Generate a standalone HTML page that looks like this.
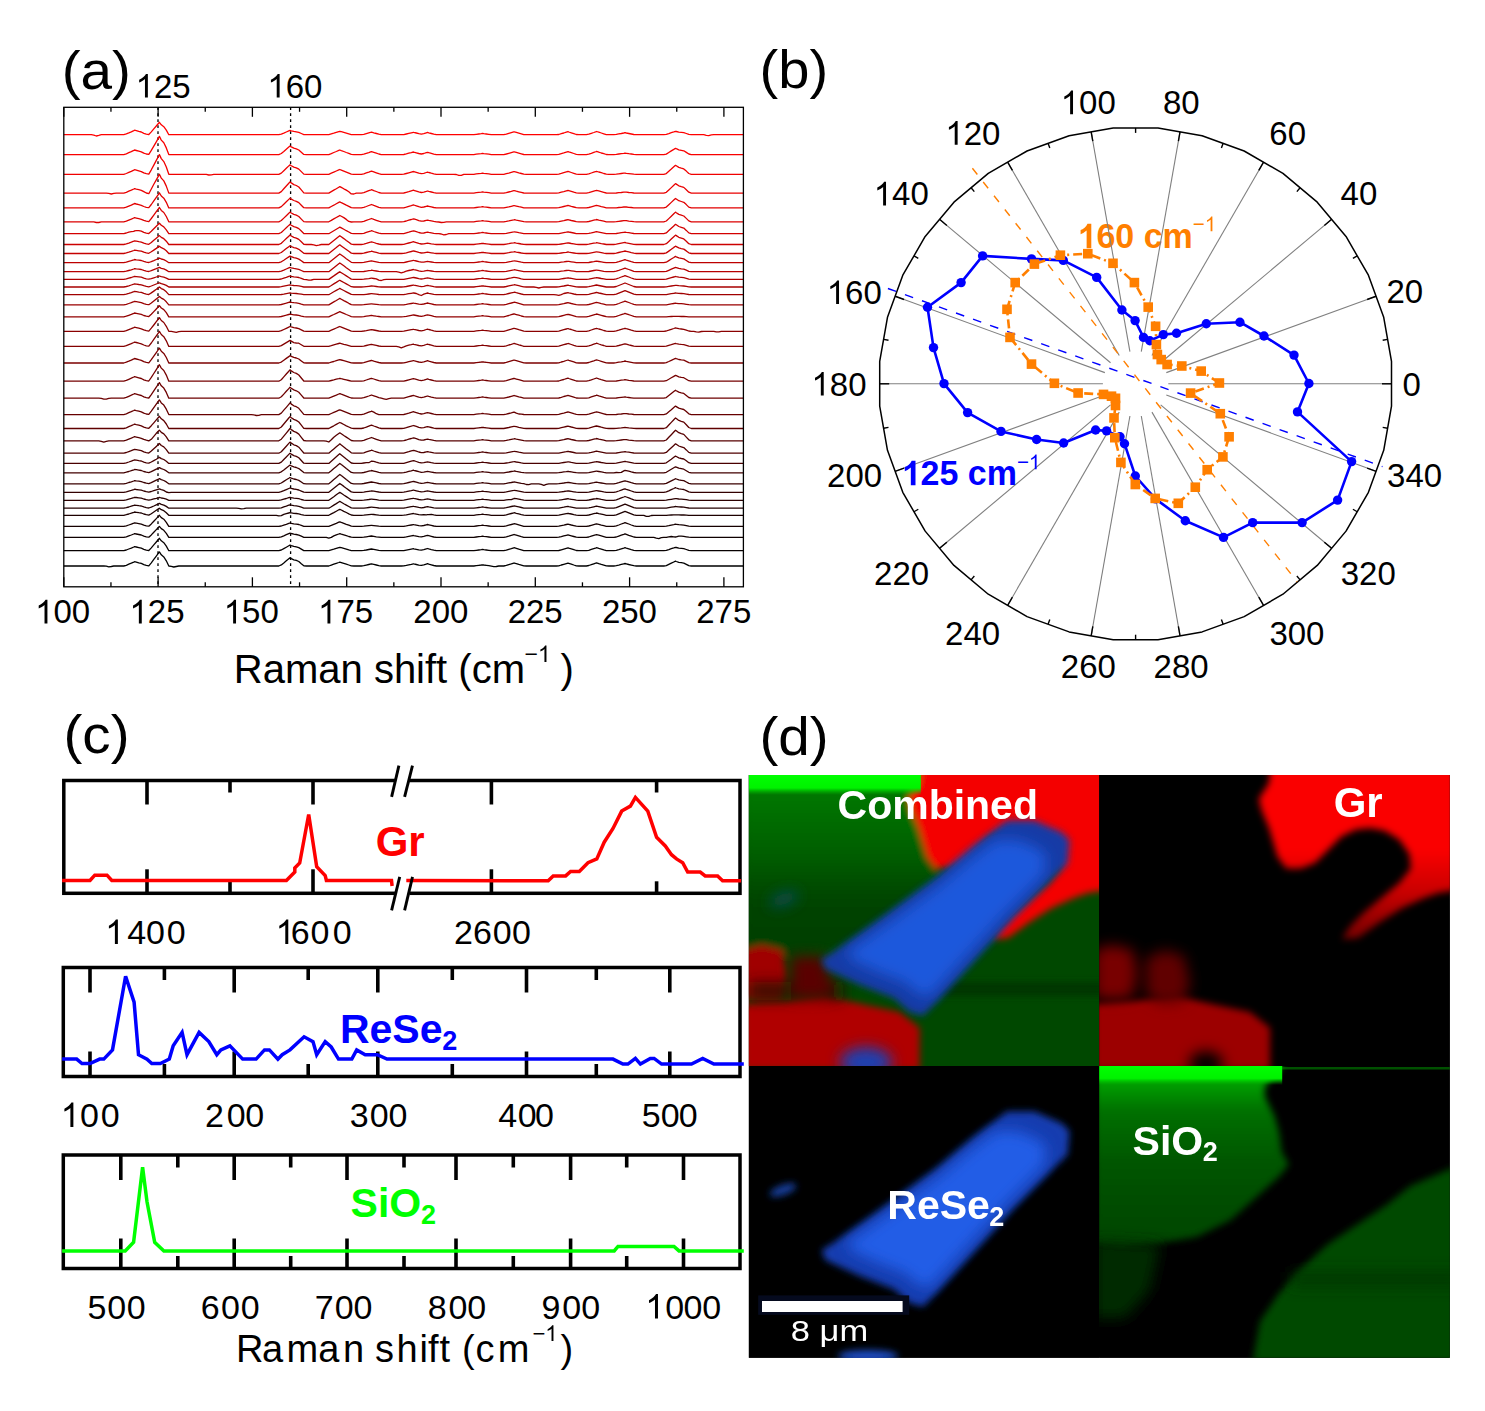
<!DOCTYPE html><html><head><meta charset="utf-8"><style>html,body{margin:0;padding:0;background:#fff;overflow:hidden}svg{display:block}text{font-kerning:none}</style></head><body><svg width="1485" height="1411" viewBox="0 0 1485 1411" font-family="'Liberation Sans', sans-serif">
<rect width="1485" height="1411" fill="#fff"/>
<line x1="158.00" y1="107.3" x2="158.00" y2="586.8" stroke="#000" stroke-width="1.3" stroke-dasharray="2.6 3.4"/>
<line x1="290.60" y1="107.3" x2="290.60" y2="586.8" stroke="#000" stroke-width="1.3" stroke-dasharray="2.6 3.4"/>
<polyline fill="none" stroke="rgb(255,0,0)" stroke-width="1.3" stroke-linejoin="round" points="63.8,134.7 66.3,134.7 68.8,134.7 71.3,134.7 73.8,134.7 76.3,134.7 78.8,134.7 81.3,134.7 83.8,134.7 86.3,134.7 88.8,134.7 91.3,134.7 93.8,135.1 96.3,136.0 98.8,135.4 101.3,134.7 103.8,134.7 106.3,134.7 108.8,134.7 111.3,134.7 113.8,134.7 116.3,134.7 118.8,134.7 121.3,134.7 123.8,134.7 126.3,133.9 128.8,132.9 131.3,131.8 133.8,130.6 134.5,130.2 136.3,130.7 138.8,131.4 141.3,132.0 143.8,133.3 146.3,134.1 148.8,134.5 151.3,131.9 153.8,128.9 156.3,126.0 158.8,123.0 159.4,122.3 161.3,124.8 163.8,126.7 166.3,130.1 168.8,134.7 171.3,134.7 173.8,134.7 176.3,134.7 178.8,134.7 181.3,134.7 183.8,134.7 186.3,134.7 188.8,134.7 191.3,134.7 193.8,134.7 196.3,134.7 198.8,134.7 201.3,134.7 203.8,134.7 206.3,134.7 208.8,134.7 211.3,134.7 213.8,134.7 216.3,134.7 218.8,134.7 221.3,134.7 223.8,134.7 226.3,134.7 228.8,134.7 231.3,134.7 233.8,134.7 236.3,134.7 238.8,134.7 241.3,134.7 243.8,134.7 246.3,134.7 248.8,134.7 251.3,134.7 253.8,134.7 256.3,134.7 258.8,134.7 261.3,134.7 263.8,134.7 266.3,134.7 268.8,134.7 271.3,134.7 273.8,134.7 276.3,134.7 278.8,134.7 281.3,134.1 283.8,133.1 286.3,132.0 288.8,130.9 290.0,130.4 291.3,130.8 293.8,131.4 296.3,131.8 298.8,132.4 301.3,133.5 303.8,134.6 306.3,134.7 308.8,134.7 311.3,134.7 313.8,134.7 316.3,134.7 318.8,134.7 321.3,134.7 323.8,134.7 326.3,134.7 328.8,134.7 331.3,133.9 333.8,133.2 336.3,132.4 338.8,131.6 339.8,131.3 341.3,131.7 343.8,132.4 346.3,133.1 348.8,133.8 351.3,134.6 353.8,134.7 356.3,134.7 358.8,134.7 361.3,134.7 363.8,134.3 366.3,133.6 368.8,132.9 371.3,132.2 371.5,132.1 373.8,132.8 376.3,133.5 378.8,134.2 381.3,134.7 383.8,134.7 386.3,134.7 388.8,134.7 391.3,134.7 393.8,134.7 396.3,134.7 398.8,134.7 401.3,134.7 403.8,134.6 406.3,134.0 408.8,133.4 411.3,132.8 413.5,132.3 413.8,132.4 416.3,133.0 418.8,133.7 421.3,134.1 423.8,133.6 426.3,132.8 427.5,132.4 428.8,132.8 431.3,133.5 433.8,134.2 436.3,134.7 438.8,134.7 441.3,134.7 443.8,134.7 446.3,134.7 448.8,134.7 451.3,134.7 453.8,134.7 456.3,134.7 458.8,134.7 461.3,134.7 463.8,134.7 466.3,134.7 468.8,134.7 471.3,134.7 473.8,134.7 476.3,134.3 478.8,134.0 481.3,133.7 482.5,133.5 483.8,133.7 486.3,134.0 488.8,134.3 491.3,134.7 493.8,134.7 496.3,134.7 498.8,134.7 501.3,134.7 503.8,134.7 506.3,134.1 508.8,133.3 511.3,132.6 513.8,131.9 514.2,131.8 516.3,132.4 518.8,133.1 521.3,133.8 523.8,134.6 526.3,134.7 528.8,134.7 531.3,134.7 533.8,134.7 536.3,134.7 538.8,134.7 541.3,134.7 543.8,134.7 546.3,134.7 548.8,134.7 551.3,134.7 553.8,134.7 556.3,134.7 558.8,134.5 561.3,133.7 563.8,133.0 566.3,132.2 568.0,131.7 568.8,132.0 571.3,132.8 573.8,133.6 576.3,134.5 578.8,134.7 581.3,134.7 583.8,134.7 586.3,134.7 588.8,134.2 591.3,133.3 593.8,132.5 596.3,131.6 596.5,131.5 598.8,132.2 601.3,133.0 603.8,133.8 606.3,134.6 608.8,134.7 611.3,134.7 613.8,134.7 616.3,134.4 618.8,133.9 621.3,133.5 623.8,133.0 625.0,132.7 626.3,133.0 628.8,133.5 631.3,134.0 633.8,134.5 636.3,134.7 638.8,134.7 641.3,134.7 643.8,134.7 646.3,134.7 648.8,134.7 651.3,134.7 653.8,134.7 656.3,134.7 658.8,134.7 661.3,134.7 663.8,134.7 666.3,134.4 668.8,133.6 671.3,132.7 673.8,131.9 675.5,131.3 676.3,131.5 678.8,132.1 681.3,132.4 683.8,132.7 686.3,133.5 688.8,134.4 691.3,134.7 693.8,134.7 696.3,134.7 698.8,134.7 701.3,134.7 703.8,134.7 706.3,135.4 708.8,135.6 711.3,134.9 713.8,134.7 716.3,134.7 718.8,134.7 721.3,134.7 723.8,134.7 726.3,134.7 728.8,134.7 731.3,134.7 733.8,134.7 736.3,134.7 738.8,134.7 741.3,134.7 743.4,134.7"/>
<polyline fill="none" stroke="rgb(248,0,0)" stroke-width="1.3" stroke-linejoin="round" points="63.8,154.6 66.3,154.6 68.8,154.6 71.3,154.6 73.8,154.6 76.3,154.6 78.8,154.6 81.3,154.6 83.8,154.6 86.3,154.6 88.8,154.6 91.3,154.6 93.8,154.6 96.3,154.6 98.8,154.6 101.3,154.6 103.8,154.6 106.3,154.6 108.8,154.6 111.3,154.6 113.8,154.6 116.3,154.6 118.8,154.6 121.3,154.6 123.8,154.6 126.3,153.8 128.8,152.7 131.3,151.6 133.8,150.4 134.5,150.0 136.3,150.5 138.8,151.2 141.3,151.9 143.8,153.2 146.3,154.0 148.8,154.4 151.3,150.4 153.8,146.1 156.3,141.8 158.8,137.4 159.4,136.4 161.3,140.1 163.8,142.8 166.3,147.9 168.8,154.6 171.3,154.6 173.8,154.6 176.3,154.6 178.8,154.6 181.3,154.6 183.8,154.6 186.3,154.6 188.8,154.6 191.3,154.6 193.8,154.6 196.3,154.6 198.8,154.6 201.3,154.6 203.8,154.6 206.3,154.6 208.8,154.6 211.3,154.6 213.8,154.6 216.3,154.6 218.8,154.6 221.3,154.6 223.8,154.6 226.3,154.6 228.8,154.6 231.3,154.6 233.8,154.6 236.3,154.6 238.8,154.6 241.3,154.6 243.8,154.6 246.3,154.6 248.8,154.6 251.3,154.6 253.8,154.6 256.3,154.6 258.8,154.6 261.3,154.6 263.8,154.6 266.3,154.6 268.8,154.6 271.3,154.6 273.8,154.6 276.3,154.6 278.8,154.6 281.3,153.5 283.8,151.4 286.3,149.2 288.8,147.1 290.0,146.1 291.3,146.9 293.8,148.1 296.3,148.8 298.8,150.0 301.3,152.2 303.8,154.4 306.3,154.6 308.8,154.6 311.3,154.6 313.8,154.6 316.3,154.6 318.8,154.6 321.3,154.6 323.8,154.6 326.3,154.6 328.8,154.6 331.3,153.6 333.8,152.5 336.3,151.5 338.8,150.4 339.8,150.0 341.3,150.6 343.8,151.5 346.3,152.5 348.8,153.4 351.3,154.4 353.8,154.6 356.3,154.6 358.8,154.6 361.3,154.6 363.8,154.2 366.3,153.4 368.8,152.6 371.3,151.7 371.5,151.7 373.8,152.4 376.3,153.2 378.8,154.0 381.3,154.6 383.8,154.6 386.3,154.6 388.8,154.6 391.3,154.6 393.8,154.6 396.3,154.6 398.8,154.6 401.3,154.6 403.8,154.5 406.3,153.9 408.8,153.2 411.3,152.6 413.5,152.0 413.8,152.1 416.3,152.8 418.8,153.5 421.3,154.0 423.8,153.5 426.3,152.7 427.5,152.3 428.8,152.7 431.3,153.4 433.8,154.1 436.3,154.6 438.8,154.6 441.3,154.6 443.8,154.6 446.3,154.6 448.8,154.6 451.3,154.6 453.8,154.6 456.3,154.6 458.8,154.6 461.3,154.6 463.8,154.6 466.3,154.6 468.8,154.6 471.3,154.6 473.8,154.6 476.3,154.2 478.8,153.9 481.3,153.6 482.5,153.4 483.8,153.6 486.3,153.9 488.8,154.2 491.3,154.6 493.8,154.6 496.3,154.6 498.8,154.6 501.3,154.6 503.8,154.6 506.3,154.0 508.8,153.3 511.3,152.6 513.8,151.9 514.2,151.8 516.3,152.4 518.8,153.1 521.3,153.8 523.8,154.5 526.3,154.6 528.8,154.6 531.3,154.6 533.8,154.6 536.3,154.6 538.8,154.6 541.3,154.6 543.8,154.6 546.3,154.6 548.8,154.6 551.3,154.6 553.8,154.6 556.3,154.6 558.8,154.4 561.3,153.6 563.8,152.9 566.3,152.1 568.0,151.6 568.8,151.9 571.3,152.7 573.8,153.5 576.3,154.4 578.8,154.6 581.3,154.6 583.8,154.6 586.3,154.6 588.8,154.1 591.3,153.3 593.8,152.4 596.3,151.5 596.5,151.4 598.8,152.2 601.3,153.0 603.8,153.7 606.3,154.5 608.8,154.6 611.3,154.6 613.8,154.6 616.3,154.4 618.8,154.0 621.3,153.6 623.8,153.3 625.0,153.1 626.3,153.3 628.8,153.7 631.3,154.0 633.8,154.4 636.3,154.6 638.8,154.6 641.3,154.6 643.8,154.6 646.3,154.6 648.8,154.6 651.3,154.6 653.8,154.6 656.3,154.6 658.8,154.6 661.3,154.6 663.8,154.6 666.3,154.1 668.8,152.5 671.3,150.9 673.8,149.4 675.5,148.3 676.3,148.7 678.8,149.8 681.3,150.3 683.8,150.8 686.3,152.4 688.8,154.0 691.3,154.6 693.8,154.6 696.3,154.6 698.8,154.6 701.3,154.6 703.8,154.6 706.3,154.6 708.8,154.6 711.3,154.6 713.8,154.6 716.3,154.6 718.8,154.6 721.3,154.6 723.8,154.6 726.3,154.6 728.8,154.6 731.3,154.6 733.8,154.6 736.3,154.6 738.8,154.6 741.3,154.6 743.4,154.6"/>
<polyline fill="none" stroke="rgb(240,0,0)" stroke-width="1.3" stroke-linejoin="round" points="63.8,174.3 66.3,174.3 68.8,174.3 71.3,174.3 73.8,174.3 76.3,174.3 78.8,174.3 81.3,174.3 83.8,174.3 86.3,174.3 88.8,174.3 91.3,174.3 93.8,174.3 96.3,174.3 98.8,174.3 101.3,174.3 103.8,174.3 106.3,174.3 108.8,174.3 111.3,174.3 113.8,174.3 116.3,174.3 118.8,174.3 121.3,174.3 123.8,174.3 126.3,173.5 128.8,172.4 131.3,171.3 133.8,170.1 134.5,169.7 136.3,170.2 138.8,170.9 141.3,171.6 143.8,172.9 146.3,173.7 148.8,174.1 151.3,169.8 153.8,165.1 156.3,160.4 158.8,155.7 159.4,154.6 161.3,158.6 163.8,161.6 166.3,167.0 168.8,174.3 171.3,174.3 173.8,174.3 176.3,174.3 178.8,174.3 181.3,174.3 183.8,174.3 186.3,174.3 188.8,174.3 191.3,174.3 193.8,174.3 196.3,174.3 198.8,174.3 201.3,174.3 203.8,174.3 206.3,174.4 208.8,175.0 211.3,174.8 213.8,174.3 216.3,174.3 218.8,174.3 221.3,174.3 223.8,174.3 226.3,174.3 228.8,174.3 231.3,174.3 233.8,174.3 236.3,174.3 238.8,174.3 241.3,174.3 243.8,174.3 246.3,174.3 248.8,174.3 251.3,174.3 253.8,174.3 256.3,174.3 258.8,174.3 261.3,174.3 263.8,174.3 266.3,174.3 268.8,174.3 271.3,174.3 273.8,174.3 276.3,174.3 278.8,174.3 281.3,173.1 283.8,170.7 286.3,168.3 288.8,165.9 290.0,164.8 291.3,165.7 293.8,167.1 296.3,167.8 298.8,169.1 301.3,171.6 303.8,174.1 306.3,174.3 308.8,174.3 311.3,174.3 313.8,174.3 316.3,174.3 318.8,174.3 321.3,174.3 323.8,174.3 326.3,174.3 328.8,174.3 331.3,173.2 333.8,172.1 336.3,171.0 338.8,169.9 339.8,169.5 341.3,170.1 343.8,171.1 346.3,172.1 348.8,173.1 351.3,174.1 353.8,174.3 356.3,174.3 358.8,174.3 361.3,174.3 363.8,173.8 366.3,172.9 368.8,172.1 371.3,171.2 371.5,171.1 373.8,171.9 376.3,172.8 378.8,173.7 381.3,174.3 383.8,174.3 386.3,174.3 388.8,174.3 391.3,174.3 393.8,174.3 396.3,174.3 398.8,174.3 401.3,174.3 403.8,174.2 406.3,173.5 408.8,172.8 411.3,172.1 413.5,171.5 413.8,171.6 416.3,172.4 418.8,173.2 421.3,173.7 423.8,173.3 426.3,172.5 427.5,172.1 428.8,172.5 431.3,173.2 433.8,173.8 436.3,174.3 438.8,174.3 441.3,174.3 443.8,174.3 446.3,174.3 448.8,174.3 451.3,174.3 453.8,174.3 456.3,174.5 458.8,175.4 461.3,175.3 463.8,174.3 466.3,174.3 468.8,174.3 471.3,174.3 473.8,174.3 476.3,173.9 478.8,173.6 481.3,173.3 482.5,173.1 483.8,173.3 486.3,173.6 488.8,173.9 491.3,174.3 493.8,174.3 496.3,174.3 498.8,174.3 501.3,174.3 503.8,174.3 506.3,173.7 508.8,173.1 511.3,172.4 513.8,171.7 514.2,171.6 516.3,172.2 518.8,172.9 521.3,173.5 523.8,174.2 526.3,174.3 528.8,174.3 531.3,174.3 533.8,174.3 536.3,174.3 538.8,174.3 541.3,174.3 543.8,174.3 546.3,174.3 548.8,174.3 551.3,174.3 553.8,174.3 556.3,174.3 558.8,174.1 561.3,173.4 563.8,172.6 566.3,171.9 568.0,171.5 568.8,171.7 571.3,172.5 573.8,173.3 576.3,174.1 578.8,174.3 581.3,174.3 583.8,174.3 586.3,174.3 588.8,173.9 591.3,173.0 593.8,172.2 596.3,171.4 596.5,171.3 598.8,172.0 601.3,172.7 603.8,173.5 606.3,174.2 608.8,174.3 611.3,174.3 613.8,174.3 616.3,174.1 618.8,173.8 621.3,173.5 623.8,173.2 625.0,173.1 626.3,173.3 628.8,173.6 631.3,173.9 633.8,174.2 636.3,174.3 638.8,174.3 641.3,174.3 643.8,174.3 646.3,174.3 648.8,174.3 651.3,174.3 653.8,174.3 656.3,174.3 658.8,174.3 661.3,174.3 663.8,174.3 666.3,173.6 668.8,171.3 671.3,169.1 673.8,166.8 675.5,165.3 676.3,165.8 678.8,167.4 681.3,168.2 683.8,168.9 686.3,171.1 688.8,173.5 691.3,174.3 693.8,174.3 696.3,174.3 698.8,174.3 701.3,174.3 703.8,174.3 706.3,174.3 708.8,174.3 711.3,174.3 713.8,174.3 716.3,174.3 718.8,174.3 721.3,174.3 723.8,174.3 726.3,174.3 728.8,174.3 731.3,174.3 733.8,174.3 736.3,174.3 738.8,174.3 741.3,174.3 743.4,174.3"/>
<polyline fill="none" stroke="rgb(233,0,0)" stroke-width="1.3" stroke-linejoin="round" points="63.8,193.1 66.3,193.1 68.8,193.1 71.3,193.1 73.8,193.1 76.3,193.1 78.8,193.1 81.3,193.1 83.8,193.1 86.3,193.1 88.8,193.1 91.3,193.1 93.8,193.1 96.3,193.1 98.8,193.1 101.3,193.1 103.8,193.1 106.3,193.1 108.8,193.4 111.3,194.0 113.8,193.4 116.3,193.1 118.8,193.1 121.3,193.1 123.8,193.1 126.3,192.3 128.8,191.2 131.3,190.2 133.8,189.0 134.5,188.6 136.3,189.1 138.8,189.7 141.3,190.4 143.8,191.7 146.3,193.0 148.8,193.7 151.3,189.0 153.8,184.3 156.3,179.9 158.8,175.4 159.4,174.3 161.3,178.1 163.8,180.9 166.3,186.1 168.8,193.1 171.3,193.1 173.8,193.1 176.3,193.1 178.8,193.1 181.3,193.1 183.8,193.1 186.3,193.1 188.8,193.1 191.3,193.1 193.8,193.1 196.3,193.1 198.8,193.1 201.3,193.1 203.8,193.1 206.3,193.1 208.8,193.1 211.3,193.1 213.8,193.1 216.3,193.1 218.8,193.1 221.3,193.1 223.8,193.1 226.3,193.1 228.8,193.1 231.3,193.1 233.8,193.1 236.3,193.1 238.8,193.1 241.3,193.1 243.8,193.1 246.3,193.1 248.8,193.1 251.3,193.1 253.8,193.1 256.3,193.1 258.8,193.1 261.3,193.1 263.8,193.1 266.3,193.1 268.8,193.1 271.3,193.1 273.8,193.1 276.3,193.1 278.8,193.1 281.3,191.6 283.8,188.8 286.3,186.0 288.8,183.2 290.0,181.9 291.3,182.9 293.8,184.6 296.3,185.5 298.8,187.0 301.3,189.9 303.8,192.9 306.3,193.1 308.8,193.1 311.3,193.1 313.8,193.1 316.3,193.1 318.8,193.1 321.3,193.1 323.8,193.1 326.3,193.1 328.8,193.1 331.3,191.6 333.8,190.1 336.3,188.7 338.8,187.2 339.8,186.6 341.3,187.4 343.8,188.8 346.3,190.1 348.8,191.7 351.3,193.9 353.8,194.0 356.3,193.1 358.8,193.1 361.3,193.1 363.8,192.6 366.3,191.7 368.8,190.7 371.3,189.8 371.5,189.7 373.8,190.6 376.3,191.5 378.8,192.5 381.3,193.1 383.8,193.1 386.3,193.1 388.8,193.1 391.3,193.1 393.8,193.1 396.3,193.1 398.8,193.1 401.3,193.1 403.8,193.0 406.3,192.3 408.8,191.6 411.3,190.8 413.5,190.2 413.8,190.3 416.3,191.1 418.8,191.9 421.3,192.5 423.8,192.1 426.3,191.4 427.5,191.0 428.8,191.4 431.3,192.0 433.8,192.7 436.3,193.1 438.8,193.1 441.3,193.1 443.8,193.1 446.3,193.1 448.8,193.1 451.3,193.1 453.8,193.1 456.3,193.1 458.8,193.1 461.3,193.1 463.8,193.1 466.3,193.1 468.8,193.1 471.3,193.1 473.8,193.1 476.3,192.7 478.8,192.4 481.3,192.1 482.5,191.9 483.8,192.1 486.3,192.4 488.8,192.7 491.3,193.1 493.8,193.1 496.3,193.1 498.8,193.1 501.3,193.1 503.8,193.1 506.3,192.6 508.8,192.0 511.3,191.4 513.8,190.7 514.2,190.6 516.3,191.2 518.8,191.8 521.3,192.4 523.8,193.0 526.3,193.1 528.8,193.1 531.3,193.1 533.8,193.1 536.3,193.1 538.8,193.1 541.3,193.1 543.8,193.1 546.3,193.1 548.8,193.1 551.3,193.1 553.8,193.1 556.3,193.1 558.8,192.9 561.3,192.2 563.8,191.6 566.3,190.9 568.0,190.5 568.8,190.7 571.3,191.4 573.8,192.2 576.3,192.9 578.8,193.1 581.3,193.1 583.8,193.1 586.3,193.1 588.8,192.7 591.3,191.9 593.8,191.1 596.3,190.4 596.5,190.3 598.8,190.9 601.3,191.6 603.8,192.3 606.3,193.0 608.8,193.1 611.3,193.1 613.8,193.1 616.3,193.0 618.8,192.7 621.3,192.5 623.8,192.2 625.0,192.1 626.3,192.2 628.8,192.5 631.3,192.7 633.8,193.0 636.3,193.1 638.8,193.1 641.3,193.1 643.8,193.1 646.3,193.1 648.8,193.1 651.3,193.1 653.8,193.1 656.3,193.1 658.8,193.1 661.3,193.1 663.8,193.1 666.3,192.3 668.8,190.0 671.3,187.6 673.8,185.2 675.5,183.6 676.3,184.1 678.8,185.8 681.3,186.7 683.8,187.4 686.3,189.8 688.8,192.2 691.3,193.1 693.8,193.1 696.3,193.1 698.8,193.1 701.3,193.1 703.8,193.1 706.3,193.1 708.8,193.1 711.3,193.1 713.8,193.1 716.3,193.1 718.8,193.1 721.3,193.1 723.8,193.1 726.3,193.1 728.8,193.1 731.3,193.1 733.8,193.1 736.3,193.1 738.8,193.1 741.3,193.1 743.4,193.1"/>
<polyline fill="none" stroke="rgb(226,0,0)" stroke-width="1.3" stroke-linejoin="round" points="63.8,207.9 66.3,207.9 68.8,207.9 71.3,207.9 73.8,207.9 76.3,207.9 78.8,207.9 81.3,207.9 83.8,207.9 86.3,207.9 88.8,207.9 91.3,207.9 93.8,207.9 96.3,207.9 98.8,207.9 101.3,207.9 103.8,207.9 106.3,207.9 108.8,207.9 111.3,207.9 113.8,207.9 116.3,207.9 118.8,207.9 121.3,207.9 123.8,207.9 126.3,207.2 128.8,206.1 131.3,205.1 133.8,203.9 134.5,203.5 136.3,204.0 138.8,204.6 141.3,205.3 143.8,206.5 146.3,207.3 148.8,207.7 151.3,204.5 153.8,200.9 156.3,197.3 158.8,193.8 159.4,192.9 161.3,196.0 163.8,198.2 166.3,202.3 168.8,207.9 171.3,207.9 173.8,207.9 176.3,207.9 178.8,207.9 181.3,207.9 183.8,207.9 186.3,207.9 188.8,207.9 191.3,207.9 193.8,207.9 196.3,207.9 198.8,207.9 201.3,207.9 203.8,207.9 206.3,207.9 208.8,207.9 211.3,207.9 213.8,207.9 216.3,207.9 218.8,207.9 221.3,207.9 223.8,207.9 226.3,207.9 228.8,207.9 231.3,207.9 233.8,207.9 236.3,207.9 238.8,207.9 241.3,207.9 243.8,207.9 246.3,207.9 248.8,207.9 251.3,207.9 253.8,207.9 256.3,207.9 258.8,207.9 261.3,207.9 263.8,207.9 266.3,207.9 268.8,207.9 271.3,207.9 273.8,207.9 276.3,207.9 278.8,207.9 281.3,206.6 283.8,204.2 286.3,201.8 288.8,199.4 290.0,198.2 291.3,199.1 293.8,200.5 296.3,201.3 298.8,202.6 301.3,205.2 303.8,207.7 306.3,207.9 308.8,207.9 311.3,207.9 313.8,207.9 316.3,207.9 318.8,207.9 321.3,207.9 323.8,207.9 326.3,207.9 328.8,207.9 331.3,206.5 333.8,205.2 336.3,203.8 338.8,202.4 339.8,201.9 341.3,202.7 343.8,203.9 346.3,205.2 348.8,206.4 351.3,207.7 353.8,207.9 356.3,207.9 358.8,207.9 361.3,207.9 363.8,207.4 366.3,206.5 368.8,205.5 371.3,204.6 371.5,204.5 373.8,205.4 376.3,206.3 378.8,207.3 381.3,207.9 383.8,207.9 386.3,207.9 388.8,207.9 391.3,207.9 393.8,207.9 396.3,207.9 398.8,207.9 401.3,207.9 403.8,207.8 406.3,207.1 408.8,206.3 411.3,205.6 413.5,204.9 413.8,205.0 416.3,205.8 418.8,206.7 421.3,207.3 423.8,207.0 426.3,206.3 427.5,206.0 428.8,206.3 431.3,206.9 433.8,207.5 436.3,207.9 438.8,207.9 441.3,207.9 443.8,207.9 446.3,207.9 448.8,207.9 451.3,207.9 453.8,207.9 456.3,207.9 458.8,207.9 461.3,207.9 463.8,207.9 466.3,207.9 468.8,207.9 471.3,207.9 473.8,207.9 476.3,207.5 478.8,207.2 481.3,206.9 482.5,206.7 483.8,206.9 486.3,207.2 488.8,207.5 491.3,207.9 493.8,207.9 496.3,207.9 498.8,207.9 501.3,207.9 503.8,207.9 506.3,207.4 508.8,206.9 511.3,206.3 513.8,205.7 514.2,205.7 516.3,206.1 518.8,206.7 521.3,207.2 523.8,207.8 526.3,207.9 528.8,207.9 531.3,207.9 533.8,207.9 536.3,207.9 538.8,207.9 541.3,207.9 543.8,207.9 546.3,207.9 548.8,207.9 551.3,207.9 553.8,207.9 556.3,207.9 558.8,207.7 561.3,207.1 563.8,206.5 566.3,205.9 568.0,205.5 568.8,205.7 571.3,206.4 573.8,207.0 576.3,207.7 578.8,207.9 581.3,207.9 583.8,207.9 586.3,207.9 588.8,207.5 591.3,206.8 593.8,206.1 596.3,205.4 596.5,205.4 598.8,205.9 601.3,206.6 603.8,207.2 606.3,207.8 608.8,207.9 611.3,207.9 613.8,207.9 616.3,207.8 618.8,207.5 621.3,207.3 623.8,207.0 625.0,206.9 626.3,207.0 628.8,207.3 631.3,207.5 633.8,207.8 636.3,207.9 638.8,207.9 641.3,207.9 643.8,207.9 646.3,207.9 648.8,207.9 651.3,207.9 653.8,207.9 656.3,207.9 658.8,207.9 661.3,207.9 663.8,207.9 666.3,207.1 668.8,204.8 671.3,202.4 673.8,200.1 675.5,198.5 676.3,199.0 678.8,200.7 681.3,201.5 683.8,202.3 686.3,204.6 688.8,207.1 691.3,207.9 693.8,207.9 696.3,207.9 698.8,207.9 701.3,207.9 703.8,207.9 706.3,207.9 708.8,207.9 711.3,207.9 713.8,207.9 716.3,207.9 718.8,207.9 721.3,207.9 723.8,207.9 726.3,207.9 728.8,207.9 731.3,207.9 733.8,207.9 736.3,207.9 738.8,207.9 741.3,207.9 743.4,207.9"/>
<polyline fill="none" stroke="rgb(219,0,0)" stroke-width="1.3" stroke-linejoin="round" points="63.8,221.8 66.3,221.8 68.8,221.8 71.3,221.8 73.8,221.8 76.3,221.8 78.8,221.8 81.3,221.8 83.8,221.8 86.3,221.8 88.8,221.8 91.3,221.8 93.8,221.9 96.3,222.5 98.8,222.5 101.3,221.8 103.8,221.8 106.3,221.8 108.8,221.8 111.3,221.8 113.8,221.8 116.3,221.8 118.8,221.8 121.3,221.8 123.8,221.8 126.3,221.1 128.8,220.1 131.3,219.1 133.8,218.0 134.5,217.7 136.3,218.1 138.8,218.7 141.3,219.3 143.8,220.4 146.3,221.2 148.8,221.6 151.3,218.5 153.8,215.1 156.3,211.7 158.8,208.3 159.4,207.5 161.3,210.4 163.8,212.5 166.3,216.5 168.8,221.8 171.3,221.8 173.8,221.8 176.3,221.8 178.8,221.8 181.3,221.8 183.8,221.8 186.3,221.8 188.8,221.8 191.3,221.8 193.8,221.8 196.3,221.8 198.8,221.8 201.3,221.8 203.8,221.8 206.3,221.8 208.8,221.8 211.3,221.8 213.8,221.8 216.3,221.8 218.8,221.8 221.3,221.8 223.8,221.8 226.3,221.8 228.8,221.8 231.3,221.8 233.8,221.8 236.3,221.8 238.8,221.8 241.3,221.8 243.8,221.8 246.3,221.8 248.8,221.8 251.3,221.8 253.8,221.8 256.3,221.8 258.8,221.8 261.3,221.8 263.8,221.8 266.3,221.8 268.8,221.8 271.3,221.8 273.8,221.8 276.3,221.8 278.8,221.8 281.3,220.5 283.8,218.1 286.3,215.7 288.8,213.3 290.0,212.1 291.3,213.0 293.8,214.4 296.3,215.2 298.8,216.5 301.3,219.1 303.8,221.6 306.3,221.8 308.8,221.8 311.3,221.8 313.8,221.8 316.3,221.8 318.8,221.8 321.3,221.8 323.8,221.8 326.3,221.8 328.8,221.8 331.3,220.4 333.8,218.9 336.3,217.5 338.8,216.1 339.8,215.5 341.3,216.3 343.8,217.6 346.3,219.4 348.8,221.4 351.3,222.0 353.8,221.8 356.3,221.8 358.8,221.8 361.3,221.8 363.8,221.3 366.3,220.4 368.8,219.5 371.3,218.6 371.5,218.5 373.8,219.4 376.3,220.3 378.8,221.2 381.3,221.8 383.8,221.8 386.3,221.8 388.8,221.8 391.3,221.8 393.8,221.8 396.3,221.8 398.8,221.8 401.3,221.8 403.8,221.7 406.3,221.0 408.8,220.2 411.3,219.5 413.5,218.8 413.8,218.9 416.3,219.7 418.8,220.6 421.3,221.2 423.8,221.0 426.3,220.4 427.5,220.1 428.8,220.4 431.3,220.9 433.8,221.4 436.3,221.8 438.8,222.0 441.3,222.5 443.8,222.3 446.3,221.8 448.8,221.8 451.3,221.8 453.8,221.8 456.3,221.8 458.8,221.8 461.3,221.8 463.8,221.8 466.3,221.8 468.8,221.8 471.3,221.8 473.8,221.8 476.3,221.4 478.8,221.1 481.3,220.8 482.5,220.6 483.8,220.8 486.3,221.1 488.8,221.4 491.3,221.8 493.8,221.8 496.3,221.8 498.8,221.8 501.3,221.8 503.8,221.8 506.3,221.4 508.8,220.9 511.3,220.3 513.8,219.8 514.2,219.7 516.3,220.2 518.8,220.7 521.3,221.2 523.8,221.7 526.3,221.8 528.8,221.8 531.3,221.8 533.8,221.8 536.3,221.8 538.8,221.8 541.3,221.8 543.8,221.8 546.3,221.8 548.8,221.8 551.3,221.8 553.8,221.8 556.3,221.8 558.8,221.6 561.3,221.1 563.8,220.6 566.3,220.0 568.0,219.7 568.8,219.9 571.3,220.5 573.8,221.0 576.3,221.6 578.8,221.8 581.3,221.8 583.8,221.8 586.3,221.8 588.8,221.5 591.3,220.8 593.8,220.2 596.3,219.6 596.5,219.5 598.8,220.1 601.3,220.6 603.8,221.2 606.3,221.8 608.8,221.8 611.3,221.8 613.8,221.8 616.3,221.6 618.8,221.3 621.3,221.0 623.8,220.7 625.0,220.6 626.3,220.7 628.8,221.1 631.3,221.4 633.8,221.7 636.3,221.8 638.8,221.8 641.3,221.8 643.8,221.8 646.3,221.8 648.8,221.8 651.3,221.8 653.8,221.8 656.3,221.8 658.8,221.8 661.3,221.8 663.8,221.8 666.3,221.0 668.8,218.6 671.3,216.2 673.8,213.7 675.5,212.1 676.3,212.7 678.8,214.4 681.3,215.2 683.8,216.0 686.3,218.4 688.8,220.9 691.3,221.8 693.8,221.8 696.3,221.8 698.8,221.8 701.3,221.8 703.8,221.8 706.3,221.8 708.8,221.8 711.3,221.8 713.8,221.8 716.3,221.8 718.8,221.8 721.3,221.8 723.8,221.8 726.3,221.8 728.8,221.8 731.3,221.8 733.8,221.8 736.3,221.8 738.8,221.8 741.3,221.8 743.4,221.8"/>
<polyline fill="none" stroke="rgb(211,0,0)" stroke-width="1.3" stroke-linejoin="round" points="63.8,233.7 66.3,233.7 68.8,233.7 71.3,233.7 73.8,233.7 76.3,233.7 78.8,233.7 81.3,233.7 83.8,233.7 86.3,233.7 88.8,233.7 91.3,233.7 93.8,233.7 96.3,233.7 98.8,233.7 101.3,233.7 103.8,233.7 106.3,233.7 108.8,233.7 111.3,233.7 113.8,233.7 116.3,233.7 118.8,233.7 121.3,233.7 123.8,233.7 126.3,233.0 128.8,232.1 131.3,231.7 133.8,231.4 134.5,230.9 136.3,230.7 138.8,230.7 141.3,231.2 143.8,232.4 146.3,233.1 148.8,233.5 151.3,231.3 153.8,228.8 156.3,226.3 158.8,223.8 159.4,223.2 161.3,225.3 163.8,226.9 166.3,229.8 168.8,233.7 171.3,233.7 173.8,233.7 176.3,233.7 178.8,233.7 181.3,233.7 183.8,233.7 186.3,233.7 188.8,233.7 191.3,233.7 193.8,233.7 196.3,233.7 198.8,233.7 201.3,233.7 203.8,233.7 206.3,233.7 208.8,233.7 211.3,233.7 213.8,233.7 216.3,233.7 218.8,233.7 221.3,233.7 223.8,233.7 226.3,233.7 228.8,233.7 231.3,233.7 233.8,233.7 236.3,233.7 238.8,233.7 241.3,233.7 243.8,233.7 246.3,233.7 248.8,233.7 251.3,233.7 253.8,233.7 256.3,233.7 258.8,233.7 261.3,233.7 263.8,233.7 266.3,233.7 268.8,233.7 271.3,233.7 273.8,233.7 276.3,233.7 278.8,233.7 281.3,232.5 283.8,230.1 286.3,227.8 288.8,225.4 290.0,224.3 291.3,225.2 293.8,226.6 296.3,227.3 298.8,228.6 301.3,231.0 303.8,233.5 306.3,233.7 308.8,233.7 311.3,233.7 313.8,233.7 316.3,233.7 318.8,233.7 321.3,233.7 323.8,233.7 326.3,233.7 328.8,233.7 331.3,232.2 333.8,230.7 336.3,229.2 338.8,227.7 339.8,227.1 341.3,227.9 343.8,229.3 346.3,230.7 348.8,232.0 351.3,233.4 353.8,233.7 356.3,233.7 358.8,233.7 361.3,233.7 363.8,233.3 366.3,232.4 368.8,231.6 371.3,230.8 371.5,230.7 373.8,231.5 376.3,232.3 378.8,233.1 381.3,233.7 383.8,233.7 386.3,233.7 388.8,233.7 391.3,233.7 393.8,233.7 396.3,233.7 398.8,233.7 401.3,233.7 403.8,233.6 406.3,232.9 408.8,232.2 411.3,231.4 413.5,230.8 413.8,230.9 416.3,231.7 418.8,232.5 421.3,233.1 423.8,233.0 426.3,232.4 427.5,232.1 428.8,232.4 431.3,232.9 433.8,233.4 436.3,233.7 438.8,233.7 441.3,234.0 443.8,234.8 446.3,234.5 448.8,233.7 451.3,233.7 453.8,233.7 456.3,233.7 458.8,233.7 461.3,233.7 463.8,233.7 466.3,233.7 468.8,233.7 471.3,233.7 473.8,233.7 476.3,233.3 478.8,233.0 481.3,232.7 482.5,232.5 483.8,232.7 486.3,233.0 488.8,233.3 491.3,233.7 493.8,233.7 496.3,233.7 498.8,233.7 501.3,233.7 503.8,233.7 506.3,233.3 508.8,232.8 511.3,232.3 513.8,231.9 514.2,231.8 516.3,232.2 518.8,232.7 521.3,233.1 523.8,233.6 526.3,233.7 528.8,233.7 531.3,233.7 533.8,233.7 536.3,233.7 538.8,233.7 541.3,233.7 543.8,233.7 546.3,233.7 548.8,233.7 551.3,233.7 553.8,233.7 556.3,233.7 558.8,233.6 561.3,233.1 563.8,232.6 566.3,232.2 568.0,231.8 568.8,232.0 571.3,232.5 573.8,233.0 576.3,233.6 578.8,233.7 581.3,233.7 583.8,233.7 586.3,233.7 588.8,233.4 591.3,232.9 593.8,232.3 596.3,231.7 596.5,231.7 598.8,232.2 601.3,232.7 603.8,233.2 606.3,233.7 608.8,233.7 611.3,233.7 613.8,233.7 616.3,233.5 618.8,233.1 621.3,232.7 623.8,232.3 625.0,232.2 626.3,232.4 628.8,232.7 631.3,233.1 633.8,233.5 636.3,233.7 638.8,233.7 641.3,233.7 643.8,233.7 646.3,233.7 648.8,233.7 651.3,233.7 653.8,233.7 656.3,233.7 658.8,233.7 661.3,233.7 663.8,233.7 666.3,232.9 668.8,230.6 671.3,228.2 673.8,225.9 675.5,224.3 676.3,224.8 678.8,226.5 681.3,227.3 683.8,228.1 686.3,230.4 688.8,232.9 691.3,233.7 693.8,233.7 696.3,233.7 698.8,233.7 701.3,233.7 703.8,233.7 706.3,233.7 708.8,233.7 711.3,233.7 713.8,233.7 716.3,233.7 718.8,233.7 721.3,233.7 723.8,233.7 726.3,233.7 728.8,233.7 731.3,233.7 733.8,233.7 736.3,233.7 738.8,233.7 741.3,233.7 743.4,233.7"/>
<polyline fill="none" stroke="rgb(204,0,0)" stroke-width="1.3" stroke-linejoin="round" points="63.8,244.5 66.3,244.5 68.8,244.5 71.3,244.5 73.8,244.5 76.3,244.5 78.8,244.5 81.3,244.5 83.8,244.5 86.3,244.5 88.8,244.5 91.3,244.5 93.8,244.5 96.3,244.5 98.8,244.5 101.3,244.5 103.8,244.5 106.3,244.5 108.8,244.5 111.3,244.5 113.8,244.5 116.3,244.5 118.8,244.5 121.3,244.5 123.8,244.5 126.3,243.9 128.8,243.1 131.3,242.2 133.8,241.2 134.5,240.9 136.3,241.2 138.8,241.7 141.3,242.1 143.8,243.2 146.3,243.9 148.8,244.3 151.3,242.5 153.8,240.3 156.3,238.2 158.8,236.1 159.4,235.6 161.3,237.4 163.8,238.7 166.3,241.2 168.8,244.5 171.3,244.5 173.8,244.5 176.3,244.5 178.8,244.5 181.3,244.5 183.8,244.5 186.3,244.5 188.8,244.5 191.3,244.5 193.8,244.5 196.3,244.5 198.8,244.5 201.3,244.5 203.8,244.5 206.3,244.5 208.8,244.5 211.3,244.5 213.8,244.5 216.3,244.5 218.8,244.5 221.3,244.5 223.8,244.5 226.3,244.5 228.8,244.5 231.3,244.5 233.8,244.5 236.3,244.5 238.8,244.5 241.3,244.5 243.8,244.5 246.3,244.5 248.8,244.5 251.3,244.5 253.8,244.5 256.3,244.5 258.8,244.5 261.3,244.5 263.8,244.5 266.3,244.5 268.8,244.5 271.3,244.5 273.8,244.5 276.3,244.5 278.8,244.5 281.3,243.3 283.8,240.9 286.3,238.6 288.8,236.2 290.0,235.1 291.3,236.0 293.8,237.4 296.3,238.1 298.8,239.4 301.3,241.8 303.8,244.3 306.3,244.5 308.8,244.5 311.3,244.5 313.8,244.8 316.3,245.6 318.8,245.1 321.3,244.5 323.8,244.5 326.3,244.5 328.8,244.5 331.3,242.5 333.8,240.5 336.3,238.5 338.8,236.5 339.8,235.7 341.3,236.8 343.8,238.6 346.3,240.5 348.8,242.3 351.3,244.1 353.8,244.5 356.3,244.5 358.8,244.5 361.3,244.5 363.8,244.1 366.3,243.4 368.8,242.6 371.3,241.9 371.5,241.8 373.8,242.5 376.3,243.3 378.8,244.0 381.3,244.5 383.8,244.5 386.3,244.5 388.8,244.5 391.3,244.5 393.8,244.5 396.3,244.5 398.8,244.5 401.3,244.5 403.8,244.4 406.3,243.7 408.8,243.0 411.3,242.3 413.5,241.7 413.8,241.8 416.3,242.6 418.8,243.4 421.3,244.0 423.8,243.8 426.3,243.3 427.5,243.1 428.8,243.3 431.3,243.8 433.8,244.2 436.3,244.5 438.8,244.5 441.3,244.5 443.8,244.5 446.3,244.5 448.8,244.5 451.3,244.5 453.8,244.5 456.3,244.5 458.8,244.5 461.3,244.5 463.8,244.5 466.3,244.5 468.8,244.5 471.3,244.5 473.8,244.5 476.3,244.1 478.8,243.8 481.3,243.5 482.5,243.3 483.8,243.5 486.3,243.8 488.8,244.1 491.3,244.5 493.8,244.5 496.3,244.5 498.8,244.5 501.3,244.5 503.8,244.5 506.3,244.1 508.8,243.7 511.3,243.2 513.8,242.8 514.2,242.7 516.3,243.1 518.8,243.5 521.3,244.0 523.8,244.4 526.3,244.5 528.8,244.5 531.3,244.5 533.8,244.5 536.3,244.5 538.8,244.5 541.3,244.5 543.8,244.5 546.3,244.5 548.8,244.5 551.3,244.5 553.8,244.5 556.3,244.5 558.8,244.4 561.3,244.0 563.8,243.6 566.3,243.2 568.0,242.9 568.8,243.0 571.3,243.5 573.8,243.9 576.3,244.4 578.8,244.5 581.3,244.5 583.8,244.5 586.3,244.5 588.8,244.2 591.3,243.7 593.8,243.2 596.3,242.8 596.5,242.7 598.8,243.1 601.3,243.6 603.8,244.0 606.3,244.5 608.8,244.5 611.3,244.5 613.8,244.5 616.3,244.2 618.8,243.7 621.3,243.2 623.8,242.7 625.0,242.5 626.3,242.8 628.8,243.3 631.3,243.8 633.8,244.3 636.3,244.5 638.8,244.5 641.3,244.5 643.8,244.5 646.3,244.5 648.8,244.5 651.3,244.5 653.8,244.5 656.3,244.5 658.8,244.5 661.3,244.5 663.8,244.5 666.3,243.7 668.8,241.4 671.3,239.0 673.8,236.7 675.5,235.1 676.3,235.6 678.8,237.3 681.3,238.1 683.8,238.9 686.3,241.2 688.8,243.7 691.3,244.5 693.8,244.5 696.3,244.5 698.8,244.5 701.3,244.5 703.8,244.5 706.3,244.5 708.8,244.5 711.3,244.5 713.8,244.5 716.3,244.5 718.8,244.5 721.3,244.5 723.8,244.5 726.3,244.5 728.8,244.5 731.3,244.5 733.8,244.5 736.3,244.5 738.8,244.5 741.3,244.5 743.4,244.5"/>
<polyline fill="none" stroke="rgb(197,0,0)" stroke-width="1.3" stroke-linejoin="round" points="63.8,253.5 66.3,253.5 68.8,253.5 71.3,253.5 73.8,253.5 76.3,253.5 78.8,253.5 81.3,253.5 83.8,253.5 86.3,253.5 88.8,253.5 91.3,253.5 93.8,253.5 96.3,253.5 98.8,253.5 101.3,253.5 103.8,253.5 106.3,253.5 108.8,253.5 111.3,253.5 113.8,253.5 116.3,253.5 118.8,253.5 121.3,253.5 123.8,253.5 126.3,252.9 128.8,252.2 131.3,251.4 133.8,250.5 134.5,250.2 136.3,250.4 138.8,250.8 141.3,251.2 143.8,252.2 146.3,252.9 148.8,253.3 151.3,251.8 153.8,250.1 156.3,248.4 158.8,246.6 159.4,246.2 161.3,247.7 163.8,248.8 166.3,250.8 168.8,253.5 171.3,253.5 173.8,253.5 176.3,253.5 178.8,253.5 181.3,253.5 183.8,253.5 186.3,253.5 188.8,253.5 191.3,253.5 193.8,253.5 196.3,253.5 198.8,253.5 201.3,253.5 203.8,253.5 206.3,253.5 208.8,253.5 211.3,253.5 213.8,253.5 216.3,253.5 218.8,253.5 221.3,253.5 223.8,253.5 226.3,253.5 228.8,253.5 231.3,253.5 233.8,253.5 236.3,253.5 238.8,253.5 241.3,253.5 243.8,253.5 246.3,253.5 248.8,253.5 251.3,253.5 253.8,253.5 256.3,253.5 258.8,253.5 261.3,253.5 263.8,253.5 266.3,253.5 268.8,253.5 271.3,253.5 273.8,253.5 276.3,253.5 278.8,253.5 281.3,252.5 283.8,250.6 286.3,248.6 288.8,246.7 290.0,245.8 291.3,246.5 293.8,247.6 296.3,248.2 298.8,249.3 301.3,251.3 303.8,253.3 306.3,253.5 308.8,253.5 311.3,253.5 313.8,253.5 316.3,253.5 318.8,253.5 321.3,253.5 323.8,253.5 326.3,253.5 328.8,253.5 331.3,251.5 333.8,249.5 336.3,247.6 338.8,245.6 339.8,244.8 341.3,245.9 343.8,247.7 346.3,249.5 348.8,251.3 351.3,253.1 353.8,253.5 356.3,253.5 358.8,253.5 361.3,253.5 363.8,253.2 366.3,252.5 368.8,251.9 371.3,251.3 371.5,251.2 373.8,251.8 376.3,252.4 378.8,253.1 381.3,253.5 383.8,253.5 386.3,253.5 388.8,253.5 391.3,253.5 393.8,253.5 396.3,253.5 398.8,253.5 401.3,253.5 403.8,253.4 406.3,252.8 408.8,252.1 411.3,251.5 413.5,250.9 413.8,251.0 416.3,251.7 418.8,252.4 421.3,253.0 423.8,252.9 426.3,252.4 427.5,252.2 428.8,252.4 431.3,252.8 433.8,253.2 436.3,253.5 438.8,253.5 441.3,253.5 443.8,253.5 446.3,253.5 448.8,253.5 451.3,253.5 453.8,253.5 456.3,253.5 458.8,253.5 461.3,253.5 463.8,253.5 466.3,253.5 468.8,253.5 471.3,253.5 473.8,253.5 476.3,253.1 478.8,252.8 481.3,252.5 482.5,252.3 483.8,252.5 486.3,252.8 488.8,253.1 491.3,253.5 493.8,253.5 496.3,253.5 498.8,253.5 501.3,253.5 503.8,253.5 506.3,253.1 508.8,252.7 511.3,252.2 513.8,251.8 514.2,251.7 516.3,252.1 518.8,252.5 521.3,253.0 523.8,253.4 526.3,253.5 528.8,253.5 531.3,253.5 533.8,253.5 536.3,253.5 538.8,253.5 541.3,253.5 543.8,253.5 546.3,253.5 548.8,253.5 551.3,253.5 553.8,253.5 556.3,253.5 558.8,253.4 561.3,253.0 563.8,252.6 566.3,252.3 568.0,252.0 568.8,252.2 571.3,252.6 573.8,253.0 576.3,253.4 578.8,253.5 581.3,253.5 583.8,253.5 586.3,253.5 588.8,253.3 591.3,252.8 593.8,252.3 596.3,251.9 596.5,251.9 598.8,252.2 601.3,252.6 603.8,253.1 606.3,253.5 608.8,253.5 611.3,253.5 613.8,253.5 616.3,253.2 618.8,252.5 621.3,251.9 623.8,251.3 625.0,251.0 626.3,251.3 628.8,251.9 631.3,252.6 633.8,253.2 636.3,253.5 638.8,253.5 641.3,253.5 643.8,253.5 646.3,253.5 648.8,253.5 651.3,253.5 653.8,253.5 656.3,253.5 658.8,253.5 661.3,253.5 663.8,253.5 666.3,252.9 668.8,251.1 671.3,249.3 673.8,247.4 675.5,246.2 676.3,246.6 678.8,247.9 681.3,248.6 683.8,249.1 686.3,250.9 688.8,252.8 691.3,253.5 693.8,253.5 696.3,253.5 698.8,253.5 701.3,253.5 703.8,253.5 706.3,253.5 708.8,253.5 711.3,253.5 713.8,253.5 716.3,253.5 718.8,253.5 721.3,253.5 723.8,253.5 726.3,253.5 728.8,253.5 731.3,253.5 733.8,253.5 736.3,253.5 738.8,253.5 741.3,253.5 743.4,253.5"/>
<polyline fill="none" stroke="rgb(189,0,0)" stroke-width="1.3" stroke-linejoin="round" points="63.8,262.7 66.3,262.7 68.8,262.7 71.3,262.7 73.8,262.7 76.3,262.7 78.8,262.7 81.3,262.7 83.8,262.7 86.3,262.7 88.8,262.7 91.3,262.7 93.8,262.7 96.3,262.7 98.8,262.7 101.3,262.7 103.8,262.7 106.3,262.7 108.8,262.7 111.3,262.7 113.8,262.7 116.3,262.7 118.8,262.7 121.3,262.7 123.8,262.7 126.3,262.2 128.8,261.4 131.3,260.7 133.8,259.9 134.5,259.5 136.3,259.8 138.8,260.1 141.3,260.5 143.8,261.4 146.3,262.1 148.8,262.5 151.3,261.6 153.8,260.6 156.3,259.5 158.8,258.4 159.4,258.1 161.3,259.0 163.8,259.7 166.3,261.0 168.8,262.7 171.3,262.7 173.8,262.7 176.3,262.7 178.8,262.7 181.3,262.7 183.8,262.7 186.3,262.7 188.8,262.7 191.3,262.7 193.8,262.7 196.3,262.7 198.8,262.7 201.3,262.7 203.8,262.7 206.3,262.7 208.8,262.7 211.3,262.7 213.8,262.7 216.3,262.7 218.8,262.7 221.3,262.7 223.8,262.7 226.3,262.7 228.8,262.7 231.3,262.7 233.8,262.7 236.3,262.7 238.8,262.7 241.3,262.7 243.8,262.7 246.3,262.7 248.8,262.7 251.3,262.7 253.8,262.7 256.3,262.7 258.8,262.7 261.3,262.7 263.8,262.7 266.3,262.7 268.8,262.7 271.3,262.7 273.8,262.7 276.3,262.7 278.8,262.7 281.3,261.8 283.8,260.2 286.3,258.5 288.8,256.9 290.0,256.1 291.3,256.7 293.8,257.7 296.3,258.2 298.8,259.1 301.3,260.8 303.8,262.6 306.3,262.7 308.8,262.7 311.3,262.7 313.8,262.7 316.3,262.7 318.8,262.7 321.3,262.7 323.8,262.7 326.3,262.7 328.8,262.7 331.3,260.7 333.8,258.7 336.3,256.7 338.8,254.7 339.8,253.9 341.3,255.0 343.8,256.8 346.3,258.7 348.8,260.5 351.3,262.3 353.8,262.7 356.3,262.7 358.8,262.7 361.3,262.7 363.8,262.4 366.3,261.9 368.8,261.4 371.3,260.9 371.5,260.9 373.8,261.3 376.3,261.8 378.8,262.4 381.3,262.7 383.8,262.7 386.3,262.7 388.8,262.7 391.3,262.7 393.8,262.7 396.3,262.7 398.8,262.7 401.3,262.7 403.8,262.6 406.3,262.0 408.8,261.4 411.3,260.8 413.5,260.3 413.8,260.4 416.3,261.0 418.8,261.7 421.3,262.2 423.8,262.1 426.3,261.6 427.5,261.4 428.8,261.6 431.3,262.0 433.8,262.4 436.3,262.7 438.8,262.7 441.3,262.7 443.8,262.7 446.3,262.7 448.8,262.7 451.3,262.7 453.8,262.7 456.3,262.7 458.8,262.7 461.3,262.7 463.8,262.7 466.3,262.7 468.8,262.7 471.3,262.7 473.8,262.7 476.3,262.3 478.8,262.0 481.3,261.7 482.5,261.5 483.8,261.7 486.3,262.0 488.8,262.3 491.3,262.7 493.8,262.7 496.3,262.7 498.8,262.7 501.3,262.7 503.8,262.7 506.3,262.3 508.8,261.8 511.3,261.4 513.8,260.9 514.2,260.8 516.3,261.2 518.8,261.7 521.3,262.2 523.8,262.6 526.3,262.7 528.8,262.7 531.3,262.7 533.8,262.7 536.3,262.7 538.8,262.7 541.3,262.7 543.8,262.7 546.3,262.7 548.8,262.7 551.3,262.7 553.8,262.7 556.3,262.7 558.8,262.6 561.3,262.2 563.8,261.9 566.3,261.5 568.0,261.3 568.8,261.4 571.3,261.8 573.8,262.2 576.3,262.6 578.8,262.7 581.3,262.7 583.8,262.7 586.3,262.7 588.8,262.5 591.3,262.0 593.8,261.6 596.3,261.1 596.5,261.1 598.8,261.5 601.3,261.9 603.8,262.3 606.3,262.7 608.8,262.7 611.3,262.7 613.8,262.7 616.3,262.3 618.8,261.6 621.3,260.8 623.8,260.0 625.0,259.7 626.3,260.1 628.8,260.8 631.3,261.6 633.8,262.3 636.3,262.7 638.8,262.7 641.3,262.7 643.8,262.7 646.3,262.7 648.8,262.7 651.3,262.7 653.8,262.7 656.3,262.7 658.8,262.7 661.3,262.7 663.8,262.7 666.3,262.2 668.8,260.6 671.3,259.0 673.8,257.5 675.5,256.4 676.3,256.8 678.8,257.9 681.3,258.4 683.8,258.9 686.3,260.5 688.8,262.1 691.3,262.7 693.8,262.7 696.3,262.7 698.8,262.7 701.3,262.7 703.8,262.7 706.3,262.7 708.8,262.7 711.3,262.7 713.8,262.7 716.3,262.7 718.8,262.7 721.3,262.7 723.8,262.7 726.3,262.7 728.8,262.7 731.3,262.7 733.8,262.7 736.3,262.7 738.8,262.7 741.3,262.7 743.4,262.7"/>
<polyline fill="none" stroke="rgb(182,0,0)" stroke-width="1.3" stroke-linejoin="round" points="63.8,271.7 66.3,271.7 68.8,271.7 71.3,271.7 73.8,271.7 76.3,271.7 78.8,271.7 81.3,271.7 83.8,271.7 86.3,271.7 88.8,271.7 91.3,271.7 93.8,271.7 96.3,271.7 98.8,271.7 101.3,271.7 103.8,271.7 106.3,271.7 108.8,271.7 111.3,271.7 113.8,271.7 116.3,271.7 118.8,271.7 121.3,271.7 123.8,271.7 126.3,271.2 128.8,270.5 131.3,269.8 133.8,269.0 134.5,268.6 136.3,268.9 138.8,269.2 141.3,269.5 143.8,270.4 146.3,271.1 148.8,271.5 151.3,270.7 153.8,269.7 156.3,268.7 158.8,267.6 159.4,267.4 161.3,268.3 163.8,268.9 166.3,270.1 168.8,271.7 171.3,271.7 173.8,271.7 176.3,271.7 178.8,271.7 181.3,271.7 183.8,271.7 186.3,271.7 188.8,271.7 191.3,271.7 193.8,271.7 196.3,271.7 198.8,271.7 201.3,271.7 203.8,271.7 206.3,271.7 208.8,271.7 211.3,271.7 213.8,271.7 216.3,271.7 218.8,271.7 221.3,271.7 223.8,271.7 226.3,271.7 228.8,271.7 231.3,271.7 233.8,271.7 236.3,271.7 238.8,271.7 241.3,271.7 243.8,271.7 246.3,271.7 248.8,271.7 251.3,271.7 253.8,271.7 256.3,271.7 258.8,271.7 261.3,271.7 263.8,271.7 266.3,271.7 268.8,271.7 271.3,271.7 273.8,271.7 276.3,271.7 278.8,271.7 281.3,271.1 283.8,270.1 286.3,269.0 288.8,267.9 290.0,267.4 291.3,267.8 293.8,268.4 296.3,268.8 298.8,269.4 301.3,270.5 303.8,271.6 306.3,271.7 308.8,271.7 311.3,271.7 313.8,271.7 316.3,271.7 318.8,271.7 321.3,271.7 323.8,271.7 326.3,271.7 328.8,271.7 331.3,269.7 333.8,267.7 336.3,265.7 338.8,263.7 339.8,262.9 341.3,264.0 343.8,265.8 346.3,267.7 348.8,269.5 351.3,271.3 353.8,271.7 356.3,271.7 358.8,271.7 361.3,271.7 363.8,271.5 366.3,271.1 368.8,270.7 371.3,270.3 371.5,270.2 373.8,270.6 376.3,271.0 378.8,271.4 381.3,271.7 383.8,271.7 386.3,271.7 388.8,271.7 391.3,271.7 393.8,271.7 396.3,271.7 398.8,272.2 401.3,272.9 403.8,272.1 406.3,271.1 408.8,270.5 411.3,270.0 413.5,269.5 413.8,269.6 416.3,270.2 418.8,270.8 421.3,271.3 423.8,271.1 426.3,270.6 427.5,270.4 428.8,270.6 431.3,271.0 433.8,271.4 436.3,271.7 438.8,271.7 441.3,271.7 443.8,271.7 446.3,271.7 448.8,271.7 451.3,271.7 453.8,271.7 456.3,271.7 458.8,271.7 461.3,271.7 463.8,271.7 466.3,271.7 468.8,271.7 471.3,271.7 473.8,271.7 476.3,271.3 478.8,271.0 481.3,270.7 482.5,270.5 483.8,270.7 486.3,271.0 488.8,271.3 491.3,271.7 493.8,271.7 496.3,271.7 498.8,271.7 501.3,271.7 503.8,271.7 506.3,271.3 508.8,270.8 511.3,270.3 513.8,269.8 514.2,269.7 516.3,270.1 518.8,270.6 521.3,271.1 523.8,271.6 526.3,271.7 528.8,271.7 531.3,271.7 533.8,271.7 536.3,271.7 538.8,271.7 541.3,271.7 543.8,271.7 546.3,271.7 548.8,271.7 551.3,271.7 553.8,271.7 556.3,271.7 558.8,271.6 561.3,271.2 563.8,270.9 566.3,270.5 568.0,270.3 568.8,270.4 571.3,270.8 573.8,271.2 576.3,271.6 578.8,271.7 581.3,271.7 583.8,271.7 586.3,271.7 588.8,271.5 591.3,271.0 593.8,270.5 596.3,270.1 596.5,270.1 598.8,270.4 601.3,270.8 603.8,271.3 606.3,271.7 608.8,271.7 611.3,271.7 613.8,271.7 616.3,271.2 618.8,270.4 621.3,269.5 623.8,268.6 625.0,268.2 626.3,268.7 628.8,269.5 631.3,270.4 633.8,271.3 636.3,271.7 638.8,271.7 641.3,271.7 643.8,271.7 646.3,271.7 648.8,271.7 651.3,271.7 653.8,271.7 656.3,271.7 658.8,271.7 661.3,271.7 663.8,271.7 666.3,271.4 668.8,270.3 671.3,269.2 673.8,268.1 675.5,267.4 676.3,267.6 678.8,268.4 681.3,268.8 683.8,269.1 686.3,270.2 688.8,271.3 691.3,271.7 693.8,271.7 696.3,271.7 698.8,271.7 701.3,271.7 703.8,271.7 706.3,271.7 708.8,271.7 711.3,271.7 713.8,271.7 716.3,271.7 718.8,271.7 721.3,271.7 723.8,271.7 726.3,271.7 728.8,271.7 731.3,271.7 733.8,271.7 736.3,271.7 738.8,271.7 741.3,271.7 743.4,271.7"/>
<polyline fill="none" stroke="rgb(175,0,0)" stroke-width="1.3" stroke-linejoin="round" points="63.8,279.4 66.3,279.4 68.8,279.4 71.3,279.4 73.8,279.4 76.3,279.4 78.8,279.4 81.3,279.4 83.8,279.4 86.3,279.4 88.8,279.4 91.3,279.4 93.8,279.4 96.3,279.4 98.8,279.4 101.3,279.4 103.8,279.4 106.3,279.4 108.8,279.4 111.3,279.4 113.8,279.4 116.3,279.4 118.8,279.4 121.3,279.4 123.8,279.4 126.3,278.9 128.8,278.2 131.3,277.5 133.8,276.7 134.5,276.4 136.3,276.6 138.8,276.9 141.3,277.2 143.8,278.1 146.3,278.8 148.8,279.2 151.3,278.6 153.8,277.8 156.3,277.0 158.8,276.2 159.4,276.0 161.3,276.7 163.8,277.2 166.3,278.1 168.8,279.4 171.3,279.4 173.8,279.4 176.3,279.4 178.8,279.4 181.3,279.4 183.8,279.4 186.3,279.4 188.8,279.4 191.3,279.4 193.8,279.4 196.3,279.4 198.8,279.4 201.3,279.4 203.8,279.4 206.3,279.4 208.8,279.4 211.3,279.4 213.8,279.4 216.3,279.4 218.8,279.4 221.3,279.4 223.8,279.4 226.3,279.4 228.8,279.4 231.3,279.4 233.8,279.4 236.3,279.4 238.8,279.4 241.3,279.4 243.8,279.4 246.3,279.4 248.8,279.4 251.3,279.4 253.8,279.4 256.3,279.4 258.8,279.4 261.3,279.4 263.8,279.4 266.3,279.4 268.8,279.4 271.3,279.4 273.8,279.4 276.3,279.4 278.8,279.4 281.3,279.0 283.8,278.1 286.3,277.3 288.8,276.4 290.0,276.0 291.3,276.3 293.8,276.8 296.3,277.1 298.8,277.5 301.3,278.4 303.8,279.3 306.3,279.6 308.8,280.2 311.3,280.0 313.8,279.4 316.3,279.4 318.8,279.4 321.3,279.4 323.8,279.4 326.3,279.4 328.8,279.4 331.3,277.6 333.8,275.9 336.3,274.1 338.8,272.4 339.8,271.7 341.3,272.7 343.8,274.3 346.3,275.9 348.8,277.5 351.3,279.1 353.8,279.4 356.3,279.4 358.8,279.4 361.3,279.4 363.8,279.2 366.3,278.9 368.8,278.6 371.3,278.2 371.5,278.2 373.8,278.5 376.3,278.9 378.8,280.2 381.3,280.5 383.8,279.6 386.3,279.4 388.8,279.4 391.3,279.4 393.8,279.4 396.3,279.4 398.8,279.4 401.3,279.4 403.8,279.3 406.3,278.8 408.8,278.3 411.3,277.8 413.5,277.4 413.8,277.5 416.3,278.0 418.8,278.6 421.3,279.0 423.8,278.7 426.3,278.2 427.5,278.0 428.8,278.2 431.3,278.7 433.8,279.1 436.3,279.4 438.8,279.4 441.3,279.4 443.8,279.4 446.3,279.4 448.8,279.4 451.3,279.4 453.8,279.4 456.3,279.4 458.8,279.4 461.3,279.4 463.8,279.4 466.3,279.4 468.8,279.4 471.3,279.4 473.8,279.4 476.3,279.0 478.8,278.7 481.3,278.4 482.5,278.2 483.8,278.4 486.3,278.7 488.8,279.0 491.3,279.4 493.8,279.4 496.3,279.4 498.8,279.4 501.3,279.4 503.8,279.4 506.3,279.0 508.8,278.4 511.3,277.9 513.8,277.3 514.2,277.3 516.3,277.7 518.8,278.2 521.3,278.8 523.8,279.3 526.3,279.4 528.8,279.4 531.3,279.4 533.8,279.4 536.3,279.4 538.8,279.4 541.3,279.4 543.8,279.4 546.3,279.4 548.8,279.4 551.3,279.4 553.8,279.4 556.3,279.4 558.8,279.3 561.3,278.9 563.8,278.5 566.3,278.1 568.0,277.8 568.8,278.0 571.3,278.4 573.8,278.8 576.3,279.3 578.8,279.4 581.3,279.4 583.8,279.4 586.3,279.4 588.8,279.1 591.3,278.6 593.8,278.1 596.3,277.7 596.5,277.6 598.8,278.0 601.3,278.5 603.8,278.9 606.3,279.4 608.8,279.4 611.3,279.4 613.8,279.4 616.3,278.9 618.8,278.0 621.3,277.0 623.8,276.1 625.0,275.6 626.3,276.1 628.8,277.0 631.3,278.0 633.8,278.9 636.3,279.4 638.8,279.4 641.3,279.4 643.8,279.4 646.3,279.4 648.8,279.4 651.3,279.4 653.8,279.4 656.3,279.4 658.8,279.4 661.3,279.4 663.8,279.4 666.3,279.2 668.8,278.4 671.3,277.7 673.8,277.0 675.5,276.5 676.3,276.7 678.8,277.2 681.3,277.4 683.8,277.7 686.3,278.4 688.8,279.1 691.3,279.4 693.8,279.4 696.3,279.4 698.8,279.4 701.3,279.4 703.8,279.4 706.3,279.4 708.8,279.4 711.3,279.4 713.8,279.4 716.3,279.4 718.8,279.4 721.3,279.4 723.8,279.4 726.3,279.4 728.8,279.4 731.3,279.4 733.8,279.4 736.3,279.4 738.8,279.4 741.3,279.4 743.4,279.4"/>
<polyline fill="none" stroke="rgb(168,0,0)" stroke-width="1.3" stroke-linejoin="round" points="63.8,287.0 66.3,287.0 68.8,287.0 71.3,287.0 73.8,287.0 76.3,287.0 78.8,287.0 81.3,287.0 83.8,287.0 86.3,287.0 88.8,287.0 91.3,287.0 93.8,287.0 96.3,287.0 98.8,287.0 101.3,287.0 103.8,287.0 106.3,287.0 108.8,287.0 111.3,287.0 113.8,287.0 116.3,287.0 118.8,287.0 121.3,287.0 123.8,287.0 126.3,286.5 128.8,285.8 131.3,285.0 133.8,284.2 134.5,283.9 136.3,284.1 138.8,284.5 141.3,284.8 143.8,285.7 146.3,286.4 148.8,286.8 151.3,286.0 153.8,285.0 156.3,284.0 158.8,283.0 159.4,282.8 161.3,283.7 163.8,284.3 166.3,285.4 168.8,287.0 171.3,287.0 173.8,287.0 176.3,287.0 178.8,287.0 181.3,287.0 183.8,287.0 186.3,287.0 188.8,287.0 191.3,287.0 193.8,287.0 196.3,287.0 198.8,287.0 201.3,287.0 203.8,287.0 206.3,287.0 208.8,287.0 211.3,287.0 213.8,287.0 216.3,287.0 218.8,287.0 221.3,287.0 223.8,287.0 226.3,287.0 228.8,287.0 231.3,287.0 233.8,287.0 236.3,287.0 238.8,287.0 241.3,287.0 243.8,287.0 246.3,287.0 248.8,287.0 251.3,287.0 253.8,287.0 256.3,287.0 258.8,287.0 261.3,287.0 263.8,287.0 266.3,287.0 268.8,287.0 271.3,287.0 273.8,287.0 276.3,287.0 278.8,287.0 281.3,286.7 283.8,286.2 286.3,285.7 288.8,285.2 290.0,285.0 291.3,285.2 293.8,285.5 296.3,285.6 298.8,285.9 301.3,286.4 303.8,287.0 306.3,287.0 308.8,287.0 311.3,287.0 313.8,287.0 316.3,287.0 318.8,287.0 321.3,287.0 323.8,287.0 326.3,287.0 328.8,287.0 331.3,285.5 333.8,283.9 336.3,282.4 338.8,280.8 339.8,280.2 341.3,281.1 343.8,282.5 346.3,283.9 348.8,285.3 351.3,286.7 353.8,287.0 356.3,287.0 358.8,287.0 361.3,287.0 363.8,286.9 366.3,286.6 368.8,286.3 371.3,286.0 371.5,286.0 373.8,286.2 376.3,286.5 378.8,286.8 381.3,287.0 383.8,287.0 386.3,287.0 388.8,287.0 391.3,287.0 393.8,287.0 396.3,287.0 398.8,287.0 401.3,287.0 403.8,286.9 406.3,286.5 408.8,286.0 411.3,285.5 413.5,285.1 413.8,285.2 416.3,285.7 418.8,286.2 421.3,286.6 423.8,286.3 426.3,285.7 427.5,285.4 428.8,285.7 431.3,286.2 433.8,286.7 436.3,287.0 438.8,287.0 441.3,287.0 443.8,287.0 446.3,287.0 448.8,287.0 451.3,287.0 453.8,287.0 456.3,287.0 458.8,287.0 461.3,287.0 463.8,287.0 466.3,287.0 468.8,287.0 471.3,287.0 473.8,287.0 476.3,286.6 478.8,286.3 481.3,286.0 482.5,285.8 483.8,286.0 486.3,286.3 488.8,286.6 491.3,287.0 493.8,287.0 496.3,287.0 498.8,287.0 501.3,287.0 503.8,287.0 506.3,286.5 508.8,285.9 511.3,285.3 513.8,284.8 514.2,284.7 516.3,285.1 518.8,285.7 521.3,286.3 523.8,286.9 526.3,287.0 528.8,287.0 531.3,287.0 533.8,287.0 536.3,287.4 538.8,288.0 541.3,287.4 543.8,287.0 546.3,287.0 548.8,287.0 551.3,287.0 553.8,287.0 556.3,287.0 558.8,286.9 561.3,286.4 563.8,286.0 566.3,285.5 568.0,285.2 568.8,285.4 571.3,285.9 573.8,286.4 576.3,286.9 578.8,287.0 581.3,287.0 583.8,287.0 586.3,287.0 588.8,286.7 591.3,286.2 593.8,285.6 596.3,285.0 596.5,285.0 598.8,285.5 601.3,286.0 603.8,286.5 606.3,287.0 608.8,287.0 611.3,287.0 613.8,287.0 616.3,286.5 618.8,285.5 621.3,284.5 623.8,283.5 625.0,283.0 626.3,283.5 628.8,284.5 631.3,285.5 633.8,286.5 636.3,287.0 638.8,287.0 641.3,287.0 643.8,287.0 646.3,287.0 648.8,287.0 651.3,287.0 653.8,287.0 656.3,287.0 658.8,287.0 661.3,287.0 663.8,287.0 666.3,286.9 668.8,286.4 671.3,286.0 673.8,285.6 675.5,285.3 676.3,285.4 678.8,285.7 681.3,285.8 683.8,286.0 686.3,286.4 688.8,286.8 691.3,287.0 693.8,287.0 696.3,287.0 698.8,287.0 701.3,287.0 703.8,287.0 706.3,287.0 708.8,287.0 711.3,287.0 713.8,287.0 716.3,287.0 718.8,287.0 721.3,287.0 723.8,287.0 726.3,287.0 728.8,287.0 731.3,287.0 733.8,287.0 736.3,287.0 738.8,287.0 741.3,287.0 743.4,287.0"/>
<polyline fill="none" stroke="rgb(160,0,0)" stroke-width="1.3" stroke-linejoin="round" points="63.8,294.7 66.3,294.7 68.8,294.7 71.3,294.7 73.8,294.7 76.3,294.7 78.8,294.7 81.3,294.7 83.8,294.7 86.3,294.7 88.8,294.7 91.3,294.7 93.8,294.7 96.3,294.7 98.8,294.7 101.3,294.7 103.8,294.7 106.3,294.7 108.8,294.7 111.3,294.7 113.8,294.7 116.3,294.7 118.8,294.7 121.3,294.7 123.8,294.7 126.3,294.1 128.8,293.4 131.3,292.6 133.8,291.7 134.5,291.4 136.3,291.7 138.8,292.1 141.3,292.4 143.8,293.4 146.3,294.1 148.8,294.5 151.3,292.9 153.8,291.1 156.3,289.3 158.8,287.4 159.4,287.0 161.3,288.6 163.8,289.7 166.3,291.8 168.8,294.7 171.3,294.7 173.8,294.7 176.3,294.7 178.8,294.7 181.3,294.7 183.8,294.7 186.3,294.7 188.8,294.7 191.3,294.7 193.8,294.7 196.3,294.7 198.8,294.7 201.3,294.7 203.8,294.7 206.3,294.7 208.8,294.7 211.3,294.7 213.8,294.7 216.3,294.7 218.8,294.7 221.3,294.7 223.8,294.7 226.3,294.7 228.8,294.7 231.3,294.7 233.8,294.7 236.3,294.7 238.8,294.7 241.3,294.7 243.8,294.7 246.3,294.7 248.8,294.7 251.3,294.7 253.8,294.7 256.3,294.7 258.8,294.7 261.3,294.7 263.8,294.7 266.3,294.7 268.8,294.7 271.3,294.7 273.8,294.7 276.3,294.7 278.8,294.7 281.3,294.5 283.8,294.1 286.3,293.6 288.8,293.2 290.0,293.0 291.3,293.2 293.8,293.4 296.3,293.5 298.8,293.8 301.3,294.2 303.8,294.7 306.3,294.7 308.8,294.7 311.3,294.7 313.8,294.7 316.3,294.7 318.8,294.7 321.3,294.7 323.8,294.7 326.3,294.7 328.8,294.7 331.3,293.3 333.8,291.8 336.3,290.4 338.8,289.0 339.8,288.4 341.3,289.2 343.8,290.5 346.3,291.8 348.8,293.1 351.3,294.4 353.8,294.7 356.3,294.7 358.8,294.7 361.3,294.7 363.8,294.6 366.3,294.3 368.8,294.0 371.3,293.7 371.5,293.7 373.8,293.9 376.3,294.2 378.8,294.5 381.3,294.7 383.8,294.7 386.3,294.7 388.8,294.7 391.3,294.7 393.8,294.7 396.3,294.7 398.8,294.7 401.3,294.7 403.8,294.6 406.3,294.2 408.8,293.7 411.3,293.3 413.5,292.9 413.8,293.0 416.3,293.5 418.8,294.7 421.3,295.5 423.8,294.2 426.3,293.3 427.5,293.0 428.8,293.3 431.3,293.8 433.8,294.3 436.3,294.7 438.8,294.7 441.3,294.7 443.8,294.7 446.3,294.7 448.8,294.7 451.3,294.7 453.8,294.7 456.3,294.7 458.8,294.7 461.3,294.7 463.8,294.7 466.3,294.7 468.8,294.7 471.3,294.7 473.8,294.7 476.3,294.3 478.8,294.0 481.3,293.7 482.5,293.5 483.8,293.7 486.3,294.0 488.8,294.3 491.3,294.7 493.8,294.7 496.3,294.7 498.8,294.7 501.3,294.7 503.8,294.7 506.3,294.2 508.8,293.5 511.3,292.9 513.8,292.3 514.2,292.1 516.3,292.7 518.8,293.3 521.3,294.0 523.8,294.6 526.3,294.7 528.8,294.7 531.3,294.7 533.8,294.7 536.3,294.7 538.8,294.7 541.3,294.7 543.8,294.7 546.3,294.7 548.8,294.7 551.3,294.7 553.8,294.7 556.3,294.9 558.8,295.4 561.3,294.6 563.8,293.5 566.3,293.0 568.0,292.7 568.8,292.9 571.3,293.4 573.8,294.0 576.3,294.5 578.8,294.7 581.3,294.7 583.8,294.7 586.3,294.7 588.8,294.4 591.3,293.7 593.8,293.1 596.3,292.5 596.5,292.4 598.8,293.0 601.3,293.5 603.8,294.1 606.3,294.7 608.8,294.7 611.3,294.7 613.8,294.7 616.3,294.2 618.8,293.2 621.3,292.2 623.8,291.2 625.0,290.7 626.3,291.2 628.8,292.2 631.3,293.2 633.8,294.2 636.3,294.7 638.8,294.7 641.3,294.7 643.8,294.7 646.3,294.7 648.8,294.7 651.3,294.7 653.8,294.7 656.3,294.7 658.8,294.7 661.3,294.7 663.8,294.7 666.3,294.6 668.8,294.1 671.3,293.7 673.8,293.3 675.5,293.0 676.3,293.1 678.8,293.4 681.3,293.5 683.8,293.7 686.3,294.1 688.8,294.5 691.3,294.7 693.8,294.7 696.3,294.7 698.8,294.7 701.3,294.7 703.8,294.7 706.3,294.7 708.8,294.7 711.3,294.7 713.8,294.7 716.3,294.7 718.8,294.7 721.3,294.7 723.8,294.7 726.3,294.7 728.8,294.7 731.3,294.7 733.8,294.7 736.3,294.7 738.8,294.7 741.3,294.7 743.4,294.7"/>
<polyline fill="none" stroke="rgb(153,0,0)" stroke-width="1.3" stroke-linejoin="round" points="63.8,304.9 66.3,304.9 68.8,304.9 71.3,304.9 73.8,304.9 76.3,304.9 78.8,304.9 81.3,304.9 83.8,304.9 86.3,304.9 88.8,304.9 91.3,304.9 93.8,304.9 96.3,304.9 98.8,304.9 101.3,304.9 103.8,304.9 106.3,304.9 108.8,304.9 111.3,304.9 113.8,304.9 116.3,304.9 118.8,304.9 121.3,304.9 123.8,304.9 126.3,304.3 128.8,303.5 131.3,302.7 133.8,301.7 134.5,301.4 136.3,301.7 138.8,302.1 141.3,302.6 143.8,303.6 146.3,304.3 148.8,304.7 151.3,303.0 153.8,300.9 156.3,298.9 158.8,296.9 159.4,296.4 161.3,298.1 163.8,299.4 166.3,301.8 168.8,304.9 171.3,304.9 173.8,304.9 176.3,304.9 178.8,304.9 181.3,304.9 183.8,304.9 186.3,304.9 188.8,304.9 191.3,304.9 193.8,304.9 196.3,304.9 198.8,304.9 201.3,304.9 203.8,304.9 206.3,304.9 208.8,304.9 211.3,304.9 213.8,304.9 216.3,304.9 218.8,304.9 221.3,304.9 223.8,304.9 226.3,304.9 228.8,304.9 231.3,304.9 233.8,304.9 236.3,304.9 238.8,304.9 241.3,304.9 243.8,304.9 246.3,304.9 248.8,304.9 251.3,304.9 253.8,304.9 256.3,304.9 258.8,304.9 261.3,304.9 263.8,304.9 266.3,304.9 268.8,304.9 271.3,304.9 273.8,304.9 276.3,304.9 278.8,304.9 281.3,304.5 283.8,303.8 286.3,303.1 288.8,302.3 290.0,302.0 291.3,302.3 293.8,302.7 296.3,302.9 298.8,303.3 301.3,304.1 303.8,304.8 306.3,304.9 308.8,304.9 311.3,304.9 313.8,304.9 316.3,304.9 318.8,304.9 321.3,304.9 323.8,304.9 326.3,304.9 328.8,304.9 331.3,303.4 333.8,301.9 336.3,300.5 338.8,299.0 339.8,298.4 341.3,299.2 343.8,300.6 346.3,301.9 348.8,303.3 351.3,304.6 353.8,304.9 356.3,304.9 358.8,304.9 361.3,304.9 363.8,304.7 366.3,304.4 368.8,304.1 371.3,303.8 371.5,303.8 373.8,304.1 376.3,304.4 378.8,304.7 381.3,304.9 383.8,304.9 386.3,304.9 388.8,304.9 391.3,304.9 393.8,304.9 396.3,304.9 398.8,304.9 401.3,304.9 403.8,304.8 406.3,304.4 408.8,303.9 411.3,303.5 413.5,303.1 413.8,303.2 416.3,303.7 418.8,304.2 421.3,304.4 423.8,304.0 426.3,303.3 427.5,303.0 428.8,303.3 431.3,303.9 433.8,304.5 436.3,304.9 438.8,304.9 441.3,304.9 443.8,304.9 446.3,304.9 448.8,304.9 451.3,304.9 453.8,304.9 456.3,304.9 458.8,304.9 461.3,304.9 463.8,304.9 466.3,304.9 468.8,304.9 471.3,304.9 473.8,304.9 476.3,304.5 478.8,304.2 481.3,303.9 482.5,303.7 483.8,303.9 486.3,304.2 488.8,304.5 491.3,304.9 493.8,304.9 496.3,304.9 498.8,304.9 501.3,304.9 503.8,304.9 506.3,304.3 508.8,303.6 511.3,303.0 513.8,302.3 514.2,302.2 516.3,302.7 518.8,303.4 521.3,304.1 523.8,304.8 526.3,304.9 528.8,304.9 531.3,304.9 533.8,304.9 536.3,304.9 538.8,304.9 541.3,304.9 543.8,304.9 546.3,304.9 548.8,304.9 551.3,304.9 553.8,304.9 556.3,304.9 558.8,304.7 561.3,304.1 563.8,303.6 566.3,303.0 568.0,302.6 568.8,302.8 571.3,303.5 573.8,304.1 576.3,304.7 578.8,304.9 581.3,304.9 583.8,304.9 586.3,304.9 588.8,304.5 591.3,303.8 593.8,303.1 596.3,302.4 596.5,302.4 598.8,302.9 601.3,303.6 603.8,304.2 606.3,304.8 608.8,304.9 611.3,304.9 613.8,304.9 616.3,304.4 618.8,303.5 621.3,302.5 623.8,301.6 625.0,301.1 626.3,301.6 628.8,302.5 631.3,303.5 633.8,304.4 636.3,304.9 638.8,304.9 641.3,304.9 643.8,304.9 646.3,304.9 648.8,304.9 651.3,304.9 653.8,304.9 656.3,304.9 658.8,304.9 661.3,304.9 663.8,304.9 666.3,304.8 668.8,304.3 671.3,303.9 673.8,303.5 675.5,303.2 676.3,303.3 678.8,303.6 681.3,303.7 683.8,303.9 686.3,304.3 688.8,304.7 691.3,304.9 693.8,304.9 696.3,304.9 698.8,304.9 701.3,304.9 703.8,304.9 706.3,304.9 708.8,304.9 711.3,304.9 713.8,304.9 716.3,304.9 718.8,304.9 721.3,304.9 723.8,304.9 726.3,304.9 728.8,304.9 731.3,304.9 733.8,304.9 736.3,304.9 738.8,304.9 741.3,304.9 743.4,304.9"/>
<polyline fill="none" stroke="rgb(146,0,0)" stroke-width="1.3" stroke-linejoin="round" points="63.8,316.8 66.3,316.8 68.8,316.8 71.3,316.8 73.8,316.8 76.3,316.8 78.8,316.8 81.3,316.8 83.8,316.8 86.3,316.8 88.8,316.8 91.3,316.8 93.8,316.8 96.3,316.8 98.8,316.8 101.3,316.8 103.8,316.8 106.3,316.8 108.8,316.8 111.3,316.8 113.8,316.8 116.3,316.8 118.8,316.8 121.3,316.8 123.8,316.8 126.3,316.2 128.8,315.3 131.3,314.4 133.8,313.4 134.5,313.0 136.3,313.4 138.8,313.9 141.3,314.4 143.8,315.5 146.3,316.2 148.8,316.6 151.3,314.3 153.8,311.6 156.3,309.0 158.8,306.3 159.4,305.7 161.3,308.0 163.8,309.6 166.3,312.7 168.8,316.8 171.3,316.8 173.8,316.8 176.3,316.8 178.8,316.8 181.3,316.8 183.8,316.8 186.3,316.8 188.8,316.8 191.3,316.8 193.8,316.8 196.3,316.8 198.8,316.8 201.3,316.8 203.8,316.8 206.3,316.8 208.8,316.8 211.3,316.8 213.8,316.8 216.3,316.8 218.8,316.8 221.3,316.8 223.8,316.8 226.3,316.8 228.8,316.8 231.3,316.8 233.8,316.8 236.3,316.8 238.8,316.8 241.3,316.8 243.8,316.8 246.3,316.8 248.8,316.8 251.3,316.8 253.8,316.8 256.3,316.8 258.8,316.8 261.3,316.8 263.8,316.8 266.3,316.8 268.8,316.8 271.3,316.8 273.8,316.8 276.3,316.8 278.8,316.8 281.3,316.5 283.8,315.8 286.3,315.2 288.8,314.5 290.0,314.2 291.3,314.4 293.8,314.8 296.3,315.0 298.8,315.4 301.3,316.1 303.8,316.7 306.3,316.8 308.8,316.8 311.3,316.8 313.8,316.8 316.3,316.8 318.8,316.8 321.3,316.8 323.8,316.8 326.3,316.8 328.8,316.8 331.3,315.6 333.8,314.5 336.3,313.3 338.8,312.2 339.8,311.7 341.3,312.3 343.8,313.4 346.3,314.5 348.8,315.5 351.3,316.6 353.8,316.8 356.3,316.8 358.8,316.8 361.3,316.8 363.8,316.6 366.3,316.2 368.8,315.8 371.3,315.4 371.5,315.4 373.8,315.8 376.3,316.2 378.8,316.5 381.3,316.8 383.8,316.8 386.3,316.8 388.8,316.8 391.3,316.8 393.8,316.8 396.3,316.8 398.8,316.8 401.3,316.8 403.8,316.7 406.3,316.3 408.8,315.8 411.3,315.3 413.5,314.9 413.8,315.0 416.3,315.5 418.8,316.0 421.3,316.3 423.8,315.8 426.3,315.1 427.5,314.8 428.8,315.1 431.3,315.7 433.8,316.4 436.3,316.8 438.8,316.8 441.3,316.8 443.8,316.8 446.3,316.8 448.8,316.8 451.3,316.8 453.8,316.8 456.3,316.8 458.8,316.8 461.3,316.8 463.8,316.8 466.3,316.8 468.8,316.8 471.3,316.8 473.8,316.8 476.3,316.4 478.8,316.1 481.3,315.8 482.5,315.6 483.8,315.8 486.3,316.1 488.8,316.4 491.3,316.8 493.8,316.8 496.3,316.8 498.8,316.8 501.3,316.8 503.8,316.8 506.3,316.2 508.8,315.5 511.3,314.7 513.8,314.0 514.2,313.9 516.3,314.5 518.8,315.2 521.3,316.0 523.8,316.7 526.3,316.8 528.8,316.8 531.3,316.8 533.8,316.8 536.3,316.8 538.8,316.8 541.3,316.8 543.8,316.8 546.3,316.8 548.8,316.8 551.3,316.8 553.8,316.8 556.3,316.8 558.8,316.6 561.3,316.0 563.8,315.3 566.3,314.7 568.0,314.3 568.8,314.5 571.3,315.2 573.8,315.9 576.3,316.6 578.8,316.8 581.3,316.8 583.8,316.8 586.3,316.8 588.8,316.4 591.3,315.6 593.8,314.8 596.3,314.1 596.5,314.0 598.8,314.6 601.3,315.3 603.8,316.0 606.3,316.7 608.8,316.8 611.3,316.8 613.8,316.8 616.3,316.4 618.8,315.5 621.3,314.6 623.8,313.8 625.0,313.3 626.3,313.8 628.8,314.7 631.3,315.5 633.8,316.4 636.3,316.8 638.8,316.8 641.3,316.8 643.8,316.8 646.3,316.8 648.8,316.8 651.3,316.8 653.8,316.8 656.3,316.8 658.8,316.8 661.3,316.8 663.8,316.8 666.3,316.8 668.8,316.6 671.3,316.5 673.8,316.4 675.5,316.3 676.3,316.3 678.8,316.4 681.3,316.5 683.8,316.5 686.3,316.6 688.8,316.8 691.3,316.8 693.8,316.8 696.3,316.8 698.8,316.8 701.3,316.8 703.8,316.8 706.3,316.8 708.8,316.8 711.3,316.8 713.8,316.8 716.3,316.8 718.8,316.8 721.3,316.8 723.8,316.8 726.3,316.8 728.8,316.8 731.3,316.8 733.8,316.8 736.3,316.8 738.8,316.8 741.3,316.8 743.4,316.8"/>
<polyline fill="none" stroke="rgb(138,0,0)" stroke-width="1.3" stroke-linejoin="round" points="63.8,331.3 66.3,331.3 68.8,331.3 71.3,331.3 73.8,331.3 76.3,331.3 78.8,331.3 81.3,331.3 83.8,331.3 86.3,331.3 88.8,331.3 91.3,331.3 93.8,331.3 96.3,331.3 98.8,331.3 101.3,331.3 103.8,331.3 106.3,331.3 108.8,331.3 111.3,331.3 113.8,331.3 116.3,331.3 118.8,331.3 121.3,331.3 123.8,331.3 126.3,330.6 128.8,329.6 131.3,328.7 133.8,327.6 134.5,327.2 136.3,327.6 138.8,328.2 141.3,328.8 143.8,329.9 146.3,330.7 148.8,331.1 151.3,328.2 153.8,325.0 156.3,321.7 158.8,318.5 159.4,317.7 161.3,320.5 163.8,322.5 166.3,326.3 168.8,331.3 171.3,331.3 173.8,331.8 176.3,332.3 178.8,331.6 181.3,331.3 183.8,331.3 186.3,331.3 188.8,331.3 191.3,331.3 193.8,331.3 196.3,331.3 198.8,331.3 201.3,331.3 203.8,331.3 206.3,331.3 208.8,331.3 211.3,331.3 213.8,331.3 216.3,331.3 218.8,331.3 221.3,331.3 223.8,331.3 226.3,331.3 228.8,331.3 231.3,331.3 233.8,331.3 236.3,331.3 238.8,331.3 241.3,331.3 243.8,331.3 246.3,331.3 248.8,331.3 251.3,331.3 253.8,331.3 256.3,331.3 258.8,331.3 261.3,331.3 263.8,331.3 266.3,331.3 268.8,331.3 271.3,331.3 273.8,331.3 276.3,331.3 278.8,331.3 281.3,330.7 283.8,329.5 286.3,328.3 288.8,327.1 290.0,326.5 291.3,326.9 293.8,327.6 296.3,328.0 298.8,328.7 301.3,329.9 303.8,331.2 306.3,331.3 308.8,331.3 311.3,331.3 313.8,331.3 316.3,331.3 318.8,331.3 321.3,331.3 323.8,331.3 326.3,331.3 328.8,331.3 331.3,330.2 333.8,329.1 336.3,328.0 338.8,326.9 339.8,326.5 341.3,327.1 343.8,328.1 346.3,329.1 348.8,330.1 351.3,331.1 353.8,331.3 356.3,331.3 358.8,331.3 361.3,331.3 363.8,331.0 366.3,330.6 368.8,330.1 371.3,329.6 371.5,329.6 373.8,330.0 376.3,330.5 378.8,331.0 381.3,331.3 383.8,331.3 386.3,331.3 388.8,331.3 391.3,331.3 393.8,331.3 396.3,331.3 398.8,331.3 401.3,331.3 403.8,331.2 406.3,330.7 408.8,330.2 411.3,329.7 413.5,329.3 413.8,329.4 416.3,329.9 418.8,330.5 421.3,330.8 423.8,330.3 426.3,329.5 427.5,329.1 428.8,329.5 431.3,330.2 433.8,330.8 436.3,331.3 438.8,331.3 441.3,331.3 443.8,331.3 446.3,331.3 448.8,331.3 451.3,331.3 453.8,331.3 456.3,331.3 458.8,331.3 461.3,331.3 463.8,331.3 466.3,331.3 468.8,331.3 471.3,331.3 473.8,331.3 476.3,330.9 478.8,330.6 481.3,330.3 482.5,330.1 483.8,330.3 486.3,330.6 488.8,330.9 491.3,331.3 493.8,331.3 496.3,331.3 498.8,331.3 501.3,331.3 503.8,331.3 506.3,330.7 508.8,329.9 511.3,329.2 513.8,328.4 514.2,328.3 516.3,328.9 518.8,329.7 521.3,330.4 523.8,331.2 526.3,331.3 528.8,331.3 531.3,331.3 533.8,331.3 536.3,331.3 538.8,331.3 541.3,331.3 543.8,331.3 546.3,331.3 548.8,331.3 551.3,331.3 553.8,331.3 556.3,331.3 558.8,331.1 561.3,330.4 563.8,329.7 566.3,329.0 568.0,328.5 568.8,328.8 571.3,329.5 573.8,330.3 576.3,331.1 578.8,331.3 581.3,331.3 583.8,331.3 586.3,331.3 588.8,330.9 591.3,330.0 593.8,329.2 596.3,328.4 596.5,328.3 598.8,329.0 601.3,329.7 603.8,330.5 606.3,331.2 608.8,331.3 611.3,331.3 613.8,331.3 616.3,330.9 618.8,330.2 621.3,329.4 623.8,328.7 625.0,328.3 626.3,328.7 628.8,329.4 631.3,330.2 633.8,330.9 636.3,331.3 638.8,331.3 641.3,331.3 643.8,331.3 646.3,331.3 648.8,331.3 651.3,331.3 653.8,331.3 656.3,331.3 658.8,331.3 661.3,331.3 663.8,331.3 666.3,331.0 668.8,330.2 671.3,329.3 673.8,328.5 675.5,327.9 676.3,328.1 678.8,328.7 681.3,329.0 683.8,329.3 686.3,330.1 688.8,331.0 691.3,331.3 693.8,331.3 696.3,331.9 698.8,332.2 701.3,331.5 703.8,331.3 706.3,331.3 708.8,331.3 711.3,331.3 713.8,331.3 716.3,331.9 718.8,331.9 721.3,331.4 723.8,331.3 726.3,331.3 728.8,331.3 731.3,331.3 733.8,331.3 736.3,331.3 738.8,331.3 741.3,331.3 743.4,331.3"/>
<polyline fill="none" stroke="rgb(131,0,0)" stroke-width="1.3" stroke-linejoin="round" points="63.8,346.4 66.3,346.4 68.8,346.4 71.3,346.4 73.8,346.4 76.3,346.4 78.8,346.4 81.3,346.4 83.8,346.4 86.3,346.4 88.8,346.4 91.3,346.4 93.8,346.4 96.3,346.4 98.8,346.4 101.3,346.4 103.8,346.4 106.3,346.4 108.8,346.4 111.3,346.4 113.8,346.4 116.3,346.4 118.8,346.4 121.3,346.4 123.8,346.4 126.3,345.7 128.8,344.6 131.3,343.6 133.8,342.5 134.5,342.1 136.3,342.5 138.8,343.2 141.3,343.8 143.8,345.0 146.3,345.8 148.8,346.2 151.3,343.0 153.8,339.4 156.3,335.8 158.8,332.3 159.4,331.4 161.3,334.5 163.8,336.7 166.3,340.8 168.8,346.4 171.3,346.4 173.8,346.4 176.3,346.4 178.8,346.4 181.3,346.4 183.8,346.4 186.3,346.4 188.8,346.4 191.3,346.4 193.8,346.4 196.3,346.4 198.8,346.4 201.3,346.4 203.8,346.4 206.3,346.4 208.8,346.4 211.3,346.4 213.8,346.4 216.3,346.4 218.8,346.4 221.3,346.4 223.8,346.4 226.3,346.4 228.8,346.4 231.3,346.4 233.8,346.4 236.3,346.4 238.8,346.4 241.3,346.4 243.8,346.4 246.3,346.4 248.8,346.4 251.3,346.4 253.8,346.4 256.3,346.4 258.8,346.4 261.3,346.4 263.8,346.4 266.3,346.4 268.8,346.4 271.3,346.4 273.8,346.4 276.3,346.4 278.8,346.4 281.3,345.6 283.8,344.1 286.3,342.6 288.8,341.1 290.0,340.4 291.3,341.1 293.8,342.6 296.3,343.0 298.8,343.2 301.3,344.7 303.8,346.3 306.3,346.4 308.8,346.4 311.3,346.4 313.8,346.4 316.3,346.4 318.8,346.4 321.3,346.4 323.8,346.4 326.3,346.4 328.8,346.4 331.3,345.7 333.8,344.9 336.3,344.2 338.8,343.5 339.8,343.2 341.3,343.6 343.8,344.3 346.3,344.9 348.8,345.6 351.3,346.3 353.8,346.4 356.3,346.4 358.8,346.4 361.3,346.4 363.8,346.1 366.3,345.5 368.8,344.9 371.3,344.3 371.5,344.3 373.8,344.8 376.3,345.4 378.8,346.0 381.3,346.4 383.8,346.4 386.3,346.4 388.8,346.4 391.3,346.4 393.8,346.4 396.3,346.4 398.8,346.9 401.3,347.8 403.8,346.9 406.3,345.8 408.8,345.2 411.3,344.7 413.5,344.2 413.8,344.3 416.3,344.9 418.8,345.5 421.3,345.8 423.8,345.3 426.3,344.5 427.5,344.1 428.8,344.5 431.3,345.2 433.8,345.9 436.3,346.4 438.8,346.4 441.3,346.4 443.8,346.4 446.3,346.4 448.8,346.4 451.3,346.4 453.8,346.4 456.3,346.4 458.8,346.4 461.3,346.4 463.8,346.4 466.3,346.4 468.8,346.4 471.3,346.4 473.8,346.4 476.3,346.0 478.8,345.7 481.3,345.4 482.5,345.2 483.8,345.4 486.3,345.7 488.8,346.0 491.3,346.4 493.8,346.4 496.3,346.4 498.8,346.4 501.3,346.4 503.8,346.4 506.3,345.8 508.8,345.0 511.3,344.3 513.8,343.5 514.2,343.4 516.3,344.0 518.8,344.8 521.3,345.5 523.8,346.3 526.3,346.4 528.8,346.4 531.3,346.4 533.8,346.4 536.3,346.4 538.8,346.4 541.3,346.4 543.8,346.4 546.3,346.4 548.8,346.4 551.3,346.4 553.8,346.4 556.3,346.4 558.8,346.2 561.3,345.4 563.8,344.7 566.3,344.0 568.0,343.5 568.8,343.7 571.3,344.5 573.8,345.4 576.3,346.2 578.8,346.4 581.3,346.4 583.8,346.4 586.3,346.4 588.8,345.9 591.3,345.1 593.8,344.2 596.3,343.3 596.5,343.2 598.8,344.0 601.3,344.8 603.8,345.5 606.3,346.3 608.8,346.4 611.3,346.4 613.8,346.4 616.3,346.1 618.8,345.5 621.3,344.8 623.8,344.2 625.0,343.9 626.3,344.2 628.8,344.9 631.3,345.5 633.8,346.1 636.3,346.4 638.8,346.4 641.3,346.4 643.8,346.4 646.3,346.4 648.8,346.4 651.3,346.4 653.8,346.4 656.3,346.4 658.8,346.4 661.3,346.4 663.8,346.4 666.3,346.2 668.8,345.4 671.3,344.7 673.8,343.9 675.5,343.4 676.3,343.6 678.8,344.1 681.3,344.4 683.8,344.6 686.3,345.3 688.8,346.1 691.3,346.4 693.8,346.4 696.3,346.4 698.8,346.4 701.3,346.4 703.8,346.4 706.3,346.4 708.8,346.4 711.3,346.4 713.8,346.4 716.3,346.4 718.8,346.4 721.3,346.4 723.8,346.4 726.3,346.4 728.8,346.4 731.3,346.4 733.8,346.4 736.3,346.4 738.8,346.4 741.3,346.4 743.4,346.4"/>
<polyline fill="none" stroke="rgb(124,0,0)" stroke-width="1.3" stroke-linejoin="round" points="63.8,363.0 66.3,363.0 68.8,363.0 71.3,363.0 73.8,363.0 76.3,363.0 78.8,363.0 81.3,363.0 83.8,363.0 86.3,363.0 88.8,363.0 91.3,363.0 93.8,363.0 96.3,363.0 98.8,363.0 101.3,363.0 103.8,363.0 106.3,363.0 108.8,363.0 111.3,363.0 113.8,363.0 116.3,363.0 118.8,363.0 121.3,363.0 123.8,363.0 126.3,362.2 128.8,361.2 131.3,360.1 133.8,358.9 134.5,358.5 136.3,359.0 138.8,359.7 141.3,360.3 143.8,361.6 146.3,362.4 148.8,362.8 151.3,359.6 153.8,356.1 156.3,352.6 158.8,349.0 159.4,348.2 161.3,351.2 163.8,353.4 166.3,357.5 168.8,363.0 171.3,363.0 173.8,363.0 176.3,363.0 178.8,363.0 181.3,363.0 183.8,363.0 186.3,363.0 188.8,363.0 191.3,363.0 193.8,363.0 196.3,363.0 198.8,363.0 201.3,363.0 203.8,363.0 206.3,363.0 208.8,363.0 211.3,363.0 213.8,363.0 216.3,363.0 218.8,363.0 221.3,363.0 223.8,363.0 226.3,363.0 228.8,363.0 231.3,363.0 233.8,363.0 236.3,363.0 238.8,363.0 241.3,363.0 243.8,363.0 246.3,363.0 248.8,363.0 251.3,363.0 253.8,363.0 256.3,363.0 258.8,363.0 261.3,363.0 263.8,363.0 266.3,363.0 268.8,363.0 271.3,363.0 273.8,363.0 276.3,363.0 278.8,363.0 281.3,362.1 283.8,360.2 286.3,358.4 288.8,356.6 290.0,355.7 291.3,356.4 293.8,357.4 296.3,358.0 298.8,359.0 301.3,360.9 303.8,362.8 306.3,363.0 308.8,363.0 311.3,363.0 313.8,363.0 316.3,363.0 318.8,363.0 321.3,363.0 323.8,363.0 326.3,363.0 328.8,363.0 331.3,362.2 333.8,361.5 336.3,360.7 338.8,359.9 339.8,359.6 341.3,360.0 343.8,360.7 346.3,361.4 348.8,362.1 351.3,362.9 353.8,363.0 356.3,363.0 358.8,363.0 361.3,363.0 363.8,362.6 366.3,361.9 368.8,361.2 371.3,360.5 371.5,360.4 373.8,361.1 376.3,361.8 378.8,362.5 381.3,363.0 383.8,363.0 386.3,363.0 388.8,363.0 391.3,363.0 393.8,363.0 396.3,363.0 398.8,363.0 401.3,363.0 403.8,362.9 406.3,362.3 408.8,361.7 411.3,361.1 413.5,360.6 413.8,360.7 416.3,361.3 418.8,362.0 421.3,362.4 423.8,361.9 426.3,361.1 427.5,360.7 428.8,361.1 431.3,361.8 433.8,362.5 436.3,363.0 438.8,363.0 441.3,363.0 443.8,363.0 446.3,363.0 448.8,363.0 451.3,363.0 453.8,363.0 456.3,363.0 458.8,363.0 461.3,363.0 463.8,363.0 466.3,363.0 468.8,363.0 471.3,363.0 473.8,363.0 476.3,362.6 478.8,362.3 481.3,362.0 482.5,361.8 483.8,362.0 486.3,362.3 488.8,362.6 491.3,363.0 493.8,363.0 496.3,363.0 498.8,363.0 501.3,363.0 503.8,363.0 506.3,362.4 508.8,361.6 511.3,360.9 513.8,360.2 514.2,360.1 516.3,360.7 518.8,361.4 521.3,362.1 523.8,362.9 526.3,363.0 528.8,363.0 531.3,363.0 533.8,363.0 536.3,363.0 538.8,363.0 541.3,363.0 543.8,363.0 546.3,363.0 548.8,363.0 551.3,363.0 553.8,363.0 556.3,363.0 558.8,362.8 561.3,362.0 563.8,361.3 566.3,360.5 568.0,360.0 568.8,360.3 571.3,361.1 573.8,361.9 576.3,362.8 578.8,363.0 581.3,363.0 583.8,363.0 586.3,363.0 588.8,362.5 591.3,361.6 593.8,360.8 596.3,359.9 596.5,359.8 598.8,360.5 601.3,361.3 603.8,362.1 606.3,362.9 608.8,363.0 611.3,363.0 613.8,363.0 616.3,362.7 618.8,362.2 621.3,361.8 623.8,361.3 625.0,361.0 626.3,361.3 628.8,361.8 631.3,362.3 633.8,362.8 636.3,363.0 638.8,363.0 641.3,363.0 643.8,363.0 646.3,363.0 648.8,363.0 651.3,363.0 653.8,363.0 656.3,363.0 658.8,363.0 661.3,363.0 663.8,363.0 666.3,362.6 668.8,361.5 671.3,360.3 673.8,359.2 675.5,358.4 676.3,358.7 678.8,359.5 681.3,359.9 683.8,360.2 686.3,361.4 688.8,362.6 691.3,363.0 693.8,363.0 696.3,363.0 698.8,363.0 701.3,363.0 703.8,363.0 706.3,363.0 708.8,363.0 711.3,363.0 713.8,363.0 716.3,363.0 718.8,363.0 721.3,363.0 723.8,363.0 726.3,363.0 728.8,363.0 731.3,363.0 733.8,363.0 736.3,363.0 738.8,363.0 741.3,363.0 743.4,363.0"/>
<polyline fill="none" stroke="rgb(117,0,0)" stroke-width="1.3" stroke-linejoin="round" points="63.8,381.2 66.3,381.2 68.8,381.2 71.3,381.2 73.8,381.2 76.3,381.2 78.8,381.2 81.3,381.2 83.8,381.2 86.3,381.2 88.8,381.2 91.3,381.2 93.8,381.2 96.3,381.2 98.8,381.2 101.3,381.2 103.8,381.2 106.3,381.2 108.8,381.2 111.3,381.2 113.8,381.2 116.3,381.2 118.8,381.2 121.3,381.2 123.8,381.2 126.3,380.4 128.8,379.3 131.3,378.2 133.8,377.0 134.5,376.6 136.3,377.1 138.8,377.8 141.3,378.5 143.8,379.8 146.3,380.6 148.8,381.0 151.3,377.4 153.8,373.5 156.3,369.6 158.8,365.6 159.4,364.7 161.3,368.1 163.8,370.5 166.3,375.1 168.8,381.2 171.3,381.2 173.8,381.2 176.3,381.2 178.8,381.2 181.3,381.2 183.8,381.2 186.3,381.2 188.8,381.2 191.3,381.2 193.8,381.2 196.3,381.2 198.8,381.2 201.3,381.2 203.8,381.2 206.3,381.2 208.8,381.2 211.3,381.2 213.8,381.2 216.3,381.2 218.8,381.2 221.3,381.2 223.8,381.2 226.3,381.2 228.8,381.2 231.3,381.2 233.8,381.2 236.3,381.2 238.8,381.2 241.3,381.2 243.8,381.2 246.3,381.2 248.8,381.2 251.3,381.2 253.8,381.2 256.3,381.2 258.8,381.2 261.3,381.2 263.8,381.2 266.3,381.2 268.8,381.2 271.3,381.2 273.8,381.2 276.3,381.2 278.8,381.2 281.3,379.7 283.8,376.9 286.3,374.0 288.8,371.2 290.0,369.8 291.3,370.9 293.8,372.5 296.3,373.4 298.8,375.0 301.3,378.0 303.8,381.0 306.3,381.2 308.8,381.2 311.3,381.2 313.8,381.2 316.3,381.2 318.8,381.2 321.3,381.2 323.8,381.2 326.3,381.2 328.8,381.2 331.3,380.5 333.8,379.9 336.3,379.2 338.8,378.6 339.8,378.3 341.3,378.7 343.8,379.3 346.3,379.9 348.8,380.5 351.3,381.1 353.8,381.2 356.3,381.2 358.8,381.2 361.3,381.2 363.8,380.8 366.3,380.0 368.8,379.2 371.3,378.3 371.5,378.3 373.8,379.0 376.3,379.8 378.8,380.6 381.3,381.2 383.8,381.2 386.3,381.2 388.8,381.2 391.3,381.2 393.8,381.2 396.3,381.2 398.8,381.2 401.3,381.2 403.8,381.1 406.3,380.5 408.8,379.8 411.3,379.2 413.5,378.6 413.8,378.7 416.3,379.4 418.8,380.1 421.3,380.6 423.8,380.1 426.3,379.3 427.5,378.9 428.8,379.3 431.3,380.0 433.8,380.7 436.3,381.2 438.8,381.2 441.3,381.2 443.8,381.2 446.3,381.2 448.8,381.2 451.3,381.2 453.8,381.2 456.3,381.2 458.8,381.2 461.3,381.2 463.8,381.2 466.3,381.2 468.8,381.2 471.3,381.2 473.8,381.2 476.3,380.8 478.8,380.5 481.3,380.2 482.5,380.0 483.8,380.2 486.3,380.5 488.8,380.8 491.3,381.2 493.8,381.2 496.3,381.2 498.8,381.2 501.3,381.2 503.8,381.2 506.3,380.6 508.8,379.9 511.3,379.2 513.8,378.5 514.2,378.4 516.3,379.0 518.8,379.7 521.3,380.4 523.8,381.1 526.3,381.2 528.8,381.2 531.3,381.2 533.8,381.2 536.3,381.2 538.8,381.2 541.3,381.2 543.8,381.2 546.3,381.2 548.8,381.2 551.3,381.2 553.8,381.2 556.3,381.2 558.8,381.0 561.3,380.2 563.8,379.5 566.3,378.7 568.0,378.2 568.8,378.5 571.3,379.3 573.8,380.1 576.3,381.0 578.8,381.2 581.3,381.2 583.8,381.2 586.3,381.2 588.8,380.7 591.3,379.9 593.8,379.0 596.3,378.1 596.5,378.0 598.8,378.8 601.3,379.6 603.8,380.3 606.3,381.1 608.8,381.2 611.3,381.2 613.8,381.2 616.3,381.0 618.8,380.6 621.3,380.2 623.8,379.9 625.0,379.7 626.3,379.9 628.8,380.3 631.3,380.6 633.8,381.0 636.3,381.2 638.8,381.2 641.3,381.2 643.8,381.2 646.3,381.2 648.8,381.2 651.3,381.2 653.8,381.2 656.3,381.2 658.8,381.2 661.3,381.2 663.8,381.2 666.3,380.7 668.8,379.3 671.3,377.8 673.8,376.4 675.5,375.4 676.3,375.7 678.8,376.8 681.3,377.3 683.8,377.7 686.3,379.2 688.8,380.7 691.3,381.2 693.8,381.2 696.3,381.2 698.8,381.2 701.3,381.2 703.8,381.2 706.3,381.2 708.8,381.2 711.3,381.2 713.8,381.2 716.3,381.2 718.8,381.2 721.3,381.2 723.8,381.2 726.3,381.2 728.8,381.2 731.3,381.2 733.8,381.2 736.3,381.2 738.8,381.2 741.3,381.2 743.4,381.2"/>
<polyline fill="none" stroke="rgb(109,0,0)" stroke-width="1.3" stroke-linejoin="round" points="63.8,398.2 66.3,398.2 68.8,398.2 71.3,398.2 73.8,398.2 76.3,398.2 78.8,398.2 81.3,398.2 83.8,398.2 86.3,398.2 88.8,398.2 91.3,398.2 93.8,398.2 96.3,398.2 98.8,398.2 101.3,398.3 103.8,399.1 106.3,399.1 108.8,398.3 111.3,398.2 113.8,398.2 116.3,398.2 118.8,398.2 121.3,398.2 123.8,398.2 126.3,397.4 128.8,396.3 131.3,395.2 133.8,394.0 134.5,393.6 136.3,394.1 138.8,394.8 141.3,395.5 143.8,396.8 146.3,397.6 148.8,398.0 151.3,394.6 153.8,390.9 156.3,387.2 158.8,383.5 159.4,382.6 161.3,385.8 163.8,388.1 166.3,392.4 168.8,398.2 171.3,398.2 173.8,398.2 176.3,398.2 178.8,398.2 181.3,398.2 183.8,398.2 186.3,398.2 188.8,398.2 191.3,398.2 193.8,398.2 196.3,398.2 198.8,398.2 201.3,398.2 203.8,398.2 206.3,398.2 208.8,398.2 211.3,398.2 213.8,398.2 216.3,398.2 218.8,398.2 221.3,398.2 223.8,398.2 226.3,398.2 228.8,398.2 231.3,398.2 233.8,398.2 236.3,398.2 238.8,398.2 241.3,398.2 243.8,398.2 246.3,398.2 248.8,398.2 251.3,398.2 253.8,398.2 256.3,398.2 258.8,398.2 261.3,398.2 263.8,398.2 266.3,398.2 268.8,398.2 271.3,398.2 273.8,398.2 276.3,398.2 278.8,398.2 281.3,396.8 283.8,394.1 286.3,391.3 288.8,388.6 290.0,387.3 291.3,388.3 293.8,389.9 296.3,390.8 298.8,392.3 301.3,395.1 303.8,398.0 306.3,398.2 308.8,398.2 311.3,398.2 313.8,398.2 316.3,398.2 318.8,398.2 321.3,398.2 323.8,398.2 326.3,398.2 328.8,398.2 331.3,397.2 333.8,396.1 336.3,395.1 338.8,394.0 339.8,393.6 341.3,394.2 343.8,395.1 346.3,396.1 348.8,397.1 351.3,398.0 353.8,398.2 356.3,398.2 358.8,398.2 361.3,398.2 363.8,397.7 366.3,396.8 368.8,396.0 371.3,395.1 371.5,395.0 373.8,395.8 376.3,396.7 378.8,397.6 381.3,398.2 383.8,398.8 386.3,399.4 388.8,398.6 391.3,398.2 393.8,398.2 396.3,398.2 398.8,398.2 401.3,398.2 403.8,398.1 406.3,397.4 408.8,396.7 411.3,396.0 413.5,395.4 413.8,395.5 416.3,396.3 418.8,397.1 421.3,397.6 423.8,397.2 426.3,396.4 427.5,396.0 428.8,396.4 431.3,397.1 433.8,397.7 436.3,398.2 438.8,398.2 441.3,398.2 443.8,398.2 446.3,398.2 448.8,398.2 451.3,398.2 453.8,398.2 456.3,398.2 458.8,398.2 461.3,398.2 463.8,398.2 466.3,398.2 468.8,398.2 471.3,398.2 473.8,398.2 476.3,397.8 478.8,397.5 481.3,397.2 482.5,397.0 483.8,397.2 486.3,397.5 488.8,397.8 491.3,398.2 493.8,398.2 496.3,398.2 498.8,398.2 501.3,398.2 503.8,398.2 506.3,397.6 508.8,397.0 511.3,396.3 513.8,395.6 514.2,395.5 516.3,396.1 518.8,396.8 521.3,397.4 523.8,398.1 526.3,398.2 528.8,398.2 531.3,398.2 533.8,398.2 536.3,398.2 538.8,398.2 541.3,398.2 543.8,398.2 546.3,398.2 548.8,398.2 551.3,398.2 553.8,398.2 556.3,398.2 558.8,398.0 561.3,397.3 563.8,396.5 566.3,395.8 568.0,395.4 568.8,395.6 571.3,396.4 573.8,397.2 576.3,398.0 578.8,398.2 581.3,398.2 583.8,398.2 586.3,398.2 588.8,397.8 591.3,396.9 593.8,396.1 596.3,395.3 596.5,395.2 598.8,395.9 601.3,396.6 603.8,397.4 606.3,398.1 608.8,398.2 611.3,398.2 613.8,398.2 616.3,398.0 618.8,397.7 621.3,397.4 623.8,397.1 625.0,397.0 626.3,397.2 628.8,397.5 631.3,397.8 633.8,398.1 636.3,398.2 638.8,398.2 641.3,398.2 643.8,398.2 646.3,398.2 648.8,398.2 651.3,398.2 653.8,398.2 656.3,398.2 658.8,398.2 661.3,398.2 663.8,398.2 666.3,397.6 668.8,395.6 671.3,393.6 673.8,391.6 675.5,390.2 676.3,390.7 678.8,392.1 681.3,392.8 683.8,393.4 686.3,395.4 688.8,397.5 691.3,398.2 693.8,398.2 696.3,398.2 698.8,398.2 701.3,398.2 703.8,398.2 706.3,398.2 708.8,398.2 711.3,398.2 713.8,398.2 716.3,398.2 718.8,398.2 721.3,398.2 723.8,398.2 726.3,398.2 728.8,398.2 731.3,398.2 733.8,398.2 736.3,398.2 738.8,398.2 741.3,398.2 743.4,398.2"/>
<polyline fill="none" stroke="rgb(102,0,0)" stroke-width="1.3" stroke-linejoin="round" points="63.8,414.6 66.3,414.6 68.8,414.6 71.3,414.6 73.8,414.6 76.3,414.6 78.8,414.6 81.3,414.6 83.8,414.6 86.3,414.6 88.8,414.6 91.3,414.6 93.8,414.6 96.3,414.6 98.8,414.6 101.3,414.6 103.8,414.6 106.3,414.6 108.8,414.6 111.3,414.6 113.8,414.6 116.3,414.6 118.8,414.6 121.3,414.6 123.8,414.6 126.3,413.8 128.8,412.7 131.3,411.7 133.8,410.5 134.5,410.1 136.3,410.6 138.8,411.2 141.3,411.9 143.8,413.2 146.3,414.0 148.8,414.4 151.3,411.2 153.8,407.7 156.3,404.2 158.8,400.7 159.4,399.9 161.3,402.9 163.8,405.1 166.3,409.2 168.8,414.6 171.3,414.6 173.8,414.6 176.3,414.6 178.8,414.6 181.3,414.6 183.8,414.6 186.3,414.6 188.8,414.6 191.3,414.6 193.8,414.6 196.3,414.6 198.8,414.6 201.3,414.6 203.8,414.6 206.3,414.6 208.8,414.6 211.3,414.6 213.8,414.6 216.3,414.6 218.8,414.6 221.3,414.6 223.8,414.6 226.3,414.6 228.8,414.6 231.3,414.6 233.8,414.6 236.3,414.6 238.8,414.6 241.3,414.6 243.8,414.6 246.3,414.6 248.8,414.6 251.3,414.6 253.8,414.8 256.3,415.5 258.8,415.3 261.3,414.6 263.8,414.6 266.3,414.6 268.8,414.6 271.3,414.6 273.8,414.6 276.3,414.6 278.8,414.6 281.3,413.1 283.8,410.2 286.3,407.3 288.8,404.4 290.0,403.0 291.3,404.1 293.8,405.8 296.3,406.7 298.8,408.3 301.3,411.3 303.8,414.4 306.3,414.6 308.8,414.6 311.3,414.6 313.8,414.6 316.3,414.6 318.8,414.6 321.3,414.6 323.8,414.6 326.3,414.6 328.8,414.6 331.3,413.5 333.8,412.4 336.3,411.3 338.8,410.2 339.8,409.8 341.3,410.4 343.8,411.4 346.3,412.4 348.8,413.4 351.3,414.4 353.8,414.6 356.3,414.6 358.8,414.6 361.3,414.6 363.8,414.1 366.3,413.2 368.8,412.2 371.3,411.3 371.5,411.2 373.8,412.1 376.3,413.7 378.8,414.6 381.3,414.7 383.8,414.6 386.3,414.6 388.8,414.6 391.3,414.6 393.8,414.6 396.3,414.6 398.8,414.6 401.3,414.6 403.8,414.5 406.3,413.8 408.8,413.1 411.3,412.3 413.5,411.7 413.8,411.8 416.3,412.6 418.8,413.4 421.3,414.0 423.8,413.6 426.3,412.9 427.5,412.6 428.8,412.9 431.3,413.5 433.8,414.2 436.3,414.6 438.8,414.6 441.3,414.6 443.8,414.6 446.3,414.6 448.8,414.6 451.3,414.6 453.8,414.6 456.3,414.6 458.8,414.6 461.3,414.6 463.8,414.6 466.3,414.6 468.8,414.6 471.3,414.6 473.8,414.6 476.3,414.2 478.8,413.9 481.3,413.6 482.5,413.4 483.8,413.6 486.3,413.9 488.8,414.2 491.3,414.6 493.8,414.6 496.3,414.6 498.8,414.6 501.3,414.6 503.8,414.6 506.3,414.1 508.8,413.5 511.3,412.9 513.8,412.2 514.2,412.1 516.3,413.1 518.8,414.0 521.3,414.1 523.8,414.5 526.3,414.6 528.8,414.6 531.3,414.6 533.8,414.6 536.3,414.6 538.8,414.6 541.3,414.6 543.8,414.6 546.3,414.6 548.8,414.6 551.3,414.6 553.8,414.6 556.3,414.6 558.8,414.4 561.3,413.7 563.8,413.1 566.3,412.4 568.0,412.0 568.8,412.2 571.3,412.9 573.8,413.7 576.3,414.4 578.8,414.6 581.3,414.6 583.8,414.6 586.3,414.6 588.8,414.2 591.3,413.4 593.8,412.6 596.3,411.9 596.5,411.8 598.8,412.4 601.3,413.1 603.8,413.8 606.3,414.5 608.8,414.6 611.3,414.6 613.8,414.6 616.3,414.5 618.8,414.2 621.3,414.0 623.8,413.7 625.0,413.6 626.3,413.7 628.8,414.0 631.3,414.2 633.8,414.5 636.3,414.6 638.8,414.6 641.3,414.6 643.8,414.6 646.3,414.6 648.8,414.6 651.3,414.6 653.8,414.6 656.3,414.6 658.8,414.6 661.3,414.6 663.8,414.6 666.3,413.9 668.8,411.8 671.3,409.7 673.8,407.5 675.5,406.1 676.3,406.6 678.8,408.1 681.3,408.8 683.8,409.5 686.3,411.6 688.8,413.8 691.3,414.6 693.8,414.6 696.3,414.6 698.8,414.6 701.3,414.6 703.8,414.6 706.3,414.6 708.8,414.6 711.3,414.6 713.8,414.6 716.3,414.6 718.8,414.6 721.3,414.6 723.8,414.6 726.3,414.6 728.8,414.6 731.3,414.6 733.8,414.6 736.3,414.6 738.8,414.6 741.3,414.6 743.4,414.6"/>
<polyline fill="none" stroke="rgb(95,0,0)" stroke-width="1.3" stroke-linejoin="round" points="63.8,428.5 66.3,428.5 68.8,428.5 71.3,428.5 73.8,428.5 76.3,428.5 78.8,428.5 81.3,428.5 83.8,428.5 86.3,428.5 88.8,428.5 91.3,428.5 93.8,428.5 96.3,428.5 98.8,428.5 101.3,428.5 103.8,428.5 106.3,428.5 108.8,428.5 111.3,428.5 113.8,428.5 116.3,428.5 118.8,428.5 121.3,428.5 123.8,428.5 126.3,427.8 128.8,426.7 131.3,425.7 133.8,424.5 134.5,424.1 136.3,424.6 138.8,425.2 141.3,425.9 143.8,427.1 146.3,427.9 148.8,428.3 151.3,425.7 153.8,422.8 156.3,419.9 158.8,417.0 159.4,416.3 161.3,418.8 163.8,420.6 166.3,424.0 168.8,428.5 171.3,428.5 173.8,428.5 176.3,428.5 178.8,428.5 181.3,428.5 183.8,428.5 186.3,428.5 188.8,428.5 191.3,428.5 193.8,428.5 196.3,428.5 198.8,428.5 201.3,428.5 203.8,428.5 206.3,428.5 208.8,428.5 211.3,428.5 213.8,428.5 216.3,428.5 218.8,428.5 221.3,428.5 223.8,428.5 226.3,428.5 228.8,428.5 231.3,428.5 233.8,428.5 236.3,428.5 238.8,428.5 241.3,428.5 243.8,428.5 246.3,428.5 248.8,428.5 251.3,428.5 253.8,428.5 256.3,428.5 258.8,428.5 261.3,428.5 263.8,428.5 266.3,428.5 268.8,428.5 271.3,428.5 273.8,428.5 276.3,428.5 278.8,428.5 281.3,427.0 283.8,424.0 286.3,421.0 288.8,418.0 290.0,416.6 291.3,417.7 293.8,419.4 296.3,420.4 298.8,422.0 301.3,425.1 303.8,428.3 306.3,428.5 308.8,428.5 311.3,428.5 313.8,428.5 316.3,428.5 318.8,428.5 321.3,428.5 323.8,428.5 326.3,428.5 328.8,428.5 331.3,427.1 333.8,425.8 336.3,424.4 338.8,423.0 339.8,422.5 341.3,423.2 343.8,424.5 346.3,425.8 348.8,427.0 351.3,428.2 353.8,428.5 356.3,428.5 358.8,428.5 361.3,428.5 363.8,428.0 366.3,427.1 368.8,426.1 371.3,425.2 371.5,425.1 373.8,426.0 376.3,426.9 378.8,427.9 381.3,428.5 383.8,428.5 386.3,428.5 388.8,428.5 391.3,428.5 393.8,428.5 396.3,428.5 398.8,428.5 401.3,428.5 403.8,428.4 406.3,427.7 408.8,426.9 411.3,426.2 413.5,425.5 413.8,425.6 416.3,426.4 418.8,427.3 421.3,427.9 423.8,427.6 426.3,426.9 427.5,426.6 428.8,426.9 431.3,427.5 433.8,428.1 436.3,428.5 438.8,428.5 441.3,428.5 443.8,428.5 446.3,428.5 448.8,428.5 451.3,428.5 453.8,428.5 456.3,428.5 458.8,428.5 461.3,428.5 463.8,428.5 466.3,428.5 468.8,428.5 471.3,428.5 473.8,428.5 476.3,428.1 478.8,427.8 481.3,427.5 482.5,427.3 483.8,427.5 486.3,427.8 488.8,428.1 491.3,428.5 493.8,428.5 496.3,428.5 498.8,428.5 501.3,428.5 503.8,428.5 506.3,428.0 508.8,427.5 511.3,426.9 513.8,426.3 514.2,426.3 516.3,426.7 518.8,427.3 521.3,427.8 523.8,428.4 526.3,428.5 528.8,428.5 531.3,428.5 533.8,428.5 536.3,428.5 538.8,428.5 541.3,428.5 543.8,428.5 546.3,428.5 548.8,428.5 551.3,428.5 553.8,428.5 556.3,428.5 558.8,428.3 561.3,427.7 563.8,427.1 566.3,426.5 568.0,426.1 568.8,426.3 571.3,427.0 573.8,427.6 576.3,428.3 578.8,428.5 581.3,428.5 583.8,428.5 586.3,428.5 588.8,428.1 591.3,427.4 593.8,426.7 596.3,426.0 596.5,426.0 598.8,426.5 601.3,427.2 603.8,427.8 606.3,428.4 608.8,428.5 611.3,428.5 613.8,428.5 616.3,428.4 618.8,428.1 621.3,427.9 623.8,427.6 625.0,427.5 626.3,427.6 628.8,427.9 631.3,428.1 633.8,428.4 636.3,428.5 638.8,428.5 641.3,428.5 643.8,428.5 646.3,428.5 648.8,428.5 651.3,428.5 653.8,428.5 656.3,428.5 658.8,428.5 661.3,428.5 663.8,428.5 666.3,427.7 668.8,425.0 671.3,422.4 673.8,419.7 675.5,417.9 676.3,418.5 678.8,420.4 681.3,421.3 683.8,422.1 686.3,424.8 688.8,427.5 691.3,428.5 693.8,428.5 696.3,428.5 698.8,428.5 701.3,428.5 703.8,428.5 706.3,428.5 708.8,428.5 711.3,428.5 713.8,428.5 716.3,428.5 718.8,428.5 721.3,428.5 723.8,428.5 726.3,428.5 728.8,428.5 731.3,428.5 733.8,428.5 736.3,428.5 738.8,428.5 741.3,428.5 743.4,428.5"/>
<polyline fill="none" stroke="rgb(87,0,0)" stroke-width="1.3" stroke-linejoin="round" points="63.8,440.8 66.3,440.8 68.8,440.8 71.3,440.8 73.8,440.8 76.3,440.8 78.8,440.8 81.3,440.8 83.8,440.8 86.3,440.8 88.8,440.8 91.3,440.8 93.8,440.8 96.3,440.8 98.8,440.8 101.3,441.3 103.8,442.2 106.3,441.4 108.8,440.8 111.3,440.8 113.8,440.8 116.3,440.8 118.8,440.8 121.3,440.8 123.8,440.8 126.3,440.1 128.8,439.1 131.3,438.1 133.8,437.0 134.5,436.7 136.3,437.1 138.8,437.7 141.3,438.3 143.8,439.4 146.3,440.2 148.8,440.9 151.3,439.3 153.8,436.3 156.3,433.3 158.8,430.8 159.4,430.2 161.3,432.4 163.8,433.9 166.3,436.9 168.8,440.8 171.3,440.8 173.8,440.8 176.3,440.8 178.8,440.8 181.3,440.8 183.8,440.8 186.3,440.8 188.8,440.8 191.3,440.8 193.8,440.8 196.3,440.8 198.8,440.8 201.3,440.8 203.8,440.8 206.3,440.8 208.8,440.8 211.3,440.8 213.8,440.8 216.3,440.8 218.8,440.8 221.3,440.8 223.8,440.8 226.3,440.8 228.8,440.8 231.3,440.8 233.8,440.8 236.3,440.8 238.8,440.8 241.3,440.8 243.8,440.8 246.3,440.8 248.8,440.8 251.3,440.8 253.8,440.8 256.3,440.8 258.8,440.8 261.3,440.8 263.8,440.8 266.3,440.8 268.8,440.8 271.3,440.8 273.8,440.8 276.3,440.8 278.8,440.8 281.3,439.2 283.8,436.1 286.3,433.1 288.8,430.0 290.0,428.5 291.3,429.6 293.8,431.4 296.3,432.4 298.8,434.1 301.3,437.3 303.8,440.5 306.3,440.8 308.8,440.8 311.3,440.8 313.8,440.8 316.3,440.8 318.8,440.8 321.3,440.8 323.8,440.8 326.3,441.1 328.8,442.0 331.3,439.8 333.8,437.2 336.3,435.3 338.8,433.5 339.8,432.8 341.3,433.8 343.8,435.5 346.3,437.1 348.8,438.8 351.3,440.5 353.8,440.8 356.3,440.8 358.8,440.8 361.3,440.8 363.8,440.3 366.3,439.4 368.8,438.5 371.3,437.6 371.5,437.5 373.8,438.4 376.3,439.3 378.8,440.2 381.3,440.8 383.8,440.8 386.3,440.8 388.8,440.8 391.3,440.8 393.8,440.8 396.3,440.8 398.8,440.8 401.3,440.8 403.8,440.7 406.3,440.0 408.8,439.2 411.3,438.5 413.5,437.8 413.8,437.9 416.3,438.7 418.8,439.6 421.3,440.2 423.8,440.0 426.3,439.4 427.5,439.1 428.8,439.4 431.3,439.9 433.8,440.4 436.3,440.8 438.8,440.8 441.3,440.8 443.8,440.8 446.3,440.8 448.8,440.8 451.3,440.8 453.8,440.8 456.3,440.8 458.8,440.8 461.3,440.8 463.8,440.8 466.3,440.8 468.8,440.8 471.3,440.8 473.8,440.8 476.3,440.4 478.8,440.1 481.3,439.8 482.5,439.6 483.8,439.8 486.3,440.1 488.8,440.4 491.3,440.8 493.8,440.8 496.3,440.8 498.8,440.8 501.3,440.8 503.8,440.8 506.3,440.4 508.8,439.9 511.3,439.3 513.8,438.8 514.2,438.7 516.3,439.2 518.8,439.7 521.3,440.2 523.8,440.7 526.3,440.8 528.8,440.8 531.3,440.8 533.8,440.8 536.3,440.8 538.8,440.8 541.3,440.8 543.8,440.8 546.3,440.8 548.8,440.8 551.3,440.8 553.8,440.8 556.3,440.8 558.8,440.6 561.3,440.1 563.8,439.6 566.3,439.0 568.0,438.7 568.8,438.9 571.3,439.5 573.8,440.0 576.3,440.6 578.8,440.8 581.3,440.8 583.8,440.8 586.3,440.8 588.8,440.5 591.3,439.8 593.8,439.2 596.3,438.6 596.5,438.5 598.8,439.1 601.3,439.6 603.8,440.2 606.3,440.8 608.8,440.8 611.3,440.8 613.8,440.8 616.3,440.6 618.8,440.3 621.3,440.0 623.8,439.7 625.0,439.6 626.3,439.7 628.8,440.1 631.3,440.4 633.8,440.7 636.3,440.8 638.8,440.8 641.3,440.8 643.8,440.8 646.3,440.8 648.8,440.8 651.3,440.8 653.8,440.8 656.3,440.8 658.8,440.8 661.3,440.8 663.8,440.8 666.3,440.0 668.8,437.3 671.3,434.7 673.8,432.0 675.5,430.2 676.3,430.8 678.8,432.7 681.3,433.6 683.8,434.4 686.3,437.1 688.8,439.8 691.3,440.8 693.8,440.8 696.3,440.8 698.8,440.8 701.3,440.8 703.8,440.8 706.3,440.8 708.8,440.8 711.3,440.8 713.8,440.8 716.3,440.8 718.8,440.8 721.3,440.8 723.8,440.8 726.3,440.8 728.8,440.8 731.3,440.8 733.8,440.8 736.3,440.8 738.8,440.8 741.3,440.8 743.4,440.8"/>
<polyline fill="none" stroke="rgb(80,0,0)" stroke-width="1.3" stroke-linejoin="round" points="63.8,453.2 66.3,453.2 68.8,453.2 71.3,453.2 73.8,453.2 76.3,453.2 78.8,453.2 81.3,453.2 83.8,453.2 86.3,453.2 88.8,453.2 91.3,453.2 93.8,453.2 96.3,453.2 98.8,453.2 101.3,453.2 103.8,453.2 106.3,453.2 108.8,453.2 111.3,453.2 113.8,453.2 116.3,453.2 118.8,453.2 121.3,453.2 123.8,453.2 126.3,452.5 128.8,451.6 131.3,450.7 133.8,449.7 134.5,449.3 136.3,449.7 138.8,450.2 141.3,450.7 143.8,451.9 146.3,452.6 148.8,453.0 151.3,451.0 153.8,448.7 156.3,446.4 158.8,444.1 159.4,443.5 161.3,445.5 163.8,446.9 166.3,449.6 168.8,453.2 171.3,453.2 173.8,453.2 176.3,453.2 178.8,453.2 181.3,453.2 183.8,453.2 186.3,453.2 188.8,453.2 191.3,453.2 193.8,453.2 196.3,453.2 198.8,453.2 201.3,453.2 203.8,453.2 206.3,453.2 208.8,453.2 211.3,453.2 213.8,453.2 216.3,453.2 218.8,453.2 221.3,453.2 223.8,453.2 226.3,453.2 228.8,453.2 231.3,453.2 233.8,453.2 236.3,453.2 238.8,453.2 241.3,453.2 243.8,453.2 246.3,453.2 248.8,453.2 251.3,453.2 253.8,453.2 256.3,453.2 258.8,453.2 261.3,453.2 263.8,453.2 266.3,453.2 268.8,453.2 271.3,453.2 273.8,453.2 276.3,453.2 278.8,453.2 281.3,451.8 283.8,449.0 286.3,446.2 288.8,443.4 290.0,442.1 291.3,443.1 293.8,444.8 296.3,445.6 298.8,447.2 301.3,450.1 303.8,453.0 306.3,453.2 308.8,453.2 311.3,453.2 313.8,453.2 316.3,453.2 318.8,453.2 321.3,453.2 323.8,453.2 326.3,453.2 328.8,453.2 331.3,451.1 333.8,448.9 336.3,446.8 338.8,444.7 339.8,443.8 341.3,445.0 343.8,446.9 346.3,448.9 348.8,450.8 351.3,452.8 353.8,453.2 356.3,453.2 358.8,453.2 361.3,453.2 363.8,452.8 366.3,451.9 368.8,451.1 371.3,450.3 371.5,450.2 373.8,451.0 376.3,451.8 378.8,452.6 381.3,453.2 383.8,453.2 386.3,453.2 388.8,453.2 391.3,453.2 393.8,453.2 396.3,453.2 398.8,453.2 401.3,453.2 403.8,453.1 406.3,452.4 408.8,451.7 411.3,450.9 413.5,450.3 413.8,450.4 416.3,451.2 418.8,452.0 421.3,452.6 423.8,452.5 426.3,451.9 427.5,451.6 428.8,451.9 431.3,452.4 433.8,452.9 436.3,453.2 438.8,453.2 441.3,453.2 443.8,453.2 446.3,453.2 448.8,453.2 451.3,453.2 453.8,453.2 456.3,453.2 458.8,453.2 461.3,453.2 463.8,453.2 466.3,453.2 468.8,453.2 471.3,453.2 473.8,453.2 476.3,452.8 478.8,452.5 481.3,452.2 482.5,452.0 483.8,452.2 486.3,452.5 488.8,452.8 491.3,453.2 493.8,453.2 496.3,453.2 498.8,453.2 501.3,453.2 503.8,453.2 506.3,452.8 508.8,452.3 511.3,451.8 513.8,451.4 514.2,451.3 516.3,451.7 518.8,452.2 521.3,452.6 523.8,453.1 526.3,453.2 528.8,453.2 531.3,453.2 533.8,453.2 536.3,453.2 538.8,453.2 541.3,453.2 543.8,453.2 546.3,453.2 548.8,453.2 551.3,453.2 553.8,453.2 556.3,453.2 558.8,453.1 561.3,452.6 563.8,452.1 566.3,451.7 568.0,451.3 568.8,451.5 571.3,452.0 573.8,452.5 576.3,453.1 578.8,453.2 581.3,453.2 583.8,453.2 586.3,453.2 588.8,452.9 591.3,452.4 593.8,451.8 596.3,451.2 596.5,451.2 598.8,451.7 601.3,452.2 603.8,452.7 606.3,453.2 608.8,453.2 611.3,453.2 613.8,453.2 616.3,453.0 618.8,452.6 621.3,452.2 623.8,451.8 625.0,451.7 626.3,451.9 628.8,452.2 631.3,452.6 633.8,453.0 636.3,453.2 638.8,453.2 641.3,453.2 643.8,453.2 646.3,453.2 648.8,453.2 651.3,453.2 653.8,453.2 656.3,453.2 658.8,453.2 661.3,453.2 663.8,453.2 666.3,452.4 668.8,450.1 671.3,447.7 673.8,445.4 675.5,443.8 676.3,444.3 678.8,446.0 681.3,446.8 683.8,447.6 686.3,449.9 688.8,452.4 691.3,453.2 693.8,453.2 696.3,453.2 698.8,453.2 701.3,453.2 703.8,453.2 706.3,453.2 708.8,453.2 711.3,453.2 713.8,453.2 716.3,453.2 718.8,453.2 721.3,453.2 723.8,453.2 726.3,453.2 728.8,453.2 731.3,453.2 733.8,453.2 736.3,453.2 738.8,453.2 741.3,453.2 743.4,453.2"/>
<polyline fill="none" stroke="rgb(73,0,0)" stroke-width="1.3" stroke-linejoin="round" points="63.8,463.4 66.3,463.4 68.8,463.4 71.3,463.4 73.8,463.4 76.3,463.4 78.8,463.4 81.3,463.4 83.8,463.4 86.3,463.4 88.8,463.4 91.3,463.4 93.8,463.4 96.3,463.4 98.8,463.4 101.3,463.4 103.8,463.4 106.3,463.4 108.8,463.4 111.3,463.4 113.8,463.4 116.3,463.4 118.8,463.4 121.3,463.4 123.8,463.4 126.3,462.8 128.8,462.0 131.3,461.1 133.8,460.1 134.5,459.8 136.3,460.1 138.8,460.6 141.3,461.0 143.8,462.1 146.3,462.8 148.8,463.2 151.3,462.0 153.8,460.6 156.3,459.2 158.8,457.7 159.4,457.4 161.3,458.6 163.8,459.5 166.3,461.2 168.8,463.4 171.3,463.4 173.8,463.4 176.3,463.4 178.8,463.4 181.3,463.4 183.8,463.4 186.3,463.4 188.8,463.4 191.3,463.4 193.8,463.4 196.3,463.4 198.8,463.4 201.3,463.4 203.8,463.4 206.3,463.4 208.8,463.4 211.3,463.4 213.8,463.4 216.3,463.4 218.8,463.4 221.3,463.4 223.8,463.4 226.3,463.4 228.8,463.4 231.3,463.4 233.8,463.4 236.3,463.4 238.8,463.4 241.3,463.4 243.8,463.4 246.3,463.4 248.8,463.4 251.3,463.4 253.8,463.4 256.3,463.4 258.8,463.4 261.3,463.4 263.8,463.4 266.3,463.4 268.8,463.4 271.3,463.4 273.8,463.4 276.3,463.4 278.8,463.4 281.3,462.1 283.8,459.5 286.3,457.0 288.8,454.4 290.0,453.2 291.3,454.1 293.8,455.6 296.3,456.4 298.8,457.8 301.3,460.5 303.8,463.2 306.3,463.4 308.8,463.4 311.3,463.4 313.8,463.4 316.3,463.4 318.8,463.4 321.3,463.4 323.8,463.4 326.3,463.4 328.8,463.4 331.3,461.2 333.8,459.0 336.3,456.8 338.8,454.6 339.8,453.7 341.3,454.9 343.8,456.9 346.3,459.0 348.8,461.0 351.3,463.0 353.8,463.4 356.3,463.4 358.8,463.4 361.3,463.4 363.8,463.0 366.3,462.7 368.8,462.7 371.3,461.3 371.5,461.2 373.8,461.4 376.3,462.2 378.8,462.9 381.3,463.4 383.8,463.4 386.3,463.4 388.8,463.4 391.3,463.4 393.8,463.4 396.3,463.4 398.8,463.4 401.3,463.4 403.8,463.3 406.3,462.6 408.8,461.9 411.3,461.2 413.5,460.6 413.8,460.7 416.3,461.5 418.8,462.3 421.3,462.9 423.8,462.7 426.3,462.2 427.5,462.0 428.8,462.2 431.3,462.7 433.8,463.1 436.3,463.4 438.8,463.4 441.3,463.4 443.8,463.4 446.3,463.4 448.8,463.4 451.3,463.4 453.8,463.4 456.3,463.4 458.8,463.4 461.3,463.4 463.8,463.4 466.3,463.4 468.8,463.4 471.3,463.4 473.8,463.4 476.3,463.0 478.8,462.7 481.3,462.4 482.5,462.2 483.8,462.4 486.3,462.7 488.8,463.0 491.3,463.4 493.8,463.4 496.3,463.4 498.8,463.4 501.3,463.4 503.8,463.4 506.3,463.0 508.8,462.6 511.3,462.1 513.8,461.7 514.2,461.6 516.3,462.0 518.8,462.4 521.3,462.9 523.8,463.3 526.3,463.4 528.8,463.4 531.3,463.4 533.8,463.4 536.3,463.4 538.8,463.4 541.3,463.4 543.8,463.4 546.3,463.4 548.8,463.4 551.3,463.4 553.8,463.4 556.3,463.4 558.8,463.3 561.3,462.9 563.8,462.5 566.3,462.1 568.0,461.8 568.8,461.9 571.3,462.4 573.8,462.8 576.3,463.3 578.8,463.4 581.3,463.4 583.8,463.4 586.3,463.4 588.8,463.1 591.3,462.6 593.8,462.1 596.3,461.7 596.5,461.6 598.8,462.0 601.3,462.5 603.8,462.9 606.3,463.4 608.8,463.4 611.3,463.4 613.8,463.4 616.3,463.1 618.8,462.6 621.3,462.1 623.8,461.6 625.0,461.4 626.3,461.7 628.8,462.2 631.3,462.7 633.8,463.2 636.3,463.4 638.8,463.4 641.3,463.4 643.8,463.4 646.3,463.4 648.8,463.4 651.3,463.4 653.8,463.4 656.3,463.4 658.8,463.4 661.3,463.4 663.8,463.4 666.3,462.8 668.8,461.0 671.3,459.2 673.8,457.3 675.5,456.1 676.3,456.5 678.8,457.8 681.3,458.5 683.8,459.0 686.3,460.8 688.8,462.7 691.3,463.4 693.8,463.4 696.3,463.4 698.8,463.4 701.3,463.4 703.8,463.4 706.3,463.4 708.8,463.4 711.3,463.4 713.8,463.4 716.3,463.4 718.8,463.4 721.3,463.4 723.8,463.4 726.3,463.4 728.8,463.4 731.3,463.4 733.8,463.4 736.3,463.4 738.8,463.4 741.3,463.4 743.4,463.4"/>
<polyline fill="none" stroke="rgb(66,0,0)" stroke-width="1.3" stroke-linejoin="round" points="63.8,472.8 66.3,472.8 68.8,472.8 71.3,472.8 73.8,472.8 76.3,472.8 78.8,472.8 81.3,472.8 83.8,472.8 86.3,472.8 88.8,472.8 91.3,472.8 93.8,472.8 96.3,472.8 98.8,472.8 101.3,472.8 103.8,472.8 106.3,472.8 108.8,472.8 111.3,472.8 113.8,472.8 116.3,472.8 118.8,472.8 121.3,472.8 123.8,472.8 126.3,472.2 128.8,471.5 131.3,470.7 133.8,469.8 134.5,469.5 136.3,469.7 138.8,470.1 141.3,470.5 143.8,471.5 146.3,472.2 148.8,472.6 151.3,471.6 153.8,470.4 156.3,469.2 158.8,468.0 159.4,467.7 161.3,468.7 163.8,469.5 166.3,470.9 168.8,472.8 171.3,472.8 173.8,472.8 176.3,472.8 178.8,472.8 181.3,472.8 183.8,472.8 186.3,472.8 188.8,472.8 191.3,472.8 193.8,472.8 196.3,472.8 198.8,472.8 201.3,472.8 203.8,472.8 206.3,472.8 208.8,472.8 211.3,472.8 213.8,472.8 216.3,472.8 218.8,472.8 221.3,472.8 223.8,472.8 226.3,472.8 228.8,472.8 231.3,472.8 233.8,472.8 236.3,472.8 238.8,472.8 241.3,472.8 243.8,472.8 246.3,472.8 248.8,472.8 251.3,472.8 253.8,472.8 256.3,472.8 258.8,472.8 261.3,472.8 263.8,472.8 266.3,472.8 268.8,472.8 271.3,472.8 273.8,472.8 276.3,472.8 278.8,472.8 281.3,471.8 283.8,469.9 286.3,467.9 288.8,466.0 290.0,465.1 291.3,465.8 293.8,466.9 296.3,467.5 298.8,468.6 301.3,470.6 303.8,472.6 306.3,472.8 308.8,472.8 311.3,472.8 313.8,472.8 316.3,472.8 318.8,472.8 321.3,472.8 323.8,472.8 326.3,472.8 328.8,472.8 331.3,470.7 333.8,468.5 336.3,466.4 338.8,464.3 339.8,463.4 341.3,464.6 343.8,466.5 346.3,468.5 348.8,470.4 351.3,472.4 353.8,472.8 356.3,472.8 358.8,472.8 361.3,472.8 363.8,472.5 366.3,471.8 368.8,471.2 371.3,470.6 371.5,470.5 373.8,471.1 376.3,471.7 378.8,472.4 381.3,472.8 383.8,472.8 386.3,472.8 388.8,472.8 391.3,472.8 393.8,472.8 396.3,472.8 398.8,472.8 401.3,472.8 403.8,472.7 406.3,472.1 408.8,471.4 411.3,470.8 413.5,470.2 413.8,470.3 416.3,471.0 418.8,471.7 421.3,472.3 423.8,472.2 426.3,471.7 427.5,471.5 428.8,471.7 431.3,472.1 433.8,472.5 436.3,472.8 438.8,472.8 441.3,472.8 443.8,472.8 446.3,472.8 448.8,472.8 451.3,472.8 453.8,472.8 456.3,472.8 458.8,472.8 461.3,472.8 463.8,472.8 466.3,472.8 468.8,472.8 471.3,472.8 473.8,472.8 476.3,472.4 478.8,472.1 481.3,471.8 482.5,471.6 483.8,471.8 486.3,472.1 488.8,472.4 491.3,472.8 493.8,472.8 496.3,472.8 498.8,472.8 501.3,472.8 503.8,472.8 506.3,472.4 508.8,472.0 511.3,471.5 513.8,471.1 514.2,471.0 516.3,471.4 518.8,471.8 521.3,472.3 523.8,472.7 526.3,472.8 528.8,472.8 531.3,472.8 533.8,472.8 536.3,472.8 538.8,472.8 541.3,472.8 543.8,472.8 546.3,472.8 548.8,472.8 551.3,472.8 553.8,472.8 556.3,472.8 558.8,472.7 561.3,472.3 563.8,471.9 566.3,471.6 568.0,471.3 568.8,471.5 571.3,471.9 573.8,472.3 576.3,472.7 578.8,472.8 581.3,472.8 583.8,472.8 586.3,472.8 588.8,472.6 591.3,472.1 593.8,471.6 596.3,471.2 596.5,471.2 598.8,471.5 601.3,471.9 603.8,472.4 606.3,472.8 608.8,472.8 611.3,472.8 613.8,472.8 616.3,472.5 618.8,472.7 621.3,472.4 623.8,470.9 625.0,470.3 626.3,470.6 628.8,471.2 631.3,471.9 633.8,472.5 636.3,472.8 638.8,472.8 641.3,472.8 643.8,472.8 646.3,472.8 648.8,472.8 651.3,472.8 653.8,472.8 656.3,472.8 658.8,472.8 661.3,472.8 663.8,472.8 666.3,472.3 668.8,470.8 671.3,469.3 673.8,467.8 675.5,466.8 676.3,467.1 678.8,468.2 681.3,468.7 683.8,469.2 686.3,470.7 688.8,472.3 691.3,472.8 693.8,472.8 696.3,472.8 698.8,472.8 701.3,472.8 703.8,472.8 706.3,472.8 708.8,472.8 711.3,472.8 713.8,472.8 716.3,472.8 718.8,472.8 721.3,472.8 723.8,472.8 726.3,472.8 728.8,472.8 731.3,472.8 733.8,472.8 736.3,472.8 738.8,472.8 741.3,472.8 743.4,472.8"/>
<polyline fill="none" stroke="rgb(58,0,0)" stroke-width="1.3" stroke-linejoin="round" points="63.8,483.8 66.3,483.8 68.8,483.8 71.3,483.8 73.8,483.8 76.3,483.8 78.8,483.8 81.3,483.8 83.8,483.8 86.3,483.8 88.8,483.8 91.3,483.8 93.8,483.8 96.3,483.8 98.8,483.8 101.3,483.8 103.8,483.8 106.3,483.8 108.8,483.8 111.3,483.8 113.8,483.8 116.3,483.8 118.8,483.8 121.3,483.8 123.8,483.8 126.3,483.3 128.8,482.5 131.3,481.8 133.8,481.0 134.5,480.6 136.3,480.9 138.8,481.2 141.3,481.6 143.8,482.5 146.3,483.2 148.8,483.6 151.3,482.6 153.8,481.4 156.3,480.2 158.8,479.0 159.4,478.7 161.3,479.7 163.8,480.5 166.3,481.9 168.8,483.8 171.3,483.8 173.8,483.8 176.3,483.8 178.8,483.8 181.3,483.8 183.8,483.8 186.3,483.8 188.8,483.8 191.3,483.8 193.8,483.8 196.3,483.8 198.8,483.8 201.3,483.8 203.8,483.8 206.3,483.8 208.8,483.8 211.3,483.8 213.8,483.8 216.3,483.8 218.8,483.8 221.3,483.8 223.8,483.8 226.3,483.8 228.8,483.8 231.3,483.8 233.8,483.8 236.3,483.8 238.8,483.8 241.3,483.8 243.8,483.8 246.3,483.8 248.8,483.8 251.3,483.8 253.8,483.8 256.3,483.8 258.8,483.8 261.3,483.8 263.8,483.8 266.3,483.8 268.8,483.8 271.3,483.8 273.8,483.8 276.3,483.8 278.8,483.8 281.3,483.0 283.8,481.4 286.3,479.8 288.8,478.3 290.0,477.5 291.3,478.1 293.8,479.0 296.3,479.5 298.8,480.4 301.3,482.0 303.8,483.7 306.3,483.8 308.8,483.8 311.3,483.8 313.8,483.8 316.3,483.8 318.8,483.8 321.3,483.8 323.8,483.8 326.3,483.8 328.8,483.8 331.3,481.7 333.8,479.5 336.3,477.4 338.8,475.3 339.8,474.4 341.3,475.6 343.8,477.5 346.3,479.5 348.8,481.4 351.3,483.4 353.8,483.8 356.3,483.8 358.8,483.8 361.3,483.8 363.8,483.5 366.3,483.0 368.8,482.5 371.3,482.0 371.5,482.0 373.8,482.4 376.3,482.9 378.8,483.5 381.3,483.8 383.8,483.8 386.3,483.8 388.8,483.8 391.3,483.8 393.8,483.8 396.3,483.8 398.8,483.8 401.3,483.8 403.8,483.7 406.3,483.1 408.8,482.5 411.3,481.9 413.5,481.4 413.8,481.5 416.3,482.1 418.8,482.8 421.3,483.3 423.8,483.2 426.3,482.7 427.5,482.5 428.8,482.7 431.3,483.1 433.8,483.5 436.3,483.8 438.8,483.8 441.3,483.8 443.8,483.8 446.3,483.8 448.8,483.8 451.3,483.8 453.8,483.8 456.3,483.8 458.8,483.8 461.3,483.8 463.8,483.8 466.3,483.8 468.8,483.8 471.3,483.8 473.8,483.8 476.3,483.4 478.8,483.1 481.3,482.8 482.5,482.6 483.8,482.8 486.3,483.1 488.8,483.4 491.3,483.8 493.8,483.8 496.3,483.8 498.8,483.8 501.3,483.8 503.8,483.8 506.3,483.4 508.8,482.9 511.3,482.5 513.8,482.0 514.2,481.9 516.3,482.3 518.8,482.8 521.3,483.3 523.8,483.7 526.3,484.5 528.8,484.6 531.3,483.9 533.8,483.8 536.3,483.8 538.8,483.8 541.3,484.4 543.8,485.4 546.3,484.4 548.8,483.8 551.3,483.8 553.8,483.8 556.3,483.8 558.8,483.7 561.3,483.3 563.8,483.0 566.3,482.6 568.0,482.4 568.8,482.5 571.3,482.9 573.8,483.3 576.3,483.7 578.8,483.8 581.3,483.8 583.8,483.8 586.3,483.8 588.8,483.6 591.3,483.1 593.8,482.7 596.3,482.2 596.5,482.2 598.8,482.6 601.3,483.0 603.8,483.4 606.3,483.8 608.8,483.8 611.3,483.8 613.8,483.8 616.3,483.4 618.8,482.7 621.3,481.9 623.8,481.1 625.0,480.8 626.3,481.2 628.8,481.9 631.3,482.7 633.8,483.4 636.3,483.8 638.8,483.8 641.3,483.8 643.8,483.8 646.3,483.8 648.8,483.8 651.3,483.8 653.8,483.8 656.3,483.8 658.8,483.8 661.3,483.8 663.8,483.8 666.3,483.4 668.8,482.1 671.3,480.8 673.8,479.6 675.5,478.7 676.3,479.0 678.8,479.9 681.3,480.3 683.8,480.7 686.3,482.0 688.8,483.3 691.3,483.8 693.8,483.8 696.3,483.8 698.8,483.8 701.3,483.8 703.8,483.8 706.3,483.8 708.8,483.8 711.3,483.8 713.8,483.8 716.3,483.8 718.8,483.8 721.3,483.8 723.8,483.8 726.3,483.8 728.8,483.8 731.3,483.8 733.8,483.8 736.3,483.8 738.8,483.8 741.3,483.8 743.4,483.8"/>
<polyline fill="none" stroke="rgb(51,0,0)" stroke-width="1.3" stroke-linejoin="round" points="63.8,492.3 66.3,492.3 68.8,492.3 71.3,492.3 73.8,492.3 76.3,492.3 78.8,492.3 81.3,492.3 83.8,492.3 86.3,492.3 88.8,492.3 91.3,492.3 93.8,492.3 96.3,492.3 98.8,492.3 101.3,492.3 103.8,492.3 106.3,492.3 108.8,492.3 111.3,492.3 113.8,492.3 116.3,492.3 118.8,492.3 121.3,492.3 123.8,492.3 126.3,491.8 128.8,491.1 131.3,490.4 133.8,489.6 134.5,489.2 136.3,489.5 138.8,489.8 141.3,490.1 143.8,491.0 146.3,491.7 148.8,492.1 151.3,491.5 153.8,490.7 156.3,489.9 158.8,489.1 159.4,488.9 161.3,489.6 163.8,490.4 166.3,492.0 168.8,492.7 171.3,492.3 173.8,492.3 176.3,492.3 178.8,492.3 181.3,492.3 183.8,492.3 186.3,492.3 188.8,492.3 191.3,492.3 193.8,492.3 196.3,492.3 198.8,492.3 201.3,492.3 203.8,492.3 206.3,492.3 208.8,492.3 211.3,492.3 213.8,492.3 216.3,492.3 218.8,492.3 221.3,492.3 223.8,492.3 226.3,492.3 228.8,492.3 231.3,492.3 233.8,492.3 236.3,492.3 238.8,492.3 241.3,492.3 243.8,492.3 246.3,492.3 248.8,492.3 251.3,492.3 253.8,492.3 256.3,492.3 258.8,492.3 261.3,492.3 263.8,492.3 266.3,492.3 268.8,492.3 271.3,492.3 273.8,492.3 276.3,492.3 278.8,492.3 281.3,491.7 283.8,490.7 286.3,489.6 288.8,488.5 290.0,488.0 291.3,488.4 293.8,489.0 296.3,489.4 298.8,490.0 301.3,491.1 303.8,492.2 306.3,492.3 308.8,492.3 311.3,492.3 313.8,492.3 316.3,492.3 318.8,492.3 321.3,492.3 323.8,492.3 326.3,492.3 328.8,492.3 331.3,490.3 333.8,488.3 336.3,486.3 338.8,484.3 339.8,483.5 341.3,484.6 343.8,486.4 346.3,488.3 348.8,490.1 351.3,491.9 353.8,492.3 356.3,492.3 358.8,492.3 361.3,492.3 363.8,492.1 366.3,491.7 368.8,491.3 371.3,490.9 371.5,490.8 373.8,491.2 376.3,491.6 378.8,492.0 381.3,492.3 383.8,492.3 386.3,492.3 388.8,492.3 391.3,492.3 393.8,492.3 396.3,492.3 398.8,492.3 401.3,492.3 403.8,492.2 406.3,491.7 408.8,491.1 411.3,490.6 413.5,490.1 413.8,490.2 416.3,490.8 418.8,491.4 421.3,491.9 423.8,491.7 426.3,491.2 427.5,491.0 428.8,491.2 431.3,491.6 433.8,492.0 436.3,492.3 438.8,492.3 441.3,492.3 443.8,492.3 446.3,492.3 448.8,492.3 451.3,492.3 453.8,492.3 456.3,492.3 458.8,492.3 461.3,492.3 463.8,492.3 466.3,492.3 468.8,492.3 471.3,492.3 473.8,492.3 476.3,491.9 478.8,491.6 481.3,491.3 482.5,491.1 483.8,491.3 486.3,491.6 488.8,491.9 491.3,492.3 493.8,492.3 496.3,492.3 498.8,492.3 501.3,492.3 503.8,492.3 506.3,491.9 508.8,491.4 511.3,490.9 513.8,490.4 514.2,490.3 516.3,490.7 518.8,491.2 521.3,491.7 523.8,492.2 526.3,492.3 528.8,492.3 531.3,492.3 533.8,492.3 536.3,492.3 538.8,492.3 541.3,492.3 543.8,492.3 546.3,492.3 548.8,492.3 551.3,492.3 553.8,492.3 556.3,492.3 558.8,492.2 561.3,491.8 563.8,491.5 566.3,491.1 568.0,490.9 568.8,491.0 571.3,491.4 573.8,491.8 576.3,492.2 578.8,492.3 581.3,492.3 583.8,492.3 586.3,492.3 588.8,492.1 591.3,491.6 593.8,491.1 596.3,490.7 596.5,490.7 598.8,491.0 601.3,491.4 603.8,491.9 606.3,492.3 608.8,492.3 611.3,492.3 613.8,492.3 616.3,491.8 618.8,491.0 621.3,490.1 623.8,489.2 625.0,488.8 626.3,489.3 628.8,490.1 631.3,491.0 633.8,491.9 636.3,492.3 638.8,492.3 641.3,492.3 643.8,492.3 646.3,492.3 648.8,492.3 651.3,492.3 653.8,492.3 656.3,492.3 658.8,492.3 661.3,492.3 663.8,492.3 666.3,491.9 668.8,490.8 671.3,489.6 673.8,488.5 675.5,487.7 676.3,488.0 678.8,488.8 681.3,489.2 683.8,489.5 686.3,490.7 688.8,491.9 691.3,492.3 693.8,492.3 696.3,492.3 698.8,492.3 701.3,492.3 703.8,492.3 706.3,492.3 708.8,492.3 711.3,492.3 713.8,492.3 716.3,492.3 718.8,492.3 721.3,492.3 723.8,492.3 726.3,492.3 728.8,492.3 731.3,492.3 733.8,492.3 736.3,492.3 738.8,492.3 741.3,492.3 743.4,492.3"/>
<polyline fill="none" stroke="rgb(44,0,0)" stroke-width="1.3" stroke-linejoin="round" points="63.8,500.3 66.3,500.3 68.8,500.3 71.3,500.3 73.8,500.3 76.3,500.3 78.8,500.3 81.3,500.3 83.8,500.3 86.3,500.3 88.8,500.3 91.3,500.3 93.8,500.3 96.3,500.3 98.8,500.3 101.3,500.3 103.8,500.3 106.3,500.3 108.8,500.3 111.3,500.3 113.8,500.3 116.3,500.3 118.8,500.3 121.3,500.3 123.8,500.3 126.3,499.8 128.8,499.1 131.3,498.4 133.8,497.6 134.5,497.3 136.3,497.5 138.8,497.8 141.3,498.1 143.8,499.0 146.3,499.7 148.8,500.1 151.3,499.6 153.8,498.9 156.3,498.3 158.8,497.6 159.4,497.4 161.3,498.0 163.8,498.4 166.3,499.2 168.8,500.3 171.3,500.3 173.8,500.3 176.3,500.3 178.8,500.3 181.3,500.3 183.8,500.3 186.3,500.3 188.8,500.3 191.3,500.3 193.8,500.3 196.3,500.3 198.8,500.3 201.3,500.3 203.8,500.3 206.3,500.3 208.8,500.3 211.3,500.3 213.8,500.3 216.3,500.3 218.8,500.3 221.3,500.3 223.8,500.3 226.3,500.3 228.8,500.3 231.3,500.3 233.8,500.3 236.3,500.3 238.8,500.3 241.3,500.3 243.8,500.3 246.3,500.3 248.8,500.3 251.3,500.3 253.8,500.3 256.3,500.3 258.8,500.3 261.3,500.3 263.8,500.3 266.3,500.3 268.8,500.3 271.3,500.3 273.8,500.3 276.3,500.3 278.8,500.3 281.3,499.9 283.8,499.2 286.3,498.5 288.8,497.7 290.0,497.4 291.3,497.7 293.8,498.1 296.3,498.3 298.8,498.7 301.3,499.5 303.8,500.2 306.3,500.3 308.8,500.3 311.3,500.3 313.8,500.3 316.3,500.3 318.8,500.3 321.3,500.3 323.8,500.3 326.3,500.3 328.8,500.3 331.3,498.5 333.8,496.7 336.3,494.8 338.8,493.0 339.8,492.3 341.3,493.3 343.8,495.0 346.3,496.6 348.8,498.3 351.3,500.0 353.8,500.3 356.3,500.3 358.8,500.3 361.3,500.3 363.8,500.1 366.3,499.8 368.8,499.5 371.3,499.1 371.5,499.1 373.8,499.4 376.3,499.7 378.8,500.1 381.3,500.3 383.8,500.3 386.3,500.3 388.8,500.3 391.3,500.3 393.8,500.3 396.3,500.3 398.8,500.3 401.3,500.3 403.8,500.2 406.3,499.7 408.8,499.2 411.3,498.7 413.5,498.3 413.8,498.4 416.3,498.9 418.8,499.5 421.3,499.9 423.8,499.6 426.3,499.1 427.5,498.9 428.8,499.1 431.3,499.6 433.8,500.0 436.3,500.3 438.8,500.3 441.3,500.3 443.8,500.3 446.3,500.3 448.8,500.3 451.3,500.3 453.8,500.3 456.3,500.3 458.8,500.3 461.3,500.3 463.8,500.3 466.3,500.3 468.8,500.3 471.3,500.3 473.8,500.3 476.3,499.9 478.8,499.6 481.3,499.3 482.5,499.1 483.8,499.3 486.3,499.6 488.8,499.9 491.3,500.3 493.8,500.3 496.3,500.3 498.8,500.3 501.3,500.3 503.8,500.3 506.3,499.9 508.8,499.6 511.3,499.6 513.8,498.6 514.2,498.4 516.3,498.6 518.8,499.1 521.3,499.7 523.8,500.2 526.3,500.3 528.8,500.3 531.3,500.3 533.8,500.3 536.3,500.3 538.8,500.3 541.3,500.3 543.8,500.3 546.3,500.3 548.8,500.3 551.3,500.3 553.8,500.3 556.3,500.3 558.8,500.2 561.3,499.8 563.8,499.4 566.3,499.0 568.0,498.7 568.8,498.9 571.3,499.3 573.8,499.7 576.3,500.2 578.8,500.3 581.3,500.3 583.8,500.3 586.3,500.3 588.8,500.0 591.3,499.5 593.8,499.0 596.3,498.6 596.5,498.5 598.8,498.9 601.3,499.4 603.8,499.8 606.3,500.3 608.8,500.3 611.3,500.3 613.8,500.3 616.3,499.8 618.8,498.9 621.3,497.9 623.8,497.0 625.0,496.5 626.3,497.0 628.8,497.9 631.3,498.9 633.8,499.8 636.3,500.3 638.8,500.3 641.3,500.3 643.8,500.3 646.3,500.3 648.8,500.3 651.3,500.3 653.8,500.3 656.3,500.3 658.8,500.3 661.3,500.3 663.8,500.3 666.3,500.2 668.8,499.7 671.3,499.3 673.8,498.9 675.5,498.6 676.3,498.7 678.8,499.0 681.3,499.1 683.8,499.3 686.3,499.7 688.8,500.1 691.3,500.3 693.8,500.3 696.3,500.3 698.8,500.3 701.3,500.3 703.8,500.3 706.3,500.3 708.8,500.3 711.3,500.3 713.8,500.3 716.3,500.3 718.8,500.3 721.3,500.3 723.8,500.3 726.3,500.3 728.8,500.3 731.3,500.3 733.8,500.3 736.3,500.3 738.8,500.3 741.3,500.3 743.4,500.3"/>
<polyline fill="none" stroke="rgb(36,0,0)" stroke-width="1.3" stroke-linejoin="round" points="63.8,508.2 66.3,508.2 68.8,508.2 71.3,508.2 73.8,508.2 76.3,508.2 78.8,508.2 81.3,508.2 83.8,508.2 86.3,508.2 88.8,508.2 91.3,508.2 93.8,508.2 96.3,508.2 98.8,508.2 101.3,508.2 103.8,508.2 106.3,508.2 108.8,508.2 111.3,508.2 113.8,508.2 116.3,508.2 118.8,508.2 121.3,508.2 123.8,508.2 126.3,507.7 128.8,507.0 131.3,506.2 133.8,505.4 134.5,505.1 136.3,505.3 138.8,505.7 141.3,506.0 143.8,506.9 146.3,507.6 148.8,508.0 151.3,507.1 153.8,506.0 156.3,504.8 158.8,503.7 159.4,503.4 161.3,504.4 163.8,505.1 166.3,506.4 168.8,508.2 171.3,508.2 173.8,508.2 176.3,508.2 178.8,508.2 181.3,508.2 183.8,508.2 186.3,508.2 188.8,508.2 191.3,508.2 193.8,508.2 196.3,508.2 198.8,508.2 201.3,508.2 203.8,508.2 206.3,508.2 208.8,508.2 211.3,508.2 213.8,508.2 216.3,508.2 218.8,508.2 221.3,508.2 223.8,508.2 226.3,508.2 228.8,508.2 231.3,508.2 233.8,508.2 236.3,508.2 238.8,508.3 241.3,508.8 243.8,508.7 246.3,508.2 248.8,508.2 251.3,508.2 253.8,508.2 256.3,508.2 258.8,508.2 261.3,508.2 263.8,508.2 266.3,508.2 268.8,508.2 271.3,508.2 273.8,508.2 276.3,508.2 278.8,508.2 281.3,507.8 283.8,506.9 286.3,506.1 288.8,505.2 290.0,504.8 291.3,505.1 293.8,505.6 296.3,505.9 298.8,506.3 301.3,507.2 303.8,508.1 306.3,508.2 308.8,508.2 311.3,508.2 313.8,508.2 316.3,508.2 318.8,508.2 321.3,508.2 323.8,508.2 326.3,508.2 328.8,508.2 331.3,506.7 333.8,505.1 336.3,503.6 338.8,502.0 339.8,501.4 341.3,502.2 343.8,503.7 346.3,505.1 348.8,506.5 351.3,507.9 353.8,508.2 356.3,508.2 358.8,508.2 361.3,508.2 363.8,508.1 366.3,507.8 368.8,507.5 371.3,507.2 371.5,507.2 373.8,507.4 376.3,507.7 378.8,508.0 381.3,508.2 383.8,508.2 386.3,508.2 388.8,508.2 391.3,508.2 393.8,508.2 396.3,508.2 398.8,508.2 401.3,508.2 403.8,508.1 406.3,507.7 408.8,507.2 411.3,506.7 413.5,506.3 413.8,506.4 416.3,506.9 418.8,507.4 421.3,507.8 423.8,507.5 426.3,506.9 427.5,506.6 428.8,506.9 431.3,507.4 433.8,507.9 436.3,508.2 438.8,508.2 441.3,508.2 443.8,508.2 446.3,508.2 448.8,508.2 451.3,508.2 453.8,508.2 456.3,508.2 458.8,508.2 461.3,508.2 463.8,508.2 466.3,508.2 468.8,508.2 471.3,508.2 473.8,508.2 476.3,507.8 478.8,507.5 481.3,507.2 482.5,507.0 483.8,507.2 486.3,507.5 488.8,507.8 491.3,508.2 493.8,508.2 496.3,508.2 498.8,508.2 501.3,508.2 503.8,508.2 506.3,507.7 508.8,507.1 511.3,506.5 513.8,506.0 514.2,505.9 516.3,506.3 518.8,506.9 521.3,507.5 523.8,508.1 526.3,508.2 528.8,508.2 531.3,508.2 533.8,508.2 536.3,508.2 538.8,508.2 541.3,508.2 543.8,508.2 546.3,508.2 548.8,508.2 551.3,508.2 553.8,508.2 556.3,508.2 558.8,508.1 561.3,507.6 563.8,507.2 566.3,506.7 568.0,506.4 568.8,506.6 571.3,507.1 573.8,507.6 576.3,508.1 578.8,508.2 581.3,508.2 583.8,508.2 586.3,508.2 588.8,507.9 591.3,507.4 593.8,506.8 596.3,506.2 596.5,506.2 598.8,506.7 601.3,507.2 603.8,507.7 606.3,508.2 608.8,508.2 611.3,508.2 613.8,508.2 616.3,507.7 618.8,506.7 621.3,505.7 623.8,504.7 625.0,504.2 626.3,504.7 628.8,505.7 631.3,506.7 633.8,507.7 636.3,508.2 638.8,508.2 641.3,508.2 643.8,508.2 646.3,508.2 648.8,508.2 651.3,508.2 653.8,508.2 656.3,508.2 658.8,508.2 661.3,508.2 663.8,508.2 666.3,508.1 668.8,507.6 671.3,507.2 673.8,506.8 675.5,506.5 676.3,506.6 678.8,506.9 681.3,507.0 683.8,507.2 686.3,507.6 688.8,508.0 691.3,508.2 693.8,508.2 696.3,508.2 698.8,508.2 701.3,508.2 703.8,508.2 706.3,508.2 708.8,508.2 711.3,508.2 713.8,508.2 716.3,508.2 718.8,508.2 721.3,508.2 723.8,508.2 726.3,508.2 728.8,508.2 731.3,508.2 733.8,508.2 736.3,508.2 738.8,508.2 741.3,508.2 743.4,508.2"/>
<polyline fill="none" stroke="rgb(29,0,0)" stroke-width="1.3" stroke-linejoin="round" points="63.8,515.3 66.3,515.3 68.8,515.3 71.3,515.3 73.8,515.3 76.3,515.3 78.8,515.3 81.3,515.3 83.8,515.3 86.3,515.3 88.8,515.3 91.3,515.3 93.8,515.3 96.3,515.3 98.8,515.3 101.3,515.3 103.8,515.3 106.3,515.3 108.8,515.3 111.3,515.3 113.8,515.3 116.3,515.3 118.8,515.3 121.3,515.3 123.8,515.3 126.3,514.7 128.8,514.0 131.3,513.2 133.8,512.3 134.5,512.0 136.3,512.3 138.8,512.7 141.3,513.0 143.8,514.0 146.3,514.7 148.8,515.1 151.3,513.7 153.8,512.0 156.3,510.3 158.8,508.6 159.4,508.2 161.3,509.7 163.8,510.7 166.3,512.7 168.8,515.3 171.3,515.3 173.8,515.3 176.3,515.3 178.8,515.3 181.3,515.3 183.8,515.3 186.3,515.3 188.8,515.3 191.3,515.3 193.8,515.3 196.3,515.3 198.8,515.3 201.3,515.3 203.8,515.3 206.3,515.3 208.8,515.3 211.3,515.3 213.8,515.3 216.3,515.3 218.8,515.3 221.3,515.3 223.8,515.3 226.3,515.3 228.8,515.3 231.3,515.3 233.8,515.3 236.3,515.3 238.8,515.3 241.3,515.3 243.8,515.3 246.3,515.3 248.8,515.3 251.3,515.3 253.8,515.3 256.3,515.3 258.8,515.3 261.3,515.3 263.8,515.3 266.3,515.3 268.8,515.3 271.3,515.3 273.8,515.3 276.3,515.3 278.8,515.9 281.3,515.6 283.8,514.4 286.3,513.7 288.8,513.0 290.0,512.7 291.3,512.9 293.8,513.3 296.3,513.5 298.8,513.9 301.3,514.6 303.8,515.2 306.3,515.3 308.8,515.3 311.3,515.3 313.8,515.3 316.3,515.3 318.8,515.3 321.3,515.3 323.8,515.3 326.3,515.3 328.8,515.3 331.3,513.9 333.8,512.6 336.3,511.2 338.8,509.8 339.8,509.3 341.3,510.0 343.8,511.3 346.3,512.5 348.8,513.8 351.3,515.0 353.8,515.3 356.3,515.3 358.8,515.3 361.3,515.3 363.8,515.2 366.3,514.9 368.8,514.6 371.3,514.3 371.5,514.3 373.8,514.5 376.3,514.8 378.8,515.1 381.3,515.3 383.8,515.3 386.3,515.3 388.8,515.3 391.3,515.3 393.8,515.3 396.3,515.3 398.8,515.3 401.3,515.3 403.8,515.2 406.3,514.8 408.8,514.3 411.3,513.9 413.5,513.5 413.8,513.6 416.3,514.1 418.8,514.6 421.3,514.9 423.8,514.7 426.3,514.9 427.5,514.7 428.8,514.6 431.3,514.4 433.8,514.9 436.3,515.3 438.8,515.3 441.3,515.3 443.8,515.3 446.3,515.3 448.8,515.3 451.3,515.3 453.8,515.3 456.3,515.3 458.8,515.3 461.3,515.3 463.8,515.3 466.3,515.3 468.8,515.3 471.3,515.3 473.8,515.3 476.3,514.9 478.8,514.6 481.3,514.3 482.5,514.1 483.8,514.3 486.3,514.6 488.8,514.9 491.3,515.3 493.8,515.3 496.3,515.3 498.8,515.3 501.3,515.3 503.8,515.3 506.3,514.8 508.8,514.1 511.3,513.5 513.8,512.9 514.2,512.7 516.3,513.3 518.8,513.9 521.3,514.6 523.8,515.2 526.3,515.3 528.8,515.3 531.3,515.3 533.8,515.3 536.3,515.3 538.8,515.3 541.3,515.3 543.8,515.3 546.3,515.3 548.8,515.3 551.3,515.3 553.8,515.3 556.3,515.3 558.8,515.1 561.3,514.6 563.8,514.1 566.3,513.6 568.0,513.3 568.8,513.5 571.3,514.0 573.8,514.6 576.3,515.1 578.8,515.3 581.3,515.3 583.8,515.3 586.3,515.3 588.8,515.0 591.3,514.3 593.8,513.7 596.3,513.1 596.5,513.0 598.8,513.6 601.3,514.1 603.8,514.7 606.3,515.3 608.8,515.3 611.3,515.3 613.8,515.3 616.3,514.8 618.8,513.8 621.3,512.8 623.8,511.8 625.0,511.3 626.3,511.8 628.8,512.8 631.3,513.8 633.8,514.8 636.3,515.3 638.8,515.3 641.3,515.3 643.8,515.3 646.3,516.3 648.8,516.4 651.3,515.5 653.8,515.3 656.3,515.3 658.8,515.3 661.3,515.3 663.8,515.3 666.3,515.3 668.8,515.1 671.3,515.0 673.8,514.9 675.5,514.8 676.3,514.8 678.8,514.9 681.3,515.0 683.8,515.0 686.3,515.1 688.8,515.3 691.3,515.3 693.8,515.3 696.3,515.3 698.8,515.3 701.3,515.3 703.8,515.3 706.3,515.3 708.8,515.3 711.3,515.3 713.8,515.3 716.3,515.3 718.8,515.3 721.3,515.3 723.8,515.3 726.3,515.3 728.8,515.3 731.3,515.3 733.8,515.3 736.3,515.3 738.8,515.3 741.3,515.3 743.4,515.3"/>
<polyline fill="none" stroke="rgb(22,0,0)" stroke-width="1.3" stroke-linejoin="round" points="63.8,526.4 66.3,526.4 68.8,526.4 71.3,526.4 73.8,526.4 76.3,526.4 78.8,526.4 81.3,526.4 83.8,526.4 86.3,526.4 88.8,526.4 91.3,526.4 93.8,526.4 96.3,526.4 98.8,526.4 101.3,526.4 103.8,526.4 106.3,526.4 108.8,526.4 111.3,526.4 113.8,526.4 116.3,526.4 118.8,526.4 121.3,526.4 123.8,526.4 126.3,525.8 128.8,525.0 131.3,524.2 133.8,523.2 134.5,522.9 136.3,523.2 138.8,523.6 141.3,524.1 143.8,525.1 146.3,525.8 148.8,526.2 151.3,523.9 153.8,521.2 156.3,518.6 158.8,515.9 159.4,515.3 161.3,517.6 163.8,519.2 166.3,522.3 168.8,526.4 171.3,526.4 173.8,526.4 176.3,526.4 178.8,526.4 181.3,526.4 183.8,526.4 186.3,526.4 188.8,526.4 191.3,526.4 193.8,526.4 196.3,526.4 198.8,526.4 201.3,526.4 203.8,526.4 206.3,526.4 208.8,526.4 211.3,526.4 213.8,526.4 216.3,526.4 218.8,526.4 221.3,526.4 223.8,526.4 226.3,526.4 228.8,526.4 231.3,526.4 233.8,526.4 236.3,526.4 238.8,526.4 241.3,526.4 243.8,526.4 246.3,526.4 248.8,526.4 251.3,526.4 253.8,526.4 256.3,526.4 258.8,526.4 261.3,526.4 263.8,526.4 266.3,526.4 268.8,526.4 271.3,526.4 273.8,526.4 276.3,526.4 278.8,526.4 281.3,526.0 283.8,525.1 286.3,524.3 288.8,523.4 290.0,523.0 291.3,523.3 293.8,523.8 296.3,524.1 298.8,524.5 301.3,525.4 303.8,526.3 306.3,526.4 308.8,526.4 311.3,526.4 313.8,526.4 316.3,526.4 318.8,526.4 321.3,526.4 323.8,526.4 326.3,526.4 328.8,526.4 331.3,525.4 333.8,524.3 336.3,523.3 338.8,522.2 339.8,521.8 341.3,522.4 343.8,523.3 346.3,524.3 348.8,525.2 351.3,526.2 353.8,526.4 356.3,526.4 358.8,526.4 361.3,526.4 363.8,526.2 366.3,525.9 368.8,525.6 371.3,525.3 371.5,525.3 373.8,525.6 376.3,525.9 378.8,526.2 381.3,526.4 383.8,526.4 386.3,526.4 388.8,526.4 391.3,526.4 393.8,526.4 396.3,526.4 398.8,526.4 401.3,526.4 403.8,526.3 406.3,525.9 408.8,525.4 411.3,525.0 413.5,524.6 413.8,524.7 416.3,525.2 418.8,525.7 421.3,525.9 423.8,525.5 426.3,524.8 427.5,524.5 428.8,524.8 431.3,525.4 433.8,526.0 436.3,526.4 438.8,526.4 441.3,526.4 443.8,526.4 446.3,526.4 448.8,526.4 451.3,526.4 453.8,526.4 456.3,526.4 458.8,526.4 461.3,526.4 463.8,526.4 466.3,526.4 468.8,526.4 471.3,526.4 473.8,526.4 476.3,526.0 478.8,525.7 481.3,525.4 482.5,525.2 483.8,525.4 486.3,525.7 488.8,526.0 491.3,526.4 493.8,526.4 496.3,526.4 498.8,526.4 501.3,526.4 503.8,526.4 506.3,525.8 508.8,525.1 511.3,524.5 513.8,523.8 514.2,523.7 516.3,524.2 518.8,524.9 521.3,525.6 523.8,526.3 526.3,526.4 528.8,526.4 531.3,526.4 533.8,526.4 536.3,526.4 538.8,526.4 541.3,526.4 543.8,526.4 546.3,526.4 548.8,526.4 551.3,526.4 553.8,526.4 556.3,526.4 558.8,526.2 561.3,525.6 563.8,525.1 566.3,524.5 568.0,524.1 568.8,524.3 571.3,525.0 573.8,525.6 576.3,526.2 578.8,526.4 581.3,526.4 583.8,526.4 586.3,526.4 588.8,526.0 591.3,525.3 593.8,524.6 596.3,523.9 596.5,523.9 598.8,524.4 601.3,525.1 603.8,525.7 606.3,526.3 608.8,526.4 611.3,526.4 613.8,526.4 616.3,525.9 618.8,525.0 621.3,524.0 623.8,523.1 625.0,522.6 626.3,523.1 628.8,524.0 631.3,525.0 633.8,525.9 636.3,526.4 638.8,526.4 641.3,526.4 643.8,526.4 646.3,526.4 648.8,526.4 651.3,526.4 653.8,526.4 656.3,526.4 658.8,526.4 661.3,526.4 663.8,526.4 666.3,526.2 668.8,525.7 671.3,525.1 673.8,524.6 675.5,524.2 676.3,524.3 678.8,524.7 681.3,524.9 683.8,525.1 686.3,525.6 688.8,526.2 691.3,526.4 693.8,526.4 696.3,526.4 698.8,526.4 701.3,526.4 703.8,526.4 706.3,526.4 708.8,526.4 711.3,526.4 713.8,526.4 716.3,526.4 718.8,526.4 721.3,526.4 723.8,526.4 726.3,526.4 728.8,526.4 731.3,526.4 733.8,526.4 736.3,526.4 738.8,526.4 741.3,526.4 743.4,526.4"/>
<polyline fill="none" stroke="rgb(15,0,0)" stroke-width="1.3" stroke-linejoin="round" points="63.8,537.4 66.3,537.4 68.8,537.4 71.3,537.4 73.8,537.4 76.3,537.4 78.8,537.4 81.3,537.4 83.8,537.4 86.3,537.4 88.8,537.4 91.3,537.4 93.8,537.4 96.3,537.4 98.8,537.4 101.3,537.4 103.8,537.4 106.3,537.4 108.8,537.4 111.3,537.4 113.8,537.4 116.3,537.4 118.8,537.4 121.3,537.4 123.8,537.4 126.3,536.8 128.8,535.9 131.3,535.0 133.8,534.0 134.5,533.6 136.3,534.0 138.8,534.5 141.3,535.0 143.8,536.1 146.3,536.8 148.8,537.2 151.3,534.9 153.8,532.3 156.3,529.6 158.8,527.0 159.4,526.4 161.3,528.6 163.8,530.3 166.3,533.3 168.8,537.4 171.3,537.4 173.8,537.4 176.3,537.4 178.8,537.4 181.3,537.4 183.8,537.4 186.3,537.4 188.8,537.4 191.3,537.4 193.8,537.4 196.3,537.4 198.8,537.4 201.3,537.4 203.8,537.4 206.3,537.4 208.8,537.4 211.3,537.4 213.8,537.4 216.3,537.4 218.8,537.4 221.3,537.4 223.8,537.4 226.3,537.4 228.8,537.4 231.3,537.4 233.8,537.4 236.3,537.4 238.8,537.4 241.3,537.4 243.8,537.4 246.3,537.4 248.8,537.4 251.3,537.4 253.8,537.4 256.3,537.4 258.8,537.4 261.3,537.4 263.8,537.4 266.3,537.4 268.8,537.4 271.3,537.4 273.8,537.4 276.3,537.4 278.8,537.4 281.3,536.8 283.8,535.8 286.3,534.7 288.8,533.6 290.0,533.1 291.3,533.5 293.8,534.1 296.3,534.5 298.8,535.1 301.3,536.2 303.8,537.3 306.3,537.4 308.8,537.4 311.3,537.4 313.8,537.4 316.3,537.4 318.8,537.4 321.3,537.4 323.8,537.4 326.3,537.4 328.8,538.1 331.3,537.4 333.8,535.9 336.3,534.9 338.8,534.0 339.8,533.7 341.3,534.2 343.8,534.9 346.3,535.7 348.8,536.5 351.3,537.2 353.8,537.4 356.3,537.4 358.8,537.4 361.3,537.4 363.8,537.2 366.3,536.8 368.8,536.4 371.3,536.0 371.5,536.0 373.8,536.4 376.3,536.8 378.8,537.1 381.3,537.4 383.8,537.4 386.3,537.4 388.8,537.4 391.3,537.4 393.8,537.4 396.3,537.4 398.8,537.4 401.3,537.4 403.8,537.3 406.3,536.9 408.8,536.4 411.3,535.9 413.5,535.5 413.8,535.6 416.3,536.1 418.8,536.6 421.3,536.9 423.8,536.4 426.3,535.7 427.5,535.4 428.8,535.7 431.3,536.3 433.8,537.0 436.3,537.4 438.8,537.4 441.3,537.4 443.8,537.4 446.3,537.4 448.8,537.4 451.3,537.4 453.8,537.4 456.3,537.4 458.8,537.4 461.3,537.4 463.8,537.4 466.3,537.4 468.8,537.4 471.3,537.4 473.8,537.4 476.3,537.0 478.8,536.7 481.3,536.4 482.5,536.2 483.8,536.4 486.3,536.7 488.8,537.0 491.3,537.4 493.8,537.4 496.3,537.4 498.8,537.4 501.3,537.4 503.8,537.4 506.3,536.8 508.8,536.1 511.3,535.3 513.8,534.6 514.2,534.5 516.3,535.1 518.8,535.8 521.3,536.6 523.8,537.3 526.3,537.4 528.8,537.4 531.3,537.4 533.8,537.4 536.3,537.4 538.8,537.4 541.3,537.4 543.8,537.4 546.3,537.4 548.8,537.4 551.3,537.4 553.8,537.4 556.3,537.4 558.8,537.2 561.3,536.6 563.8,535.9 566.3,535.3 568.0,534.9 568.8,535.1 571.3,535.8 573.8,536.5 576.3,537.2 578.8,537.4 581.3,537.4 583.8,537.4 586.3,537.4 588.8,537.0 591.3,536.2 593.8,535.4 596.3,534.7 596.5,534.6 598.8,535.2 601.3,535.9 603.8,536.6 606.3,537.3 608.8,537.4 611.3,537.4 613.8,537.4 616.3,537.0 618.8,536.1 621.3,535.2 623.8,534.4 625.0,533.9 626.3,534.4 628.8,535.3 631.3,536.1 633.8,537.0 636.3,537.4 638.8,537.4 641.3,537.4 643.8,537.4 646.3,537.4 648.8,537.4 651.3,537.4 653.8,537.4 656.3,538.2 658.8,538.6 661.3,537.7 663.8,537.4 666.3,537.3 668.8,536.8 671.3,536.5 673.8,536.9 675.5,537.0 676.3,536.8 678.8,536.2 681.3,536.2 683.8,536.4 686.3,536.8 688.8,537.2 691.3,537.4 693.8,537.4 696.3,537.4 698.8,537.4 701.3,537.4 703.8,537.4 706.3,537.4 708.8,537.4 711.3,537.4 713.8,537.4 716.3,537.4 718.8,537.4 721.3,537.4 723.8,537.4 726.3,537.4 728.8,537.4 731.3,537.4 733.8,537.4 736.3,537.4 738.8,537.4 741.3,537.4 743.4,537.4"/>
<polyline fill="none" stroke="rgb(7,0,0)" stroke-width="1.3" stroke-linejoin="round" points="63.8,550.7 66.3,550.7 68.8,550.7 71.3,550.7 73.8,550.7 76.3,550.7 78.8,550.7 81.3,550.7 83.8,550.7 86.3,550.7 88.8,550.7 91.3,550.7 93.8,550.7 96.3,550.7 98.8,550.7 101.3,550.7 103.8,550.7 106.3,550.7 108.8,550.7 111.3,550.7 113.8,550.7 116.3,550.7 118.8,550.7 121.3,550.7 123.8,550.7 126.3,550.0 128.8,549.0 131.3,548.1 133.8,547.0 134.5,546.6 136.3,547.0 138.8,547.6 141.3,548.2 143.8,549.3 146.3,550.1 148.8,550.5 151.3,547.9 153.8,544.9 156.3,542.0 158.8,539.0 159.4,538.3 161.3,540.8 163.8,542.7 166.3,546.1 168.8,550.7 171.3,550.7 173.8,550.7 176.3,550.7 178.8,550.7 181.3,550.7 183.8,550.7 186.3,550.7 188.8,550.7 191.3,550.7 193.8,550.7 196.3,550.7 198.8,550.7 201.3,550.7 203.8,550.7 206.3,550.7 208.8,550.7 211.3,550.7 213.8,550.7 216.3,550.7 218.8,550.7 221.3,550.7 223.8,550.7 226.3,550.7 228.8,550.7 231.3,550.7 233.8,550.7 236.3,550.7 238.8,550.7 241.3,550.7 243.8,550.7 246.3,550.7 248.8,550.7 251.3,550.7 253.8,550.7 256.3,550.7 258.8,550.7 261.3,550.7 263.8,550.7 266.3,550.7 268.8,550.7 271.3,550.7 273.8,550.7 276.3,550.7 278.8,550.7 281.3,550.0 283.8,548.6 286.3,547.2 288.8,545.8 290.0,545.1 291.3,545.6 293.8,546.4 296.3,546.9 298.8,547.6 301.3,549.1 303.8,550.6 306.3,550.7 308.8,550.7 311.3,550.7 313.8,550.7 316.3,550.7 318.8,550.7 321.3,550.7 323.8,550.7 326.3,550.7 328.8,550.7 331.3,549.9 333.8,549.2 336.3,548.4 338.8,547.6 339.8,547.3 341.3,547.7 343.8,548.4 346.3,549.1 348.8,549.9 351.3,550.6 353.8,550.7 356.3,550.7 358.8,550.7 361.3,550.7 363.8,550.4 366.3,550.0 368.8,549.5 371.3,549.0 371.5,549.0 373.8,549.4 376.3,549.9 378.8,550.4 381.3,550.7 383.8,550.7 386.3,550.7 388.8,550.7 391.3,550.7 393.8,550.7 396.3,550.7 398.8,550.7 401.3,550.7 403.8,550.6 406.3,550.1 408.8,549.6 411.3,549.1 413.5,548.7 413.8,548.8 416.3,549.3 418.8,549.9 421.3,550.2 423.8,549.7 426.3,548.9 427.5,548.5 428.8,548.9 431.3,549.6 433.8,550.2 436.3,550.7 438.8,550.7 441.3,550.7 443.8,550.7 446.3,550.7 448.8,550.7 451.3,550.7 453.8,550.7 456.3,550.7 458.8,550.7 461.3,550.7 463.8,550.7 466.3,550.7 468.8,550.7 471.3,550.7 473.8,550.7 476.3,550.3 478.8,550.0 481.3,549.7 482.5,549.5 483.8,549.7 486.3,550.0 488.8,550.3 491.3,550.7 493.8,550.7 496.3,550.7 498.8,550.7 501.3,550.7 503.8,550.7 506.3,550.1 508.8,549.3 511.3,548.6 513.8,547.8 514.2,547.7 516.3,548.3 518.8,549.1 521.3,549.8 523.8,550.6 526.3,550.7 528.8,550.7 531.3,550.7 533.8,550.7 536.3,550.7 538.8,550.7 541.3,550.7 543.8,550.7 546.3,550.7 548.8,550.7 551.3,550.7 553.8,550.7 556.3,550.7 558.8,550.5 561.3,549.8 563.8,549.1 566.3,548.4 568.0,547.9 568.8,548.2 571.3,548.9 573.8,549.7 576.3,550.5 578.8,550.7 581.3,550.7 583.8,550.7 586.3,550.7 588.8,550.3 591.3,549.4 593.8,548.6 596.3,547.8 596.5,547.7 598.8,548.4 601.3,549.1 603.8,549.9 606.3,550.6 608.8,550.7 611.3,550.7 613.8,550.7 616.3,550.3 618.8,549.6 621.3,548.8 623.8,548.1 625.0,547.7 626.3,548.1 628.8,548.8 631.3,549.6 633.8,550.3 636.3,550.7 638.8,550.7 641.3,550.7 643.8,550.7 646.3,550.7 648.8,550.7 651.3,550.7 653.8,550.7 656.3,550.7 658.8,550.7 661.3,550.7 663.8,550.7 666.3,550.4 668.8,549.6 671.3,548.7 673.8,547.9 675.5,547.3 676.3,547.5 678.8,548.1 681.3,548.4 683.8,548.7 686.3,549.5 688.8,550.4 691.3,550.7 693.8,550.7 696.3,550.7 698.8,550.7 701.3,550.7 703.8,550.7 706.3,550.7 708.8,550.7 711.3,550.7 713.8,550.7 716.3,550.7 718.8,550.7 721.3,550.7 723.8,550.7 726.3,550.7 728.8,550.7 731.3,550.7 733.8,550.7 736.3,550.7 738.8,550.7 741.3,550.7 743.4,550.7"/>
<polyline fill="none" stroke="rgb(0,0,0)" stroke-width="1.3" stroke-linejoin="round" points="63.8,566.0 66.3,566.0 68.8,566.0 71.3,566.0 73.8,566.0 76.3,566.0 78.8,566.0 81.3,566.0 83.8,566.0 86.3,566.0 88.8,566.0 91.3,566.0 93.8,566.0 96.3,566.0 98.8,566.0 101.3,566.0 103.8,566.0 106.3,566.2 108.8,566.8 111.3,566.5 113.8,566.0 116.3,566.0 118.8,566.0 121.3,566.0 123.8,566.0 126.3,565.3 128.8,564.2 131.3,563.2 133.8,562.1 134.5,561.7 136.3,562.1 138.8,562.8 141.3,563.4 143.8,564.6 146.3,565.4 148.8,565.8 151.3,562.8 153.8,559.4 156.3,556.1 158.8,552.7 159.4,551.9 161.3,554.8 163.8,556.9 166.3,560.8 168.8,566.0 171.3,566.3 173.8,567.0 176.3,566.5 178.8,566.0 181.3,566.0 183.8,566.0 186.3,566.0 188.8,566.0 191.3,566.0 193.8,566.0 196.3,566.0 198.8,566.0 201.3,566.0 203.8,566.0 206.3,566.0 208.8,566.0 211.3,566.0 213.8,566.0 216.3,566.0 218.8,566.0 221.3,566.0 223.8,566.0 226.3,566.0 228.8,566.0 231.3,566.0 233.8,566.0 236.3,566.0 238.8,566.0 241.3,566.0 243.8,566.0 246.3,566.0 248.8,566.0 251.3,566.0 253.8,566.0 256.3,566.0 258.8,566.0 261.3,566.0 263.8,566.0 266.3,566.0 268.8,566.0 271.3,566.0 273.8,566.0 276.3,566.0 278.8,566.0 281.3,564.9 283.8,562.9 286.3,560.8 288.8,558.8 290.0,557.8 291.3,558.6 293.8,559.8 296.3,560.4 298.8,561.5 301.3,563.7 303.8,565.8 306.3,566.0 308.8,566.0 311.3,566.0 313.8,566.0 316.3,566.0 318.8,566.0 321.3,566.0 323.8,566.0 326.3,566.0 328.8,566.0 331.3,565.1 333.8,564.2 336.3,563.3 338.8,562.5 339.8,562.1 341.3,562.6 343.8,563.4 346.3,564.2 348.8,565.0 351.3,565.8 353.8,566.0 356.3,566.0 358.8,566.0 361.3,566.0 363.8,565.7 366.3,565.1 368.8,564.5 371.3,563.9 371.5,563.9 373.8,564.4 376.3,565.0 378.8,565.6 381.3,566.0 383.8,566.0 386.3,566.0 388.8,566.0 391.3,566.0 393.8,566.0 396.3,566.0 398.8,566.0 401.3,566.0 403.8,565.9 406.3,565.4 408.8,564.8 411.3,564.3 413.5,563.8 413.8,563.9 416.3,564.5 418.8,565.1 421.3,565.4 423.8,564.9 426.3,564.1 427.5,563.7 428.8,564.1 431.3,564.8 433.8,565.5 436.3,566.0 438.8,566.0 441.3,566.0 443.8,566.0 446.3,566.0 448.8,566.0 451.3,566.0 453.8,566.0 456.3,566.0 458.8,566.0 461.3,566.0 463.8,566.0 466.3,566.0 468.8,566.0 471.3,566.0 473.8,566.0 476.3,565.6 478.8,565.3 481.3,565.0 482.5,564.8 483.8,565.0 486.3,565.3 488.8,565.6 491.3,566.1 493.8,566.6 496.3,566.5 498.8,566.0 501.3,566.0 503.8,566.0 506.3,565.4 508.8,564.6 511.3,563.9 513.8,563.1 514.2,563.0 516.3,563.6 518.8,564.4 521.3,565.1 523.8,565.9 526.3,566.0 528.8,566.0 531.3,566.0 533.8,566.0 536.3,566.0 538.8,566.0 541.3,566.0 543.8,566.0 546.3,566.0 548.8,566.0 551.3,566.0 553.8,566.0 556.3,566.0 558.8,565.8 561.3,565.0 563.8,564.3 566.3,563.6 568.0,563.1 568.8,563.3 571.3,564.1 573.8,565.0 576.3,565.8 578.8,566.0 581.3,566.0 583.8,566.0 586.3,566.0 588.8,565.5 591.3,564.7 593.8,563.8 596.3,562.9 596.5,562.8 598.8,563.6 601.3,564.4 603.8,565.1 606.3,565.9 608.8,566.0 611.3,566.0 613.8,566.0 616.3,565.7 618.8,565.1 621.3,564.4 623.8,563.8 625.0,563.5 626.3,563.8 628.8,564.5 631.3,565.1 633.8,565.7 636.3,566.0 638.8,566.0 641.3,566.0 643.8,566.0 646.3,566.0 648.8,566.0 651.3,566.0 653.8,566.0 656.3,566.0 658.8,566.0 661.3,566.0 663.8,566.0 666.3,565.6 668.8,564.4 671.3,563.2 673.8,562.0 675.5,561.2 676.3,561.5 678.8,562.3 681.3,562.7 683.8,563.1 686.3,564.3 688.8,565.6 691.3,566.0 693.8,566.0 696.3,566.0 698.8,566.0 701.3,566.0 703.8,566.0 706.3,566.0 708.8,566.0 711.3,566.0 713.8,566.0 716.3,566.0 718.8,566.0 721.3,566.0 723.8,566.0 726.3,566.0 728.8,566.0 731.3,566.0 733.8,566.0 736.3,566.0 738.8,566.0 741.3,566.0 743.4,566.0"/>
<rect x="63.8" y="107.3" width="679.6" height="479.5" fill="none" stroke="#000" stroke-width="1.3"/>
<line x1="63.80" y1="107.3" x2="63.80" y2="116.8" stroke="#000" stroke-width="1.3"/>
<line x1="63.80" y1="586.8" x2="63.80" y2="577.3" stroke="#000" stroke-width="1.3"/>
<line x1="110.95" y1="107.3" x2="110.95" y2="111.8" stroke="#000" stroke-width="1.3"/>
<line x1="110.95" y1="586.8" x2="110.95" y2="582.3" stroke="#000" stroke-width="1.3"/>
<line x1="158.10" y1="107.3" x2="158.10" y2="116.8" stroke="#000" stroke-width="1.3"/>
<line x1="158.10" y1="586.8" x2="158.10" y2="577.3" stroke="#000" stroke-width="1.3"/>
<line x1="205.25" y1="107.3" x2="205.25" y2="111.8" stroke="#000" stroke-width="1.3"/>
<line x1="205.25" y1="586.8" x2="205.25" y2="582.3" stroke="#000" stroke-width="1.3"/>
<line x1="252.40" y1="107.3" x2="252.40" y2="116.8" stroke="#000" stroke-width="1.3"/>
<line x1="252.40" y1="586.8" x2="252.40" y2="577.3" stroke="#000" stroke-width="1.3"/>
<line x1="299.55" y1="107.3" x2="299.55" y2="111.8" stroke="#000" stroke-width="1.3"/>
<line x1="299.55" y1="586.8" x2="299.55" y2="582.3" stroke="#000" stroke-width="1.3"/>
<line x1="346.70" y1="107.3" x2="346.70" y2="116.8" stroke="#000" stroke-width="1.3"/>
<line x1="346.70" y1="586.8" x2="346.70" y2="577.3" stroke="#000" stroke-width="1.3"/>
<line x1="393.85" y1="107.3" x2="393.85" y2="111.8" stroke="#000" stroke-width="1.3"/>
<line x1="393.85" y1="586.8" x2="393.85" y2="582.3" stroke="#000" stroke-width="1.3"/>
<line x1="441.00" y1="107.3" x2="441.00" y2="116.8" stroke="#000" stroke-width="1.3"/>
<line x1="441.00" y1="586.8" x2="441.00" y2="577.3" stroke="#000" stroke-width="1.3"/>
<line x1="488.15" y1="107.3" x2="488.15" y2="111.8" stroke="#000" stroke-width="1.3"/>
<line x1="488.15" y1="586.8" x2="488.15" y2="582.3" stroke="#000" stroke-width="1.3"/>
<line x1="535.30" y1="107.3" x2="535.30" y2="116.8" stroke="#000" stroke-width="1.3"/>
<line x1="535.30" y1="586.8" x2="535.30" y2="577.3" stroke="#000" stroke-width="1.3"/>
<line x1="582.45" y1="107.3" x2="582.45" y2="111.8" stroke="#000" stroke-width="1.3"/>
<line x1="582.45" y1="586.8" x2="582.45" y2="582.3" stroke="#000" stroke-width="1.3"/>
<line x1="629.60" y1="107.3" x2="629.60" y2="116.8" stroke="#000" stroke-width="1.3"/>
<line x1="629.60" y1="586.8" x2="629.60" y2="577.3" stroke="#000" stroke-width="1.3"/>
<line x1="676.75" y1="107.3" x2="676.75" y2="111.8" stroke="#000" stroke-width="1.3"/>
<line x1="676.75" y1="586.8" x2="676.75" y2="582.3" stroke="#000" stroke-width="1.3"/>
<line x1="723.90" y1="107.3" x2="723.90" y2="116.8" stroke="#000" stroke-width="1.3"/>
<line x1="723.90" y1="586.8" x2="723.90" y2="577.3" stroke="#000" stroke-width="1.3"/>
<text transform="translate(35.13,623.40) scale(1.0,1.03)" x="18.35 36.71" y="0" font-size="33" fill="#000">00</text>
<path transform="translate(35.13,623.40) scale(0.01611,-0.01611)" d="M763 0L583 0L583 1147Q518 1085 412 1023Q306 961 222 930L222 1104Q373 1175 486 1276Q599 1377 646 1472L763 1472Z" fill="#000"/>
<text transform="translate(129.47,623.40) scale(1.0,1.03)" x="18.35 36.71" y="0" font-size="33" fill="#000">25</text>
<path transform="translate(129.47,623.40) scale(0.01611,-0.01611)" d="M763 0L583 0L583 1147Q518 1085 412 1023Q306 961 222 930L222 1104Q373 1175 486 1276Q599 1377 646 1472L763 1472Z" fill="#000"/>
<text transform="translate(223.73,623.40) scale(1.0,1.03)" x="18.35 36.71" y="0" font-size="33" fill="#000">50</text>
<path transform="translate(223.73,623.40) scale(0.01611,-0.01611)" d="M763 0L583 0L583 1147Q518 1085 412 1023Q306 961 222 930L222 1104Q373 1175 486 1276Q599 1377 646 1472L763 1472Z" fill="#000"/>
<text transform="translate(318.07,623.40) scale(1.0,1.03)" x="18.35 36.71" y="0" font-size="33" fill="#000">75</text>
<path transform="translate(318.07,623.40) scale(0.01611,-0.01611)" d="M763 0L583 0L583 1147Q518 1085 412 1023Q306 961 222 930L222 1104Q373 1175 486 1276Q599 1377 646 1472L763 1472Z" fill="#000"/>
<text transform="translate(413.29,623.40) scale(1.0,1.03)" x="0.00 18.35 36.71" y="0" font-size="33" fill="#000">200</text>
<text transform="translate(507.63,623.40) scale(1.0,1.03)" x="0.00 18.35 36.71" y="0" font-size="33" fill="#000">225</text>
<text transform="translate(601.89,623.40) scale(1.0,1.03)" x="0.00 18.35 36.71" y="0" font-size="33" fill="#000">250</text>
<text transform="translate(696.23,623.40) scale(1.0,1.03)" x="0.00 18.35 36.71" y="0" font-size="33" fill="#000">275</text>
<text transform="translate(61.69,89.30) scale(1.04,1.0)" x="0.00 18.15 48.46" y="0" font-size="54.5" fill="#000">(a)</text>
<text transform="translate(135.57,97.60) scale(1.0,1.03)" x="18.35 36.71" y="0" font-size="33" fill="#000">25</text>
<path transform="translate(135.57,97.60) scale(0.01611,-0.01611)" d="M763 0L583 0L583 1147Q518 1085 412 1023Q306 961 222 930L222 1104Q373 1175 486 1276Q599 1377 646 1472L763 1472Z" fill="#000"/>
<text transform="translate(267.33,97.60) scale(1.0,1.03)" x="18.35 36.71" y="0" font-size="33" fill="#000">60</text>
<path transform="translate(267.33,97.60) scale(0.01611,-0.01611)" d="M763 0L583 0L583 1147Q518 1085 412 1023Q306 961 222 930L222 1104Q373 1175 486 1276Q599 1377 646 1472L763 1472Z" fill="#000"/>
<text x="233.82 262.71 284.95 318.27 340.52 373.88 393.88 416.12 425.01 436.12 458.35 471.67 491.67" y="683.00" font-size="40" fill="#000">Ramanshift(cm</text>
<text x="524.47" y="662.00" font-size="23" fill="#000">−</text>
<path transform="translate(537.90,662.00) scale(0.01123,-0.01123)" d="M763 0L583 0L583 1147Q518 1085 412 1023Q306 961 222 930L222 1104Q373 1175 486 1276Q599 1377 646 1472L763 1472Z" fill="#000"/>
<text x="560.57" y="683.00" font-size="40" fill="#000">)</text>
<text transform="translate(1077.50,248.20) scale(1.0,1.02)" x="18.91 37.82 66.17 85.08" y="0" font-size="34" font-weight="bold" fill="#ff7f00">60cm</text>
<path transform="translate(1077.50,248.20) scale(0.01660,-0.01660)" d="M831 0L550 0L550 1059Q396 915 187 846L187 1101Q297 1137 426 1237Q555 1337 603 1466L831 1466Z" fill="#ff7f00"/>
<text x="1192.79" y="231.20" font-size="20.5" fill="#ff7f00">−</text>
<path transform="translate(1204.76,231.20) scale(0.01001,-0.01001)" d="M763 0L583 0L583 1147Q518 1085 412 1023Q306 961 222 930L222 1104Q373 1175 486 1276Q599 1377 646 1472L763 1472Z" fill="#ff7f00"/>
<line x1="1168.30" y1="383.80" x2="1391.50" y2="383.80" stroke="#808080" stroke-width="1.1"/>
<line x1="1166.33" y1="372.62" x2="1376.07" y2="296.28" stroke="#808080" stroke-width="1.1"/>
<line x1="1160.65" y1="362.78" x2="1331.63" y2="219.31" stroke="#808080" stroke-width="1.1"/>
<line x1="1151.95" y1="355.48" x2="1263.55" y2="162.18" stroke="#808080" stroke-width="1.1"/>
<line x1="1141.28" y1="351.60" x2="1180.04" y2="131.79" stroke="#808080" stroke-width="1.1"/>
<line x1="1129.92" y1="351.60" x2="1091.16" y2="131.79" stroke="#808080" stroke-width="1.1"/>
<line x1="1119.25" y1="355.48" x2="1007.65" y2="162.18" stroke="#808080" stroke-width="1.1"/>
<line x1="1110.55" y1="362.78" x2="939.57" y2="219.31" stroke="#808080" stroke-width="1.1"/>
<line x1="1104.87" y1="372.62" x2="895.13" y2="296.28" stroke="#808080" stroke-width="1.1"/>
<line x1="1102.90" y1="383.80" x2="879.70" y2="383.80" stroke="#808080" stroke-width="1.1"/>
<line x1="1104.87" y1="394.98" x2="895.13" y2="471.32" stroke="#808080" stroke-width="1.1"/>
<line x1="1110.55" y1="404.82" x2="939.57" y2="548.29" stroke="#808080" stroke-width="1.1"/>
<line x1="1119.25" y1="412.12" x2="1007.65" y2="605.42" stroke="#808080" stroke-width="1.1"/>
<line x1="1129.92" y1="416.00" x2="1091.16" y2="635.81" stroke="#808080" stroke-width="1.1"/>
<line x1="1141.28" y1="416.00" x2="1180.04" y2="635.81" stroke="#808080" stroke-width="1.1"/>
<line x1="1151.95" y1="412.12" x2="1263.55" y2="605.42" stroke="#808080" stroke-width="1.1"/>
<line x1="1160.65" y1="404.82" x2="1331.63" y2="548.29" stroke="#808080" stroke-width="1.1"/>
<line x1="1166.33" y1="394.98" x2="1376.07" y2="471.32" stroke="#808080" stroke-width="1.1"/>
<line x1="1382.00" y1="383.80" x2="1391.50" y2="383.80" stroke="#000" stroke-width="1.4"/>
<line x1="1382.69" y1="340.23" x2="1387.61" y2="339.36" stroke="#000" stroke-width="1.4"/>
<line x1="1367.14" y1="299.53" x2="1376.07" y2="296.28" stroke="#000" stroke-width="1.4"/>
<line x1="1352.89" y1="258.35" x2="1357.22" y2="255.85" stroke="#000" stroke-width="1.4"/>
<line x1="1324.35" y1="225.42" x2="1331.63" y2="219.31" stroke="#000" stroke-width="1.4"/>
<line x1="1296.88" y1="191.60" x2="1300.09" y2="187.77" stroke="#000" stroke-width="1.4"/>
<line x1="1258.80" y1="170.41" x2="1263.55" y2="162.18" stroke="#000" stroke-width="1.4"/>
<line x1="1221.41" y1="148.03" x2="1223.12" y2="143.33" stroke="#000" stroke-width="1.4"/>
<line x1="1178.39" y1="141.14" x2="1180.04" y2="131.79" stroke="#000" stroke-width="1.4"/>
<line x1="1135.60" y1="132.90" x2="1135.60" y2="127.90" stroke="#000" stroke-width="1.4"/>
<line x1="1092.81" y1="141.14" x2="1091.16" y2="131.79" stroke="#000" stroke-width="1.4"/>
<line x1="1049.79" y1="148.03" x2="1048.08" y2="143.33" stroke="#000" stroke-width="1.4"/>
<line x1="1012.40" y1="170.41" x2="1007.65" y2="162.18" stroke="#000" stroke-width="1.4"/>
<line x1="974.32" y1="191.60" x2="971.11" y2="187.77" stroke="#000" stroke-width="1.4"/>
<line x1="946.85" y1="225.42" x2="939.57" y2="219.31" stroke="#000" stroke-width="1.4"/>
<line x1="918.31" y1="258.35" x2="913.98" y2="255.85" stroke="#000" stroke-width="1.4"/>
<line x1="904.06" y1="299.53" x2="895.13" y2="296.28" stroke="#000" stroke-width="1.4"/>
<line x1="888.51" y1="340.23" x2="883.59" y2="339.36" stroke="#000" stroke-width="1.4"/>
<line x1="889.20" y1="383.80" x2="879.70" y2="383.80" stroke="#000" stroke-width="1.4"/>
<line x1="888.51" y1="427.37" x2="883.59" y2="428.24" stroke="#000" stroke-width="1.4"/>
<line x1="904.06" y1="468.07" x2="895.13" y2="471.32" stroke="#000" stroke-width="1.4"/>
<line x1="918.31" y1="509.25" x2="913.98" y2="511.75" stroke="#000" stroke-width="1.4"/>
<line x1="946.85" y1="542.18" x2="939.57" y2="548.29" stroke="#000" stroke-width="1.4"/>
<line x1="974.32" y1="576.00" x2="971.11" y2="579.83" stroke="#000" stroke-width="1.4"/>
<line x1="1012.40" y1="597.19" x2="1007.65" y2="605.42" stroke="#000" stroke-width="1.4"/>
<line x1="1049.79" y1="619.57" x2="1048.08" y2="624.27" stroke="#000" stroke-width="1.4"/>
<line x1="1092.81" y1="626.46" x2="1091.16" y2="635.81" stroke="#000" stroke-width="1.4"/>
<line x1="1135.60" y1="634.70" x2="1135.60" y2="639.70" stroke="#000" stroke-width="1.4"/>
<line x1="1178.39" y1="626.46" x2="1180.04" y2="635.81" stroke="#000" stroke-width="1.4"/>
<line x1="1221.41" y1="619.57" x2="1223.12" y2="624.27" stroke="#000" stroke-width="1.4"/>
<line x1="1258.80" y1="597.19" x2="1263.55" y2="605.42" stroke="#000" stroke-width="1.4"/>
<line x1="1296.88" y1="576.00" x2="1300.09" y2="579.83" stroke="#000" stroke-width="1.4"/>
<line x1="1324.35" y1="542.18" x2="1331.63" y2="548.29" stroke="#000" stroke-width="1.4"/>
<line x1="1352.89" y1="509.25" x2="1357.22" y2="511.75" stroke="#000" stroke-width="1.4"/>
<line x1="1367.14" y1="468.07" x2="1376.07" y2="471.32" stroke="#000" stroke-width="1.4"/>
<line x1="1382.69" y1="427.37" x2="1387.61" y2="428.24" stroke="#000" stroke-width="1.4"/>
<polygon points="1391.50,361.41 1383.72,317.32 1368.41,275.24 1346.02,236.46 1317.24,202.16 1282.94,173.38 1244.16,150.99 1202.08,135.68 1157.99,127.90 1113.21,127.90 1069.12,135.68 1027.04,150.99 988.26,173.38 953.96,202.16 925.18,236.46 902.79,275.24 887.48,317.32 879.70,361.41 879.70,406.19 887.48,450.28 902.79,492.36 925.18,531.14 953.96,565.44 988.26,594.22 1027.04,616.61 1069.12,631.92 1113.21,639.70 1157.99,639.70 1202.08,631.92 1244.16,616.61 1282.94,594.22 1317.24,565.44 1346.02,531.14 1368.41,492.36 1383.72,450.28 1391.50,406.19" fill="none" stroke="#000" stroke-width="1.5" stroke-linejoin="round"/>
<text transform="translate(1402.42,395.60) scale(1.0,1.03)" x="0.00" y="0" font-size="33" fill="#000">0</text>
<text transform="translate(1386.46,303.40) scale(1.0,1.03)" x="0.00 18.35" y="0" font-size="33" fill="#000">20</text>
<text transform="translate(1340.61,205.40) scale(1.0,1.03)" x="0.00 18.35" y="0" font-size="33" fill="#000">40</text>
<text transform="translate(1269.35,145.00) scale(1.0,1.03)" x="0.00 18.35" y="0" font-size="33" fill="#000">60</text>
<text transform="translate(1162.97,114.30) scale(1.0,1.03)" x="0.00 18.35" y="0" font-size="33" fill="#000">80</text>
<text transform="translate(1060.73,114.30) scale(1.0,1.03)" x="18.35 36.71" y="0" font-size="33" fill="#000">00</text>
<path transform="translate(1060.73,114.30) scale(0.01611,-0.01611)" d="M763 0L583 0L583 1147Q518 1085 412 1023Q306 961 222 930L222 1104Q373 1175 486 1276Q599 1377 646 1472L763 1472Z" fill="#000"/>
<text transform="translate(945.33,144.80) scale(1.0,1.03)" x="18.35 36.71" y="0" font-size="33" fill="#000">20</text>
<path transform="translate(945.33,144.80) scale(0.01611,-0.01611)" d="M763 0L583 0L583 1147Q518 1085 412 1023Q306 961 222 930L222 1104Q373 1175 486 1276Q599 1377 646 1472L763 1472Z" fill="#000"/>
<text transform="translate(873.73,205.40) scale(1.0,1.03)" x="18.35 36.71" y="0" font-size="33" fill="#000">40</text>
<path transform="translate(873.73,205.40) scale(0.01611,-0.01611)" d="M763 0L583 0L583 1147Q518 1085 412 1023Q306 961 222 930L222 1104Q373 1175 486 1276Q599 1377 646 1472L763 1472Z" fill="#000"/>
<text transform="translate(826.73,304.10) scale(1.0,1.03)" x="18.35 36.71" y="0" font-size="33" fill="#000">60</text>
<path transform="translate(826.73,304.10) scale(0.01611,-0.01611)" d="M763 0L583 0L583 1147Q518 1085 412 1023Q306 961 222 930L222 1104Q373 1175 486 1276Q599 1377 646 1472L763 1472Z" fill="#000"/>
<text transform="translate(811.43,395.60) scale(1.0,1.03)" x="18.35 36.71" y="0" font-size="33" fill="#000">80</text>
<path transform="translate(811.43,395.60) scale(0.01611,-0.01611)" d="M763 0L583 0L583 1147Q518 1085 412 1023Q306 961 222 930L222 1104Q373 1175 486 1276Q599 1377 646 1472L763 1472Z" fill="#000"/>
<text transform="translate(827.09,486.50) scale(1.0,1.03)" x="0.00 18.35 36.71" y="0" font-size="33" fill="#000">200</text>
<text transform="translate(874.09,585.40) scale(1.0,1.03)" x="0.00 18.35 36.71" y="0" font-size="33" fill="#000">220</text>
<text transform="translate(945.09,645.20) scale(1.0,1.03)" x="0.00 18.35 36.71" y="0" font-size="33" fill="#000">240</text>
<text transform="translate(1060.79,677.60) scale(1.0,1.03)" x="0.00 18.35 36.71" y="0" font-size="33" fill="#000">260</text>
<text transform="translate(1153.59,677.60) scale(1.0,1.03)" x="0.00 18.35 36.71" y="0" font-size="33" fill="#000">280</text>
<text transform="translate(1269.39,645.20) scale(1.0,1.03)" x="0.00 18.35 36.71" y="0" font-size="33" fill="#000">300</text>
<text transform="translate(1340.69,585.40) scale(1.0,1.03)" x="0.00 18.35 36.71" y="0" font-size="33" fill="#000">320</text>
<text transform="translate(1387.09,486.70) scale(1.0,1.03)" x="0.00 18.35 36.71" y="0" font-size="33" fill="#000">340</text>
<line x1="887.9" y1="288.5" x2="1382.5" y2="466.6" stroke="#0000ff" stroke-width="1.4" stroke-dasharray="8.7 9.4"/>
<line x1="972.4" y1="168.2" x2="1297.1" y2="581.8" stroke="#ff7f00" stroke-width="1.4" stroke-dasharray="8 9.5"/>
<polyline fill="none" stroke="#0000ff" stroke-width="2.6" stroke-linejoin="round" points="1308.9,383.5 1294.0,355.1 1264.0,336.0 1239.9,322.2 1206.3,323.7 1176.5,333.2 1163.3,334.6 1149.8,340.7 1143.5,337.4 1135.1,320.6 1121.9,310.0 1096.7,277.4 1063.3,260.4 1031.5,258.9 982.6,255.9 961.1,282.6 927.5,307.3 933.5,347.6 944.0,383.6 967.6,412.6 1001.0,431.4 1036.6,439.5 1063.6,443.0 1095.6,430.0 1106.6,430.9 1120.0,436.8 1124.5,443.7 1135.3,476.0 1155.5,498.9 1185.3,520.8 1223.5,537.4 1252.7,522.6 1302.1,522.6 1337.6,500.1 1351.6,461.6 1297.5,411.9 1308.9,383.5"/>
<circle cx="1308.9" cy="383.5" r="4.7" fill="#0000ff"/>
<circle cx="1294.0" cy="355.1" r="4.7" fill="#0000ff"/>
<circle cx="1264.0" cy="336.0" r="4.7" fill="#0000ff"/>
<circle cx="1239.9" cy="322.2" r="4.7" fill="#0000ff"/>
<circle cx="1206.3" cy="323.7" r="4.7" fill="#0000ff"/>
<circle cx="1176.5" cy="333.2" r="4.7" fill="#0000ff"/>
<circle cx="1163.3" cy="334.6" r="4.7" fill="#0000ff"/>
<circle cx="1149.8" cy="340.7" r="4.7" fill="#0000ff"/>
<circle cx="1143.5" cy="337.4" r="4.7" fill="#0000ff"/>
<circle cx="1135.1" cy="320.6" r="4.7" fill="#0000ff"/>
<circle cx="1121.9" cy="310.0" r="4.7" fill="#0000ff"/>
<circle cx="1096.7" cy="277.4" r="4.7" fill="#0000ff"/>
<circle cx="1063.3" cy="260.4" r="4.7" fill="#0000ff"/>
<circle cx="1031.5" cy="258.9" r="4.7" fill="#0000ff"/>
<circle cx="982.6" cy="255.9" r="4.7" fill="#0000ff"/>
<circle cx="961.1" cy="282.6" r="4.7" fill="#0000ff"/>
<circle cx="927.5" cy="307.3" r="4.7" fill="#0000ff"/>
<circle cx="933.5" cy="347.6" r="4.7" fill="#0000ff"/>
<circle cx="944.0" cy="383.6" r="4.7" fill="#0000ff"/>
<circle cx="967.6" cy="412.6" r="4.7" fill="#0000ff"/>
<circle cx="1001.0" cy="431.4" r="4.7" fill="#0000ff"/>
<circle cx="1036.6" cy="439.5" r="4.7" fill="#0000ff"/>
<circle cx="1063.6" cy="443.0" r="4.7" fill="#0000ff"/>
<circle cx="1095.6" cy="430.0" r="4.7" fill="#0000ff"/>
<circle cx="1106.6" cy="430.9" r="4.7" fill="#0000ff"/>
<circle cx="1120.0" cy="436.8" r="4.7" fill="#0000ff"/>
<circle cx="1124.5" cy="443.7" r="4.7" fill="#0000ff"/>
<circle cx="1135.3" cy="476.0" r="4.7" fill="#0000ff"/>
<circle cx="1155.5" cy="498.9" r="4.7" fill="#0000ff"/>
<circle cx="1185.3" cy="520.8" r="4.7" fill="#0000ff"/>
<circle cx="1223.5" cy="537.4" r="4.7" fill="#0000ff"/>
<circle cx="1252.7" cy="522.6" r="4.7" fill="#0000ff"/>
<circle cx="1302.1" cy="522.6" r="4.7" fill="#0000ff"/>
<circle cx="1337.6" cy="500.1" r="4.7" fill="#0000ff"/>
<circle cx="1351.6" cy="461.6" r="4.7" fill="#0000ff"/>
<circle cx="1297.5" cy="411.9" r="4.7" fill="#0000ff"/>
<polyline fill="none" stroke="#ff7f00" stroke-width="2.6" stroke-dasharray="9 4 2 4" points="1219.4,383.0 1201.2,371.1 1181.8,366.0 1167.1,364.5 1161.2,359.6 1157.4,354.5 1156.4,344.6 1155.6,326.3 1148.2,307.1 1134.4,282.6 1113.0,263.3 1087.8,253.7 1060.4,255.2 1034.4,264.1 1015.2,282.6 1007.0,309.3 1010.0,337.4 1031.5,364.1 1054.4,383.3 1078.1,393.0 1103.5,394.4 1111.5,396.2 1115.5,398.3 1115.5,405.5 1114.0,417.9 1114.8,437.7 1120.9,462.4 1135.3,484.5 1155.2,498.4 1178.3,503.3 1195.3,487.2 1207.2,469.7 1222.9,456.9 1229.1,436.8 1220.3,413.7 1190.6,393.1 1219.4,383.0"/>
<rect x="1214.6" y="378.2" width="9.6" height="9.6" fill="#ff7f00"/>
<rect x="1196.4" y="366.3" width="9.6" height="9.6" fill="#ff7f00"/>
<rect x="1177.0" y="361.2" width="9.6" height="9.6" fill="#ff7f00"/>
<rect x="1162.3" y="359.7" width="9.6" height="9.6" fill="#ff7f00"/>
<rect x="1156.4" y="354.8" width="9.6" height="9.6" fill="#ff7f00"/>
<rect x="1152.6" y="349.7" width="9.6" height="9.6" fill="#ff7f00"/>
<rect x="1151.6" y="339.8" width="9.6" height="9.6" fill="#ff7f00"/>
<rect x="1150.8" y="321.5" width="9.6" height="9.6" fill="#ff7f00"/>
<rect x="1143.4" y="302.3" width="9.6" height="9.6" fill="#ff7f00"/>
<rect x="1129.6" y="277.8" width="9.6" height="9.6" fill="#ff7f00"/>
<rect x="1108.2" y="258.5" width="9.6" height="9.6" fill="#ff7f00"/>
<rect x="1083.0" y="248.9" width="9.6" height="9.6" fill="#ff7f00"/>
<rect x="1055.6" y="250.4" width="9.6" height="9.6" fill="#ff7f00"/>
<rect x="1029.6" y="259.3" width="9.6" height="9.6" fill="#ff7f00"/>
<rect x="1010.4" y="277.8" width="9.6" height="9.6" fill="#ff7f00"/>
<rect x="1002.2" y="304.5" width="9.6" height="9.6" fill="#ff7f00"/>
<rect x="1005.2" y="332.6" width="9.6" height="9.6" fill="#ff7f00"/>
<rect x="1026.7" y="359.3" width="9.6" height="9.6" fill="#ff7f00"/>
<rect x="1049.6" y="378.5" width="9.6" height="9.6" fill="#ff7f00"/>
<rect x="1073.3" y="388.2" width="9.6" height="9.6" fill="#ff7f00"/>
<rect x="1098.7" y="389.6" width="9.6" height="9.6" fill="#ff7f00"/>
<rect x="1106.7" y="391.4" width="9.6" height="9.6" fill="#ff7f00"/>
<rect x="1110.7" y="393.5" width="9.6" height="9.6" fill="#ff7f00"/>
<rect x="1110.7" y="400.7" width="9.6" height="9.6" fill="#ff7f00"/>
<rect x="1109.2" y="413.1" width="9.6" height="9.6" fill="#ff7f00"/>
<rect x="1110.0" y="432.9" width="9.6" height="9.6" fill="#ff7f00"/>
<rect x="1116.1" y="457.6" width="9.6" height="9.6" fill="#ff7f00"/>
<rect x="1130.5" y="479.7" width="9.6" height="9.6" fill="#ff7f00"/>
<rect x="1150.4" y="493.6" width="9.6" height="9.6" fill="#ff7f00"/>
<rect x="1173.5" y="498.5" width="9.6" height="9.6" fill="#ff7f00"/>
<rect x="1190.5" y="482.4" width="9.6" height="9.6" fill="#ff7f00"/>
<rect x="1202.4" y="464.9" width="9.6" height="9.6" fill="#ff7f00"/>
<rect x="1218.1" y="452.1" width="9.6" height="9.6" fill="#ff7f00"/>
<rect x="1224.3" y="432.0" width="9.6" height="9.6" fill="#ff7f00"/>
<rect x="1215.5" y="408.9" width="9.6" height="9.6" fill="#ff7f00"/>
<rect x="1185.8" y="388.3" width="9.6" height="9.6" fill="#ff7f00"/>
<text transform="translate(901.70,485.20) scale(1.0,1.02)" x="18.91 37.82 66.17 85.08" y="0" font-size="34" font-weight="bold" fill="#0000ff">25cm</text>
<path transform="translate(901.70,485.20) scale(0.01660,-0.01660)" d="M831 0L550 0L550 1059Q396 915 187 846L187 1101Q297 1137 426 1237Q555 1337 603 1466L831 1466Z" fill="#0000ff"/>
<text x="1016.99" y="469.30" font-size="20.5" fill="#0000ff">−</text>
<path transform="translate(1028.96,469.30) scale(0.01001,-0.01001)" d="M763 0L583 0L583 1147Q518 1085 412 1023Q306 961 222 930L222 1104Q373 1175 486 1276Q599 1377 646 1472L763 1472Z" fill="#0000ff"/>
<text transform="translate(759.52,88.00) scale(1.03,1.0)" x="0.00 18.15 48.46" y="0" font-size="54.5" fill="#000">(b)</text>
<text transform="translate(63.49,752.60) scale(1.04,1.0)" x="0.00 18.15 45.40" y="0" font-size="54.5" fill="#000">(c)</text>
<rect x="63.8" y="780.5" width="676.2" height="112.8" fill="none" stroke="#000" stroke-width="3.5"/>
<line x1="147.0" y1="780.5" x2="147.0" y2="804.5" stroke="#000" stroke-width="3.6"/>
<line x1="147.0" y1="893.3" x2="147.0" y2="869.3" stroke="#000" stroke-width="3.6"/>
<line x1="313.0" y1="780.5" x2="313.0" y2="804.5" stroke="#000" stroke-width="3.6"/>
<line x1="313.0" y1="893.3" x2="313.0" y2="869.3" stroke="#000" stroke-width="3.6"/>
<line x1="491.4" y1="780.5" x2="491.4" y2="804.5" stroke="#000" stroke-width="3.6"/>
<line x1="491.4" y1="893.3" x2="491.4" y2="869.3" stroke="#000" stroke-width="3.6"/>
<line x1="230.0" y1="780.5" x2="230.0" y2="792.5" stroke="#000" stroke-width="3.6"/>
<line x1="230.0" y1="893.3" x2="230.0" y2="881.3" stroke="#000" stroke-width="3.6"/>
<line x1="656.6" y1="780.5" x2="656.6" y2="792.5" stroke="#000" stroke-width="3.6"/>
<line x1="656.6" y1="893.3" x2="656.6" y2="881.3" stroke="#000" stroke-width="3.6"/>
<polyline fill="none" stroke="#ff0000" stroke-width="3.5" stroke-linejoin="miter" points="62.1,880.5 90.0,880.5 94.8,875.2 107.0,875.2 111.8,880.5 286.4,880.5 294.8,872.0 294.8,867.9 299.7,863.0 308.7,814.5 316.7,866.7 325.2,875.6 326.4,880.5 391.5,880.5 392.1,886.0"/>
<polyline fill="none" stroke="#ff0000" stroke-width="3.5" stroke-linejoin="miter" points="406.3,880.5 548.2,880.8 553.2,875.9 565.6,875.9 570.6,871.4 579.3,871.4 588.0,862.7 596.8,858.9 604.2,842.2 613.0,828.5 621.7,811.1 630.4,806.1 635.4,797.4 647.8,811.1 656.6,837.2 665.3,846.0 671.5,854.7 676.5,858.9 682.7,862.7 687.7,872.1 700.2,872.1 705.2,875.9 717.6,875.9 722.6,880.8 741.0,880.8"/>
<rect x="395" y="777.5" width="14.5" height="6" fill="#fff"/>
<rect x="395" y="890.3" width="14.5" height="6" fill="#fff"/>
<line x1="391.6" y1="796.9" x2="398.9" y2="765.7" stroke="#000" stroke-width="2.9"/>
<line x1="404.6" y1="796.9" x2="412.5" y2="765.7" stroke="#000" stroke-width="2.9"/>
<line x1="391.6" y1="910.3" x2="399.7" y2="876.9" stroke="#000" stroke-width="2.9"/>
<line x1="404.6" y1="910.3" x2="412.5" y2="876.9" stroke="#000" stroke-width="2.9"/>
<text x="375.68 408.35" y="855.50" font-size="42" font-weight="bold" fill="#ff0000">Gr</text>
<text x="127.32 146.07 166.77" y="944.00" font-size="34" fill="#000">400</text>
<path transform="translate(105.21,944.00) scale(0.01660,-0.01660)" d="M763 0L583 0L583 1147Q518 1085 412 1023Q306 961 222 930L222 1104Q373 1175 486 1276Q599 1377 646 1472L763 1472Z" fill="#000"/>
<text x="290.87 310.57 332.77" y="944.00" font-size="34" fill="#000">600</text>
<path transform="translate(275.61,944.00) scale(0.01660,-0.01660)" d="M763 0L583 0L583 1147Q518 1085 412 1023Q306 961 222 930L222 1104Q373 1175 486 1276Q599 1377 646 1472L763 1472Z" fill="#000"/>
<text x="453.89 473.07 492.77 511.97" y="944.00" font-size="34" fill="#000">2600</text>
<rect x="63.3" y="967.5" width="676.7" height="109.0" fill="none" stroke="#000" stroke-width="3.5"/>
<line x1="90.0" y1="967.5" x2="90.0" y2="992.5" stroke="#000" stroke-width="3.6"/>
<line x1="90.0" y1="1076.5" x2="90.0" y2="1051.5" stroke="#000" stroke-width="3.6"/>
<line x1="234.2" y1="967.5" x2="234.2" y2="992.5" stroke="#000" stroke-width="3.6"/>
<line x1="234.2" y1="1076.5" x2="234.2" y2="1051.5" stroke="#000" stroke-width="3.6"/>
<line x1="377.8" y1="967.5" x2="377.8" y2="992.5" stroke="#000" stroke-width="3.6"/>
<line x1="377.8" y1="1076.5" x2="377.8" y2="1051.5" stroke="#000" stroke-width="3.6"/>
<line x1="526.5" y1="967.5" x2="526.5" y2="992.5" stroke="#000" stroke-width="3.6"/>
<line x1="526.5" y1="1076.5" x2="526.5" y2="1051.5" stroke="#000" stroke-width="3.6"/>
<line x1="669.8" y1="967.5" x2="669.8" y2="992.5" stroke="#000" stroke-width="3.6"/>
<line x1="669.8" y1="1076.5" x2="669.8" y2="1051.5" stroke="#000" stroke-width="3.6"/>
<line x1="164.4" y1="967.5" x2="164.4" y2="980.0" stroke="#000" stroke-width="3.6"/>
<line x1="164.4" y1="1076.5" x2="164.4" y2="1064.0" stroke="#000" stroke-width="3.6"/>
<line x1="308.2" y1="967.5" x2="308.2" y2="980.0" stroke="#000" stroke-width="3.6"/>
<line x1="308.2" y1="1076.5" x2="308.2" y2="1064.0" stroke="#000" stroke-width="3.6"/>
<line x1="452.3" y1="967.5" x2="452.3" y2="980.0" stroke="#000" stroke-width="3.6"/>
<line x1="452.3" y1="1076.5" x2="452.3" y2="1064.0" stroke="#000" stroke-width="3.6"/>
<line x1="596.3" y1="967.5" x2="596.3" y2="980.0" stroke="#000" stroke-width="3.6"/>
<line x1="596.3" y1="1076.5" x2="596.3" y2="1064.0" stroke="#000" stroke-width="3.6"/>
<polyline fill="none" stroke="#0000ff" stroke-width="3.5" stroke-linejoin="miter" points="62.1,1059.1 76.7,1059.1 82.0,1063.5 90.0,1063.5 99.7,1059.1 103.8,1059.1 112.5,1049.9 125.6,976.2 134.1,1002.1 138.5,1054.7 147.0,1059.1 151.8,1063.5 160.3,1063.5 169.3,1059.1 173.2,1045.8 182.1,1032.4 187.0,1054.7 199.1,1032.4 208.8,1041.6 216.8,1054.7 220.9,1049.9 229.9,1045.8 242.7,1059.1 256.1,1059.1 264.5,1049.9 269.4,1049.9 277.9,1059.1 282.2,1054.7 290.0,1049.9 304.1,1036.8 313.0,1041.6 316.7,1054.7 325.2,1041.6 331.2,1047.0 338.5,1059.1 351.8,1059.1 356.7,1049.9 365.2,1054.7 377.3,1054.7 387.0,1059.1 613.0,1059.1 622.9,1064.1 627.9,1064.1 635.4,1058.4 640.4,1064.1 650.3,1058.4 654.1,1058.4 661.6,1064.1 691.5,1064.1 702.7,1058.4 713.9,1064.1 743.8,1064.1"/>
<text x="339.96 369.57 392.37 419.72" y="1042.90" font-size="41" font-weight="bold" fill="#0000ff">ReSe</text>
<text x="442.16" y="1049.50" font-size="27" font-weight="bold" fill="#0000ff">2</text>
<text x="79.97 100.87" y="1127.00" font-size="34" fill="#000">00</text>
<path transform="translate(60.71,1127.00) scale(0.01660,-0.01660)" d="M763 0L583 0L583 1147Q518 1085 412 1023Q306 961 222 930L222 1104Q373 1175 486 1276Q599 1377 646 1472L763 1472Z" fill="#000"/>
<text x="204.99 226.67 245.37" y="1127.00" font-size="34" fill="#000">200</text>
<text x="349.81 369.77 388.47" y="1127.00" font-size="34" fill="#000">300</text>
<text x="498.32 517.77 535.07" y="1127.00" font-size="34" fill="#000">400</text>
<text x="641.74 660.87 678.67" y="1127.00" font-size="34" fill="#000">500</text>
<rect x="63.3" y="1155.0" width="676.7" height="113.5" fill="none" stroke="#000" stroke-width="3.5"/>
<line x1="120.8" y1="1155.0" x2="120.8" y2="1180.0" stroke="#000" stroke-width="3.6"/>
<line x1="120.8" y1="1268.5" x2="120.8" y2="1238.5" stroke="#000" stroke-width="3.6"/>
<line x1="234.2" y1="1155.0" x2="234.2" y2="1180.0" stroke="#000" stroke-width="3.6"/>
<line x1="234.2" y1="1268.5" x2="234.2" y2="1238.5" stroke="#000" stroke-width="3.6"/>
<line x1="347.0" y1="1155.0" x2="347.0" y2="1180.0" stroke="#000" stroke-width="3.6"/>
<line x1="347.0" y1="1268.5" x2="347.0" y2="1238.5" stroke="#000" stroke-width="3.6"/>
<line x1="456.0" y1="1155.0" x2="456.0" y2="1180.0" stroke="#000" stroke-width="3.6"/>
<line x1="456.0" y1="1268.5" x2="456.0" y2="1238.5" stroke="#000" stroke-width="3.6"/>
<line x1="570.6" y1="1155.0" x2="570.6" y2="1180.0" stroke="#000" stroke-width="3.6"/>
<line x1="570.6" y1="1268.5" x2="570.6" y2="1238.5" stroke="#000" stroke-width="3.6"/>
<line x1="683.5" y1="1155.0" x2="683.5" y2="1180.0" stroke="#000" stroke-width="3.6"/>
<line x1="683.5" y1="1268.5" x2="683.5" y2="1238.5" stroke="#000" stroke-width="3.6"/>
<line x1="177.8" y1="1155.0" x2="177.8" y2="1167.5" stroke="#000" stroke-width="3.6"/>
<line x1="177.8" y1="1268.5" x2="177.8" y2="1256.0" stroke="#000" stroke-width="3.6"/>
<line x1="290.7" y1="1155.0" x2="290.7" y2="1167.5" stroke="#000" stroke-width="3.6"/>
<line x1="290.7" y1="1268.5" x2="290.7" y2="1256.0" stroke="#000" stroke-width="3.6"/>
<line x1="404.0" y1="1155.0" x2="404.0" y2="1167.5" stroke="#000" stroke-width="3.6"/>
<line x1="404.0" y1="1268.5" x2="404.0" y2="1256.0" stroke="#000" stroke-width="3.6"/>
<line x1="513.3" y1="1155.0" x2="513.3" y2="1167.5" stroke="#000" stroke-width="3.6"/>
<line x1="513.3" y1="1268.5" x2="513.3" y2="1256.0" stroke="#000" stroke-width="3.6"/>
<line x1="626.7" y1="1155.0" x2="626.7" y2="1167.5" stroke="#000" stroke-width="3.6"/>
<line x1="626.7" y1="1268.5" x2="626.7" y2="1256.0" stroke="#000" stroke-width="3.6"/>
<polyline fill="none" stroke="#00ff00" stroke-width="3.5" stroke-linejoin="miter" points="62.1,1251.0 125.2,1251.0 133.6,1242.3 142.6,1167.2 147.0,1201.8 154.7,1242.3 163.9,1251.0 614.2,1250.9 618.0,1246.4 674.0,1246.4 679.0,1250.9 743.8,1250.9"/>
<text x="350.62 377.97 389.36" y="1216.80" font-size="41" font-weight="bold" fill="#00ff00">SiO</text>
<text x="421.06" y="1224.00" font-size="27" font-weight="bold" fill="#00ff00">2</text>
<text x="87.44 107.17 126.77" y="1318.50" font-size="34" fill="#000">500</text>
<text x="200.87 220.97 240.67" y="1318.50" font-size="34" fill="#000">600</text>
<text x="314.66 334.67 353.57" y="1318.50" font-size="34" fill="#000">700</text>
<text x="427.82 448.57 467.37" y="1318.50" font-size="34" fill="#000">800</text>
<text x="541.51 562.37 581.17" y="1318.50" font-size="34" fill="#000">900</text>
<text x="665.17 683.57 702.37" y="1318.50" font-size="34" fill="#000">000</text>
<path transform="translate(645.31,1318.50) scale(0.01660,-0.01660)" d="M763 0L583 0L583 1147Q518 1085 412 1023Q306 961 222 930L222 1104Q373 1175 486 1276Q599 1377 646 1472L763 1472Z" fill="#000"/>
<text x="236.08 261.89 286.58 318.19 342.88 375.04 396.47 419.56 427.96 439.42 462.04 475.59 497.68" y="1361.70" font-size="38" fill="#000">Ramanshift(cm</text>
<text x="532.42" y="1341.00" font-size="22" fill="#000">−</text>
<path transform="translate(545.26,1341.00) scale(0.01074,-0.01074)" d="M763 0L583 0L583 1147Q518 1085 412 1023Q306 961 222 930L222 1104Q373 1175 486 1276Q599 1377 646 1472L763 1472Z" fill="#000"/>
<text x="560.38" y="1361.70" font-size="38" fill="#000">)</text>
<text transform="translate(759.39,755.20) scale(1.04,1.0)" x="0.00 18.15 48.46" y="0" font-size="54.5" fill="#000">(d)</text>
<rect x="748.8" y="775.0" width="701.0" height="582.8" fill="#000"/>
<defs>
<filter id="bl" x="-20%" y="-20%" width="140%" height="140%"><feGaussianBlur stdDeviation="3.5"/></filter>
<filter id="bl2" x="-30%" y="-30%" width="160%" height="160%"><feGaussianBlur stdDeviation="7"/></filter>
<clipPath id="q1"><rect x="748.8" y="775.0" width="350.4" height="291.0"/></clipPath>
<clipPath id="q2"><rect x="1099.2" y="775.0" width="350.6" height="291.0"/></clipPath>
<clipPath id="q3"><rect x="748.8" y="1066.0" width="350.4" height="291.8"/></clipPath>
<clipPath id="q4"><rect x="1099.2" y="1066.0" width="350.6" height="291.8"/></clipPath>
<linearGradient id="gUL" gradientUnits="userSpaceOnUse" x1="0" y1="1080" x2="0" y2="1250"><stop offset="0" stop-color="#00a400"/><stop offset="0.18" stop-color="#007000"/><stop offset="0.5" stop-color="#005400"/><stop offset="1" stop-color="#004400"/></linearGradient>
<linearGradient id="gUL1" gradientUnits="userSpaceOnUse" x1="0" y1="790" x2="0" y2="960"><stop offset="0" stop-color="#007800"/><stop offset="0.35" stop-color="#006000"/><stop offset="0.65" stop-color="#004400"/><stop offset="1" stop-color="#003e00"/></linearGradient>
<linearGradient id="gTop" gradientUnits="userSpaceOnUse" x1="0" y1="850" x2="0" y2="935"><stop offset="0" stop-color="#fa0000"/><stop offset="0.5" stop-color="#c80000"/><stop offset="1" stop-color="#7a0000"/></linearGradient>
<linearGradient id="gStrip" x1="0" y1="0" x2="0" y2="1"><stop offset="0" stop-color="#00ff00"/><stop offset="0.65" stop-color="#00f200"/><stop offset="1" stop-color="#00c000" stop-opacity="0"/></linearGradient>
</defs>
<g clip-path="url(#q1)">
<rect x="748.8" y="775.0" width="350.4000000000001" height="291.0" fill="#004800"/>
<g filter="url(#bl)">
<polygon points="743.6,769.0 931.3,769.0 931.3,776.3 914.3,795.7 914.3,805.4 924.0,824.8 928.8,841.7 931.3,861.1 938.5,873.2 928.8,885.4 902.2,909.6 880.4,929.0 846.4,946.0 802.8,953.2 768.8,958.1 743.6,953.2" fill="url(#gUL1)" />
<polygon points="920.0,768.0 918.6,783.0 908.4,799.0 911.3,810.5 918.6,827.9 922.9,842.4 927.2,856.9 935.9,868.5 950.4,868.5 964.9,862.7 976.5,851.1 990.9,836.6 1005.4,829.4 1019.9,827.9 1034.4,830.8 1048.9,839.5 1059.0,854.0 1060.4,868.5 1048.9,882.9 1031.5,897.4 1012.7,913.3 999.6,926.4 991.6,939.0 1007.6,938.0 1029.6,922.0 1051.6,908.0 1073.6,898.0 1087.6,893.0 1105.6,890.0 1105.6,768.0" fill="#f40000" />
<polygon points="743.6,1004.0 785.0,1001.0 825.4,996.0 865.8,1005.0 899.5,1012.0 919.7,1027.7 919.7,1054.7 919.7,1070.0 743.6,1070.0" fill="#b00000" />
<polygon points="743.6,950.0 761.6,945.0 782.6,950.0 786.6,975.0 781.6,998.0 761.6,1000.0 743.6,998.0" fill="#a00000" />
<rect x="915" y="982" width="190" height="14" fill="#003000" opacity="0.7"/>
</g><g filter="url(#bl2)">
<rect x="748.8" y="982" width="95" height="18" fill="#2a0a00" opacity="0.85"/>
<polygon points="790.0,956.0 824.0,956.0 834.0,992.0 820.0,1000.0 792.0,998.0" fill="#5a0000" />
<ellipse cx="866" cy="1062" rx="26" ry="15" fill="#1a40b0"/>
<ellipse cx="784" cy="899" rx="15" ry="6" fill="#0a4a5a" transform="rotate(-20 784 899)"/>
</g>
<g filter="url(#bl)">
<polygon points="1007.0,820.5 1034.4,820.5 1061.7,832.2 1069.5,840.0 1067.6,863.5 1053.9,877.1 1014.8,916.2 975.8,959.2 936.7,1002.1 923.0,1015.8 909.4,1011.9 893.8,998.2 858.6,984.5 825.4,968.9 821.5,959.2 831.3,953.3 878.1,920.1 936.7,877.1 975.8,843.9" fill="#153aa6" />
</g><g filter="url(#bl2)">
<polygon points="995.9,840.2 1017.8,840.2 1039.6,849.6 1045.9,855.8 1044.3,874.6 1033.4,885.5 1002.1,916.8 970.9,951.2 939.6,985.5 928.7,996.5 917.8,993.4 905.3,982.4 877.1,971.4 850.6,959.0 847.5,951.2 855.3,946.5 892.7,919.9 939.6,885.5 970.9,859.0" fill="#1f58dc" />
</g>
<rect x="748.8" y="775.0" width="172" height="20" fill="url(#gStrip)"/>
</g>
<g clip-path="url(#q2)">
<rect x="1099.2" y="775.0" width="350.5999999999999" height="291.0" fill="#000"/>
<g filter="url(#bl)">
<polygon points="1270.4,768.0 1269.0,783.0 1258.8,799.0 1261.7,810.5 1269.0,827.9 1273.3,842.4 1277.6,856.9 1286.3,868.5 1300.8,868.5 1315.3,862.7 1326.9,851.1 1341.3,836.6 1355.8,829.4 1370.3,827.9 1384.8,830.8 1399.3,839.5 1409.4,854.0 1410.8,868.5 1399.3,882.9 1381.9,897.4 1363.1,913.3 1350.0,926.4 1342.0,939.0 1358.0,938.0 1380.0,922.0 1402.0,908.0 1424.0,898.0 1438.0,893.0 1456.0,890.0 1456.0,768.0" fill="url(#gTop)" />
<polygon points="1094.0,1004.0 1135.4,1001.0 1175.8,996.0 1216.2,1005.0 1249.9,1012.0 1270.1,1027.7 1270.1,1054.7 1270.1,1070.0 1094.0,1070.0" fill="#9c0000" />
</g><g filter="url(#bl2)">
<polygon points="1094.0,950.0 1112.0,945.0 1133.0,950.0 1137.0,975.0 1132.0,998.0 1112.0,1000.0 1094.0,998.0" fill="#780000" />
<polygon points="1146.0,958.0 1165.0,950.0 1184.0,956.0 1190.0,985.0 1183.0,1002.0 1160.0,1004.0 1146.0,995.0" fill="#600000" />
<ellipse cx="1206" cy="1064" rx="17" ry="13" fill="#000"/>
</g></g>
<g clip-path="url(#q3)">
<rect x="748.8" y="1066.0" width="350.4000000000001" height="291.79999999999995" fill="#000"/>
<g filter="url(#bl)">
<polygon points="1007.0,1111.5 1034.4,1111.5 1061.7,1123.2 1069.5,1131.0 1067.6,1154.5 1053.9,1168.1 1014.8,1207.2 975.8,1250.2 936.7,1293.1 923.0,1306.8 909.4,1302.9 893.8,1289.2 858.6,1275.5 825.4,1259.9 821.5,1250.2 831.3,1244.3 878.1,1211.1 936.7,1168.1 975.8,1134.9" fill="#153cb0" />
<ellipse cx="783" cy="1190" rx="14" ry="5" fill="#143c9a" transform="rotate(-20 783 1190)"/>
<ellipse cx="868" cy="1356" rx="30" ry="6" fill="#1a4cc0"/>
</g><g filter="url(#bl2)">
<polygon points="995.9,1131.2 1017.8,1131.2 1039.6,1140.6 1045.9,1146.8 1044.3,1165.6 1033.4,1176.5 1002.1,1207.8 970.9,1242.2 939.6,1276.5 928.7,1287.5 917.8,1284.4 905.3,1273.4 877.1,1262.4 850.6,1250.0 847.5,1242.2 855.3,1237.5 892.7,1210.9 939.6,1176.5 970.9,1150.0" fill="#205de6" />
</g></g>
<g clip-path="url(#q4)">
<rect x="1099.2" y="1066.0" width="350.5999999999999" height="291.79999999999995" fill="#000"/>
<g filter="url(#bl)">
<polygon points="1094.0,1060.0 1281.7,1060.0 1281.7,1067.3 1264.7,1086.7 1264.7,1096.4 1274.4,1115.8 1279.2,1132.7 1281.7,1152.1 1288.9,1164.2 1279.2,1176.4 1252.6,1200.6 1230.8,1220.0 1196.8,1237.0 1153.2,1244.2 1119.2,1249.1 1094.0,1244.2" fill="url(#gUL)" />
<polygon points="1252.6,1362.0 1259.8,1321.8 1279.2,1292.7 1301.1,1268.5 1327.7,1244.2 1356.8,1224.8 1385.9,1205.5 1410.2,1186.1 1455.0,1166.7 1455.0,1362.0" fill="#004800" />
</g><g filter="url(#bl2)">
<polygon points="1094.0,1240.0 1160.0,1244.0 1150.0,1290.0 1125.0,1318.0 1094.0,1318.0" fill="#002c00" />
<rect x="1290" y="1272" width="170" height="14" fill="#003400" opacity="0.8"/>
</g>
<rect x="1099.2" y="1066.0" width="183" height="19" fill="url(#gStrip)"/>
<rect x="1282" y="1067.0" width="170" height="2.5" fill="#00a000" opacity="0.5"/>
</g>
<text x="837.52 867.13 892.17 928.63 953.67 965.06 990.11 1012.91" y="818.90" font-size="41" font-weight="bold" fill="#fff">Combined</text>
<text x="1333.68 1366.35" y="816.80" font-size="42" font-weight="bold" fill="#fff">Gr</text>
<text x="887.36 916.97 939.77 967.12" y="1218.50" font-size="41" font-weight="bold" fill="#fff">ReSe</text>
<text x="989.26" y="1226.00" font-size="27" font-weight="bold" fill="#fff">2</text>
<text x="1132.62 1159.97 1171.36" y="1154.70" font-size="41" font-weight="bold" fill="#fff">SiO</text>
<text x="1202.86" y="1161.10" font-size="27" font-weight="bold" fill="#fff">2</text>
<rect x="758.2" y="1295.4" width="151" height="19.4" fill="#050a1e"/>
<rect x="762" y="1301" width="140.6" height="11" fill="#fff"/>
<text transform="translate(790.80,1340.60) scale(1.15,1.0)" x="0.00 25.02 42.30" y="0" font-size="30" fill="#fff">8μm</text>
</svg></body></html>
